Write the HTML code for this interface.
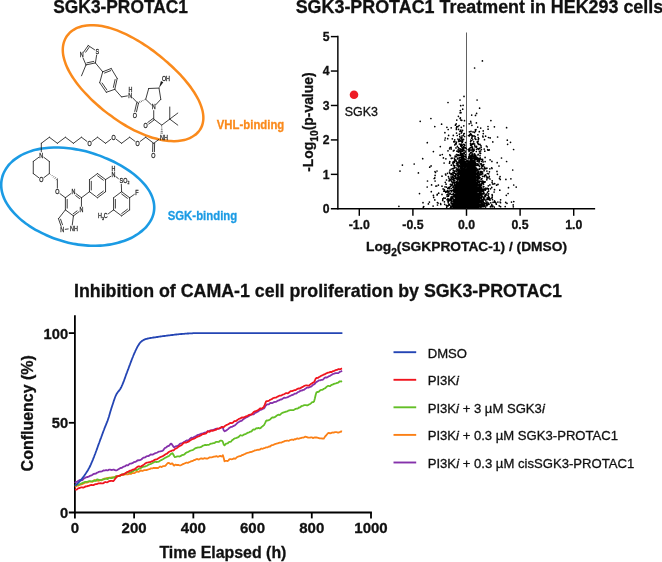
<!DOCTYPE html>
<html lang="en">
<head>
<meta charset="utf-8">
<title>SGK3-PROTAC1</title>
<style>
html,body{margin:0;padding:0;background:#fff;}
body{width:662px;height:562px;overflow:hidden;}
svg{display:block;font-family:"Liberation Sans", sans-serif;}
</style>
</head>
<body>
<svg width="662" height="562" viewBox="0 0 662 562">
<rect width="662" height="562" fill="#fff"/>
<text x="53.30" y="13.10" font-size="18.3" font-weight="bold" fill="#111" text-anchor="start" textLength="134.60" lengthAdjust="spacingAndGlyphs" stroke="#111" stroke-width="0.3">SGK3-PROTAC1</text>
<text x="295.70" y="13.30" font-size="18.3" font-weight="bold" fill="#111" text-anchor="start" textLength="367.50" lengthAdjust="spacingAndGlyphs" stroke="#111" stroke-width="0.3">SGK3-PROTAC1 Treatment in HEK293 cells</text>
<text x="74.00" y="297.20" font-size="18.5" font-weight="bold" fill="#111" text-anchor="start" textLength="488.00" lengthAdjust="spacingAndGlyphs" stroke="#111" stroke-width="0.3">Inhibition of CAMA-1 cell proliferation by SGK3-PROTAC1</text>
<path d="M198.35 131.88C197.80 132.52 197.20 133.13 196.56 133.71C195.92 134.28 195.25 134.83 194.54 135.34C193.82 135.85 193.08 136.33 192.29 136.78C191.51 137.23 190.69 137.64 189.84 138.02C188.99 138.41 188.10 138.76 187.18 139.07C186.26 139.39 185.30 139.67 184.31 139.92C183.32 140.17 182.30 140.38 181.25 140.55C180.19 140.73 179.10 140.87 177.98 140.97C176.86 141.07 175.71 141.13 174.52 141.16C173.34 141.18 172.12 141.16 170.87 141.10C169.63 141.04 168.35 140.94 167.04 140.79C165.73 140.65 164.40 140.46 163.04 140.23C161.68 139.99 160.29 139.72 158.88 139.40C157.47 139.08 156.04 138.71 154.59 138.30C153.14 137.89 151.67 137.44 150.18 136.94C148.70 136.45 147.20 135.91 145.69 135.33C144.18 134.75 142.66 134.13 141.14 133.47C139.61 132.81 138.08 132.11 136.55 131.37C135.02 130.64 133.48 129.87 131.95 129.06C130.42 128.26 128.89 127.42 127.37 126.55C125.84 125.69 124.32 124.79 122.82 123.86C121.31 122.94 119.81 121.99 118.32 121.01C116.83 120.03 115.36 119.03 113.90 118.01C112.43 116.98 110.99 115.94 109.55 114.87C108.12 113.81 106.71 112.72 105.31 111.62C103.91 110.52 102.53 109.40 101.18 108.26C99.82 107.13 98.48 105.97 97.16 104.81C95.84 103.64 94.55 102.46 93.28 101.27C92.01 100.07 90.76 98.87 89.55 97.65C88.33 96.44 87.13 95.21 85.97 93.97C84.81 92.73 83.68 91.49 82.59 90.24C81.49 88.98 80.43 87.72 79.40 86.46C78.38 85.20 77.38 83.93 76.44 82.66C75.49 81.39 74.58 80.12 73.72 78.86C72.86 77.59 72.04 76.32 71.27 75.06C70.51 73.81 69.78 72.55 69.11 71.31C68.44 70.07 67.82 68.83 67.25 67.61C66.69 66.39 66.17 65.18 65.71 63.99C65.25 62.80 64.85 61.62 64.50 60.47C64.15 59.32 63.85 58.18 63.61 57.07C63.37 55.96 63.18 54.87 63.04 53.81C62.91 52.74 62.83 51.70 62.80 50.69C62.77 49.68 62.79 48.70 62.87 47.74C62.94 46.78 63.06 45.85 63.23 44.95C63.39 44.05 63.61 43.18 63.87 42.33C64.13 41.49 64.43 40.67 64.78 39.89C65.12 39.10 65.51 38.34 65.94 37.61C66.36 36.88 66.83 36.18 67.34 35.51C67.84 34.84 68.39 34.19 68.97 33.58C69.55 32.96 70.17 32.38 70.83 31.82C71.48 31.27 72.18 30.74 72.91 30.25C73.64 29.75 74.41 29.29 75.22 28.86C76.03 28.43 76.87 28.03 77.75 27.67C78.63 27.31 79.56 26.98 80.51 26.69C81.47 26.41 82.47 26.15 83.51 25.94C84.54 25.73 85.62 25.56 86.73 25.43C87.85 25.30 89.00 25.22 90.18 25.18C91.37 25.14 92.60 25.14 93.86 25.20C95.11 25.25 96.41 25.35 97.73 25.50C99.06 25.65 100.42 25.85 101.80 26.09C103.18 26.34 104.60 26.64 106.03 26.98C107.47 27.33 108.93 27.72 110.41 28.16C111.88 28.60 113.38 29.09 114.89 29.63C116.39 30.16 117.92 30.74 119.45 31.36C120.97 31.98 122.51 32.65 124.05 33.35C125.59 34.05 127.13 34.79 128.67 35.57C130.21 36.35 131.75 37.16 133.28 38.00C134.81 38.84 136.33 39.72 137.85 40.62C139.36 41.52 140.87 42.45 142.36 43.40C143.85 44.35 145.33 45.33 146.80 46.33C148.26 47.32 149.72 48.34 151.15 49.37C152.59 50.41 154.01 51.46 155.41 52.53C156.82 53.60 158.21 54.68 159.58 55.78C160.95 56.87 162.30 57.99 163.64 59.11C164.98 60.23 166.30 61.37 167.60 62.52C168.90 63.67 170.18 64.84 171.44 66.01C172.70 67.18 173.94 68.37 175.16 69.57C176.38 70.76 177.58 71.97 178.75 73.19C179.92 74.41 181.07 75.64 182.19 76.87C183.31 78.11 184.40 79.36 185.46 80.61C186.51 81.86 187.54 83.12 188.53 84.38C189.51 85.65 190.47 86.92 191.38 88.18C192.29 89.45 193.16 90.72 193.98 91.99C194.80 93.25 195.58 94.52 196.30 95.78C197.03 97.03 197.70 98.29 198.33 99.53C198.95 100.76 199.51 102.00 200.02 103.21C200.53 104.42 200.99 105.62 201.38 106.80C201.78 107.98 202.11 109.14 202.39 110.27C202.67 111.41 202.88 112.52 203.04 113.61C203.20 114.69 203.30 115.76 203.34 116.78C203.38 117.81 203.36 118.82 203.29 119.78C203.21 120.75 203.08 121.69 202.90 122.60C202.72 123.50 202.48 124.38 202.19 125.22C201.91 126.06 201.57 126.86 201.19 127.64C200.81 128.41 200.38 129.15 199.90 129.86C199.43 130.57 198.91 131.24 198.35 131.88Z" fill="none" stroke="#fa8a1c" stroke-width="2.5"/>
<path d="M152.85 215.86C152.52 216.82 152.14 217.77 151.71 218.70C151.27 219.63 150.79 220.54 150.25 221.43C149.72 222.32 149.13 223.19 148.51 224.04C147.88 224.89 147.21 225.72 146.49 226.53C145.78 227.34 145.02 228.13 144.22 228.89C143.42 229.66 142.58 230.41 141.70 231.13C140.83 231.85 139.91 232.56 138.96 233.23C138.01 233.91 137.02 234.57 136.00 235.20C134.97 235.84 133.91 236.45 132.82 237.03C131.72 237.62 130.59 238.18 129.43 238.71C128.27 239.25 127.07 239.76 125.84 240.24C124.60 240.72 123.34 241.18 122.04 241.60C120.74 242.03 119.41 242.43 118.05 242.79C116.69 243.16 115.30 243.49 113.87 243.80C112.45 244.10 111.00 244.37 109.52 244.60C108.04 244.84 106.54 245.04 105.01 245.21C103.48 245.37 101.92 245.50 100.35 245.59C98.77 245.68 97.17 245.74 95.56 245.75C93.95 245.77 92.32 245.75 90.68 245.69C89.03 245.63 87.38 245.53 85.71 245.40C84.05 245.26 82.38 245.08 80.71 244.87C79.03 244.66 77.35 244.41 75.68 244.12C74.00 243.83 72.32 243.51 70.65 243.15C68.98 242.79 67.32 242.39 65.66 241.96C64.01 241.53 62.36 241.07 60.73 240.57C59.10 240.08 57.48 239.55 55.88 238.99C54.28 238.43 52.70 237.84 51.13 237.23C49.57 236.61 48.03 235.96 46.51 235.29C44.99 234.62 43.49 233.92 42.03 233.20C40.56 232.47 39.11 231.73 37.70 230.95C36.28 230.18 34.89 229.39 33.54 228.57C32.19 227.76 30.86 226.92 29.57 226.06C28.28 225.21 27.02 224.33 25.80 223.44C24.58 222.54 23.39 221.63 22.25 220.70C21.10 219.77 19.99 218.82 18.92 217.87C17.85 216.91 16.83 215.93 15.84 214.94C14.86 213.96 13.92 212.96 13.03 211.95C12.13 210.94 11.28 209.91 10.48 208.88C9.68 207.85 8.93 206.81 8.23 205.77C7.53 204.73 6.87 203.67 6.27 202.62C5.67 201.56 5.13 200.50 4.63 199.44C4.13 198.38 3.69 197.32 3.30 196.25C2.91 195.19 2.58 194.13 2.30 193.07C2.01 192.02 1.79 190.96 1.61 189.91C1.44 188.86 1.32 187.81 1.26 186.78C1.19 185.74 1.18 184.71 1.22 183.69C1.26 182.67 1.35 181.66 1.50 180.66C1.64 179.66 1.84 178.67 2.09 177.70C2.33 176.72 2.63 175.76 2.98 174.81C3.33 173.86 3.73 172.93 4.18 172.01C4.62 171.10 5.12 170.19 5.66 169.31C6.21 168.43 6.80 167.56 7.44 166.71C8.07 165.87 8.76 165.04 9.49 164.23C10.22 163.42 11.00 162.63 11.83 161.87C12.65 161.11 13.52 160.36 14.44 159.65C15.35 158.93 16.31 158.23 17.32 157.57C18.32 156.90 19.37 156.26 20.46 155.65C21.55 155.04 22.69 154.46 23.86 153.90C25.04 153.35 26.26 152.83 27.52 152.34C28.77 151.86 30.07 151.40 31.41 150.98C32.74 150.56 34.11 150.18 35.52 149.83C36.92 149.48 38.37 149.17 39.83 148.90C41.30 148.63 42.80 148.39 44.33 148.20C45.85 148.00 47.41 147.84 48.98 147.73C50.55 147.61 52.15 147.53 53.76 147.50C55.37 147.46 57.00 147.46 58.63 147.50C60.27 147.54 61.92 147.62 63.58 147.74C65.24 147.86 66.90 148.01 68.57 148.20C70.23 148.39 71.90 148.62 73.57 148.88C75.23 149.15 76.90 149.44 78.55 149.77C80.21 150.10 81.86 150.46 83.50 150.85C85.15 151.24 86.78 151.67 88.40 152.12C90.02 152.57 91.64 153.05 93.23 153.55C94.83 154.05 96.41 154.59 97.98 155.14C99.55 155.70 101.10 156.28 102.64 156.88C104.18 157.48 105.70 158.11 107.20 158.76C108.70 159.41 110.18 160.08 111.65 160.78C113.11 161.47 114.55 162.18 115.98 162.92C117.40 163.66 118.80 164.41 120.18 165.19C121.55 165.97 122.91 166.77 124.24 167.59C125.56 168.40 126.87 169.24 128.14 170.10C129.41 170.96 130.65 171.84 131.86 172.74C133.07 173.64 134.24 174.56 135.38 175.49C136.52 176.43 137.62 177.38 138.68 178.35C139.73 179.32 140.75 180.31 141.72 181.31C142.69 182.31 143.61 183.33 144.49 184.36C145.36 185.39 146.18 186.44 146.95 187.49C147.71 188.54 148.42 189.60 149.08 190.67C149.73 191.74 150.32 192.81 150.85 193.89C151.39 194.97 151.86 196.05 152.27 197.13C152.68 198.21 153.02 199.30 153.30 200.37C153.59 201.45 153.80 202.52 153.96 203.59C154.11 204.65 154.20 205.72 154.23 206.76C154.26 207.81 154.22 208.85 154.13 209.88C154.03 210.90 153.88 211.92 153.66 212.91C153.45 213.91 153.18 214.89 152.85 215.86Z" fill="none" stroke="#1b9be4" stroke-width="2.6"/>
<text x="216.80" y="129.40" font-size="13.5" font-weight="bold" fill="#fa8a1c" text-anchor="start" textLength="67.50" lengthAdjust="spacingAndGlyphs" stroke="#fa8a1c" stroke-width="0.3">VHL-binding</text>
<text x="167.70" y="220.10" font-size="13.5" font-weight="bold" fill="#1b9be4" text-anchor="start" textLength="69.50" lengthAdjust="spacingAndGlyphs" stroke="#1b9be4" stroke-width="0.3">SGK-binding</text>
<g stroke="#1c1c1c" stroke-width="0.85" stroke-linecap="round" fill="none"><line x1="43.84" y1="157.31" x2="49.33" y2="161.45"/><line x1="49.33" y1="161.45" x2="49.33" y2="173.55"/><line x1="49.33" y1="173.55" x2="43.84" y2="177.69"/><line x1="38.76" y1="177.69" x2="33.27" y2="173.55"/><line x1="33.27" y1="173.55" x2="33.27" y2="161.45"/><line x1="33.27" y1="161.45" x2="38.76" y2="157.31"/><line x1="41.30" y1="151.80" x2="41.30" y2="143.30"/><line x1="41.30" y1="143.30" x2="49.33" y2="137.25"/><line x1="49.33" y1="137.25" x2="57.36" y2="143.30"/><line x1="57.36" y1="143.30" x2="65.39" y2="137.25"/><line x1="65.39" y1="137.25" x2="73.42" y2="143.30"/><line x1="73.42" y1="143.30" x2="81.45" y2="137.25"/><line x1="81.45" y1="137.25" x2="86.94" y2="141.39"/><line x1="92.02" y1="141.39" x2="97.51" y2="137.25"/><line x1="97.51" y1="137.25" x2="105.54" y2="143.30"/><line x1="105.54" y1="143.30" x2="111.03" y2="139.16"/><line x1="116.11" y1="139.16" x2="121.60" y2="143.30"/><line x1="121.60" y1="143.30" x2="129.63" y2="137.25"/><line x1="129.63" y1="137.25" x2="135.12" y2="141.39"/><line x1="140.20" y1="141.39" x2="145.69" y2="137.25"/><line x1="145.69" y1="137.25" x2="153.72" y2="143.30"/><line x1="154.62" y1="143.32" x2="154.41" y2="151.72"/><line x1="152.82" y1="143.28" x2="152.61" y2="151.68"/><line x1="153.72" y1="143.30" x2="158.87" y2="139.42"/><line x1="161.35" y1="126.34" x2="162.15" y2="126.34" stroke-width="0.6" stroke-linecap="butt"/><line x1="161.14" y1="128.04" x2="162.36" y2="128.04" stroke-width="0.6" stroke-linecap="butt"/><line x1="160.93" y1="129.74" x2="162.57" y2="129.74" stroke-width="0.6" stroke-linecap="butt"/><line x1="160.72" y1="131.44" x2="162.78" y2="131.44" stroke-width="0.6" stroke-linecap="butt"/><line x1="160.51" y1="133.14" x2="162.99" y2="133.14" stroke-width="0.6" stroke-linecap="butt"/><line x1="161.75" y1="125.15" x2="153.72" y2="119.10"/><line x1="154.26" y1="119.82" x2="148.77" y2="123.95"/><line x1="153.18" y1="118.38" x2="147.69" y2="122.52"/><line x1="161.75" y1="125.15" x2="169.78" y2="119.10"/><line x1="169.78" y1="119.10" x2="169.78" y2="107.00"/><line x1="169.78" y1="119.10" x2="177.81" y2="113.05"/><line x1="169.78" y1="119.10" x2="177.81" y2="125.15"/><line x1="153.72" y1="119.10" x2="153.72" y2="110.60"/><line x1="151.38" y1="104.75" x2="145.70" y2="99.30"/><line x1="145.70" y1="99.30" x2="148.70" y2="88.50"/><line x1="148.70" y1="88.50" x2="159.00" y2="88.10"/><line x1="159.00" y1="88.10" x2="160.80" y2="99.30"/><line x1="160.80" y1="99.30" x2="155.94" y2="104.58"/><polygon points="159.00,88.10 163.30,82.21 160.96,81.07" fill="#1c1c1c" stroke="none"/><line x1="144.40" y1="99.46" x2="144.73" y2="100.18" stroke-width="0.6" stroke-linecap="butt"/><line x1="142.69" y1="100.01" x2="143.20" y2="101.11" stroke-width="0.6" stroke-linecap="butt"/><line x1="140.99" y1="100.55" x2="141.67" y2="102.04" stroke-width="0.6" stroke-linecap="butt"/><line x1="139.28" y1="101.10" x2="140.13" y2="102.97" stroke-width="0.6" stroke-linecap="butt"/><line x1="137.57" y1="101.65" x2="138.60" y2="103.90" stroke-width="0.6" stroke-linecap="butt"/><line x1="138.48" y1="103.20" x2="136.48" y2="111.83"/><line x1="136.72" y1="102.80" x2="134.73" y2="111.43"/><line x1="137.60" y1="103.00" x2="132.57" y2="97.76"/><line x1="127.33" y1="95.91" x2="121.50" y2="96.90"/><line x1="102.70" y1="71.80" x2="111.20" y2="68.50"/><line x1="104.54" y1="73.02" x2="110.66" y2="70.64"/><line x1="111.20" y1="68.50" x2="117.20" y2="78.40"/><line x1="117.20" y1="78.40" x2="114.80" y2="89.30"/><line x1="115.11" y1="79.54" x2="113.38" y2="87.39"/><line x1="114.80" y1="89.30" x2="106.30" y2="92.30"/><line x1="106.30" y1="92.30" x2="99.70" y2="82.70"/><line x1="106.86" y1="89.94" x2="102.11" y2="83.02"/><line x1="99.70" y1="82.70" x2="102.70" y2="71.80"/><line x1="121.50" y1="96.90" x2="114.80" y2="89.30"/><line x1="102.70" y1="71.80" x2="95.40" y2="62.90"/><line x1="95.40" y1="62.90" x2="86.00" y2="64.90"/><line x1="93.71" y1="61.42" x2="86.94" y2="62.86"/><line x1="86.00" y1="64.90" x2="83.06" y2="58.01"/><line x1="83.63" y1="52.04" x2="88.20" y2="45.50"/><line x1="85.74" y1="52.16" x2="89.04" y2="47.45"/><line x1="88.20" y1="45.50" x2="94.58" y2="49.75"/><line x1="96.64" y1="55.04" x2="95.40" y2="62.90"/><line x1="86.00" y1="64.90" x2="81.50" y2="75.80"/><line x1="50.22" y1="174.71" x2="50.69" y2="174.08" stroke-width="0.6" stroke-linecap="butt"/><line x1="51.69" y1="176.09" x2="52.43" y2="175.12" stroke-width="0.6" stroke-linecap="butt"/><line x1="53.17" y1="177.47" x2="54.16" y2="176.16" stroke-width="0.6" stroke-linecap="butt"/><line x1="54.65" y1="178.85" x2="55.89" y2="177.21" stroke-width="0.6" stroke-linecap="butt"/><line x1="56.13" y1="180.22" x2="57.62" y2="178.25" stroke-width="0.6" stroke-linecap="butt"/><line x1="57.36" y1="179.60" x2="57.36" y2="188.10"/><line x1="59.90" y1="193.61" x2="65.39" y2="197.75"/><line x1="65.39" y1="197.75" x2="70.88" y2="193.61"/><line x1="75.96" y1="193.61" x2="81.45" y2="197.75"/><line x1="75.65" y1="195.63" x2="79.60" y2="198.61"/><line x1="81.45" y1="197.75" x2="81.45" y2="206.25"/><line x1="78.91" y1="211.76" x2="73.42" y2="215.90"/><line x1="77.06" y1="210.91" x2="73.11" y2="213.88"/><line x1="73.42" y1="215.90" x2="65.39" y2="209.85"/><line x1="65.39" y1="209.85" x2="65.39" y2="197.75"/><line x1="67.19" y1="208.16" x2="67.19" y2="199.44"/><line x1="65.39" y1="209.85" x2="58.50" y2="218.70"/><line x1="58.50" y1="218.70" x2="61.15" y2="226.37"/><line x1="60.57" y1="219.19" x2="62.48" y2="224.71"/><line x1="65.28" y1="229.32" x2="68.23" y2="228.95"/><line x1="72.26" y1="224.93" x2="73.42" y2="215.90"/><line x1="89.48" y1="191.70" x2="89.48" y2="179.60"/><line x1="91.28" y1="190.01" x2="91.28" y2="181.29"/><line x1="89.48" y1="179.60" x2="97.51" y2="173.55"/><line x1="97.51" y1="173.55" x2="105.54" y2="179.60"/><line x1="97.55" y1="175.83" x2="103.33" y2="180.19"/><line x1="105.54" y1="179.60" x2="105.54" y2="191.70"/><line x1="105.54" y1="191.70" x2="97.51" y2="197.75"/><line x1="103.33" y1="191.11" x2="97.55" y2="195.47"/><line x1="97.51" y1="197.75" x2="89.48" y2="191.70"/><line x1="81.45" y1="197.75" x2="89.48" y2="191.70"/><line x1="105.54" y1="179.60" x2="110.71" y2="176.36"/><line x1="115.89" y1="176.66" x2="118.36" y2="178.59"/><line x1="121.60" y1="191.70" x2="129.63" y2="197.75"/><line x1="121.64" y1="193.98" x2="127.42" y2="198.34"/><line x1="129.63" y1="197.75" x2="129.63" y2="209.85"/><line x1="129.63" y1="209.85" x2="121.60" y2="215.90"/><line x1="127.42" y1="209.26" x2="121.64" y2="213.62"/><line x1="121.60" y1="215.90" x2="113.57" y2="209.85"/><line x1="113.57" y1="209.85" x2="113.57" y2="197.75"/><line x1="115.37" y1="208.16" x2="115.37" y2="199.44"/><line x1="113.57" y1="197.75" x2="121.60" y2="191.70"/><line x1="121.33" y1="184.40" x2="121.60" y2="191.70"/><line x1="129.63" y1="197.75" x2="134.32" y2="194.43"/><line x1="113.57" y1="209.85" x2="108.42" y2="213.73"/></g>
<g font-size="5.4" fill="#1c1c1c" font-weight="normal" stroke="#1c1c1c" stroke-width="0.22"><text transform="translate(41.30,157.80) scale(1,1.22)" text-anchor="middle">N</text><text transform="translate(41.30,182.00) scale(1,1.22)" text-anchor="middle">O</text><text transform="translate(89.48,145.70) scale(1,1.22)" text-anchor="middle">O</text><text transform="translate(113.57,139.65) scale(1,1.22)" text-anchor="middle">O</text><text transform="translate(137.66,145.70) scale(1,1.22)" text-anchor="middle">O</text><text transform="translate(153.42,157.70) scale(1,1.22)" text-anchor="middle">O</text><text transform="translate(160.05,139.65) scale(1,1.22)" text-anchor="start">NH</text><text transform="translate(145.69,127.55) scale(1,1.22)" text-anchor="middle">O</text><text transform="translate(153.72,109.40) scale(1,1.22)" text-anchor="middle">N</text><text transform="translate(161.90,80.80) scale(1,1.22)" text-anchor="start">OH</text><text transform="translate(134.80,117.50) scale(1,1.22)" text-anchor="middle">O</text><text transform="translate(130.30,97.80) scale(1,1.22)" text-anchor="middle">N</text><text transform="translate(130.50,91.70) scale(1,1.22)" text-anchor="middle">H</text><text transform="translate(81.70,57.20) scale(1,1.22)" text-anchor="middle">N</text><text transform="translate(97.20,53.90) scale(1,1.22)" text-anchor="middle">S</text><text transform="translate(57.36,194.10) scale(1,1.22)" text-anchor="middle">O</text><text transform="translate(73.42,194.10) scale(1,1.22)" text-anchor="middle">N</text><text transform="translate(81.45,212.25) scale(1,1.22)" text-anchor="middle">N</text><text transform="translate(62.30,232.10) scale(1,1.22)" text-anchor="middle">N</text><text transform="translate(70.10,230.90) scale(1,1.22)" text-anchor="start">NH</text><text transform="translate(113.37,177.10) scale(1,1.22)" text-anchor="middle">N</text><text transform="translate(113.37,170.60) scale(1,1.22)" text-anchor="middle">H</text><text transform="translate(119.60,183.20) scale(1,1.22)" text-anchor="start">SO<tspan font-size="3.5" dy="1">2</tspan></text><text transform="translate(136.90,195.00) scale(1,1.22)" text-anchor="middle">F</text><text transform="translate(107.74,218.30) scale(1,1.22)" text-anchor="end">H<tspan font-size="3.5" dy="1">3</tspan><tspan dy="-1">C</tspan></text></g>
<g stroke="#000" stroke-width="1.45" fill="none"><line x1="337.86" y1="35.85" x2="337.86" y2="209.55"/><line x1="330.86" y1="208.80" x2="595.14" y2="208.80"/><line x1="330.86" y1="174.36" x2="337.86" y2="174.36"/><line x1="330.86" y1="139.92" x2="337.86" y2="139.92"/><line x1="330.86" y1="105.48" x2="337.86" y2="105.48"/><line x1="330.86" y1="71.04" x2="337.86" y2="71.04"/><line x1="330.86" y1="36.60" x2="337.86" y2="36.60"/><line x1="359.30" y1="208.80" x2="359.30" y2="215.80"/><line x1="412.90" y1="208.80" x2="412.90" y2="215.80"/><line x1="466.50" y1="208.80" x2="466.50" y2="215.80"/><line x1="520.10" y1="208.80" x2="520.10" y2="215.80"/><line x1="573.70" y1="208.80" x2="573.70" y2="215.80"/></g>
<line x1="466.5" y1="32.5" x2="466.5" y2="208.8" stroke="#444" stroke-width="0.85"/>
<text x="329.56" y="213.10" font-size="12.2" font-weight="bold" fill="#111" text-anchor="end" stroke="#111" stroke-width="0.3">0</text>
<text x="329.56" y="178.66" font-size="12.2" font-weight="bold" fill="#111" text-anchor="end" stroke="#111" stroke-width="0.3">1</text>
<text x="329.56" y="144.22" font-size="12.2" font-weight="bold" fill="#111" text-anchor="end" stroke="#111" stroke-width="0.3">2</text>
<text x="329.56" y="109.78" font-size="12.2" font-weight="bold" fill="#111" text-anchor="end" stroke="#111" stroke-width="0.3">3</text>
<text x="329.56" y="75.34" font-size="12.2" font-weight="bold" fill="#111" text-anchor="end" stroke="#111" stroke-width="0.3">4</text>
<text x="329.56" y="40.90" font-size="12.2" font-weight="bold" fill="#111" text-anchor="end" stroke="#111" stroke-width="0.3">5</text>
<text x="359.30" y="228.60" font-size="12.3" font-weight="bold" fill="#111" text-anchor="middle" stroke="#111" stroke-width="0.3">-1.0</text>
<text x="412.90" y="228.60" font-size="12.3" font-weight="bold" fill="#111" text-anchor="middle" stroke="#111" stroke-width="0.3">-0.5</text>
<text x="466.50" y="228.60" font-size="12.3" font-weight="bold" fill="#111" text-anchor="middle" stroke="#111" stroke-width="0.3">0.0</text>
<text x="520.10" y="228.60" font-size="12.3" font-weight="bold" fill="#111" text-anchor="middle" stroke="#111" stroke-width="0.3">0.5</text>
<text x="573.70" y="228.60" font-size="12.3" font-weight="bold" fill="#111" text-anchor="middle" stroke="#111" stroke-width="0.3">1.0</text>
<text transform="translate(313.2,171.8) rotate(-90)" font-size="15" font-weight="bold" fill="#111" stroke="#111" stroke-width="0.3" textLength="99.4" lengthAdjust="spacingAndGlyphs">-Log<tspan font-size="11" dy="4.8">10</tspan><tspan dy="-4.8">(p-value)</tspan></text>
<text x="366" y="251.3" font-size="13.6" font-weight="bold" fill="#111" stroke="#111" stroke-width="0.3" textLength="201" lengthAdjust="spacingAndGlyphs">Log<tspan font-size="10" dy="4.5">2</tspan><tspan dy="-4.5">(SGKPROTAC-1) / (DMSO)</tspan></text>
<circle cx="354" cy="94.8" r="4.3" fill="#ee1c25"/>
<text x="344.80" y="116.30" font-size="12.5" font-weight="normal" fill="#111" text-anchor="start" textLength="33.20" lengthAdjust="spacingAndGlyphs" stroke="#111" stroke-width="0.3">SGK3</text>
<path d="M480.6 172.6h0M467.5 195.8h0M466.4 198.9h0M466.8 175.0h0M470.2 206.3h0M462.4 162.4h0M472.0 172.8h0M468.6 206.7h0M462.2 199.5h0M474.5 190.6h0M454.7 196.2h0M468.9 200.6h0M463.9 185.6h0M464.8 173.8h0M440.6 203.5h0M468.8 200.8h0M485.4 196.2h0M468.0 204.1h0M468.9 197.4h0M458.6 207.3h0M473.7 180.5h0M471.9 197.5h0M466.2 195.2h0M477.7 189.9h0M468.3 198.6h0M464.0 182.9h0M468.7 203.8h0M466.6 205.2h0M475.1 172.6h0M465.4 194.6h0M469.7 185.7h0M465.8 165.2h0M468.3 205.7h0M464.5 193.2h0M464.1 175.0h0M457.9 200.9h0M466.4 180.3h0M469.5 205.8h0M471.9 181.6h0M468.2 149.5h0M476.4 180.2h0M463.5 189.5h0M464.5 194.7h0M462.4 205.9h0M461.4 201.5h0M464.5 189.2h0M445.3 138.0h0M464.1 176.3h0M469.1 207.5h0M468.4 194.3h0M460.9 201.3h0M476.2 158.0h0M471.5 150.0h0M464.0 204.7h0M461.5 198.5h0M469.5 187.6h0M467.7 188.0h0M462.3 166.4h0M463.3 177.7h0M468.8 204.6h0M473.6 194.6h0M462.6 172.4h0M464.8 202.4h0M468.0 179.8h0M463.6 160.2h0M455.5 198.8h0M467.9 205.7h0M486.4 146.0h0M471.1 203.9h0M474.4 179.3h0M475.4 139.1h0M461.2 186.7h0M462.2 202.2h0M464.3 195.5h0M448.6 204.9h0M469.9 181.6h0M462.5 187.9h0M467.8 184.5h0M467.5 207.2h0M468.7 206.6h0M470.6 189.2h0M462.9 193.4h0M460.1 187.9h0M458.5 202.6h0M463.7 161.6h0M460.9 192.1h0M465.4 183.6h0M468.9 204.7h0M470.4 202.5h0M459.4 197.3h0M462.5 200.6h0M466.0 201.3h0M467.0 203.4h0M464.6 206.3h0M471.2 175.2h0M461.2 199.6h0M469.5 174.5h0M477.4 193.7h0M457.2 203.5h0M469.3 205.7h0M467.3 202.9h0M461.9 150.6h0M466.1 190.2h0M470.4 176.7h0M470.7 207.6h0M463.6 174.6h0M466.3 183.6h0M475.1 190.0h0M466.8 205.2h0M468.8 199.9h0M470.6 176.3h0M465.3 195.7h0M461.0 164.2h0M455.7 199.2h0M469.8 182.7h0M458.3 152.1h0M460.1 170.8h0M460.8 197.6h0M472.7 199.9h0M474.5 188.4h0M467.0 200.1h0M471.8 189.8h0M474.1 172.9h0M460.8 187.9h0M473.6 191.8h0M468.0 206.0h0M466.9 170.8h0M466.8 165.8h0M462.0 197.8h0M474.9 207.0h0M472.0 205.9h0M465.3 201.5h0M462.1 203.9h0M475.6 201.1h0M467.9 174.5h0M471.2 194.5h0M468.9 156.3h0M469.8 203.8h0M471.7 202.0h0M473.0 203.9h0M467.8 202.9h0M452.3 185.1h0M462.8 203.6h0M471.1 183.9h0M470.8 173.8h0M476.3 191.6h0M471.6 195.7h0M461.6 186.2h0M469.7 199.1h0M465.7 199.0h0M470.4 183.3h0M463.4 199.5h0M467.5 190.0h0M466.4 202.3h0M462.3 186.5h0M462.3 203.8h0M470.7 192.6h0M459.6 197.5h0M459.5 200.9h0M462.3 196.4h0M463.5 184.5h0M466.9 207.2h0M468.1 188.4h0M472.2 197.4h0M466.0 175.8h0M468.7 203.8h0M473.1 203.4h0M468.4 199.9h0M468.0 205.8h0M467.9 202.8h0M470.9 187.0h0M460.3 200.1h0M464.1 189.2h0M468.9 202.7h0M462.1 191.3h0M470.5 175.6h0M465.6 205.4h0M462.1 201.3h0M463.7 202.6h0M453.1 197.7h0M463.9 203.4h0M459.9 193.9h0M461.6 197.9h0M460.6 160.3h0M466.5 197.6h0M465.0 204.1h0M467.9 201.7h0M462.0 203.9h0M465.6 195.6h0M465.3 205.4h0M469.9 169.7h0M465.2 205.3h0M468.5 190.7h0M463.7 166.7h0M469.6 199.4h0M473.4 194.2h0M470.8 193.1h0M467.0 204.9h0M466.7 173.8h0M469.1 199.4h0M457.2 192.6h0M463.4 196.7h0M463.2 195.8h0M464.9 173.3h0M463.5 196.2h0M473.0 205.1h0M478.6 177.5h0M453.3 161.7h0M468.5 194.4h0M466.5 207.2h0M460.3 154.4h0M468.7 207.4h0M465.6 197.0h0M462.2 171.5h0M463.8 192.7h0M492.2 180.8h0M460.8 201.9h0M466.7 197.1h0M462.9 186.4h0M463.1 184.3h0M465.2 205.2h0M470.7 203.1h0M474.8 193.5h0M465.1 192.2h0M465.7 202.4h0M465.9 207.1h0M469.2 176.3h0M470.1 190.3h0M466.2 196.0h0M457.3 162.6h0M475.2 157.7h0M469.3 181.7h0M465.9 191.4h0M467.6 202.4h0M468.0 199.2h0M457.0 154.7h0M479.0 194.1h0M465.2 205.3h0M470.8 206.1h0M468.8 190.4h0M454.1 205.6h0M467.5 206.3h0M475.1 192.3h0M470.4 202.6h0M468.9 190.4h0M464.6 175.7h0M469.3 198.2h0M474.1 165.9h0M478.7 200.6h0M460.3 204.0h0M468.5 206.1h0M465.9 193.9h0M473.7 171.1h0M461.9 205.9h0M462.1 205.2h0M465.9 207.0h0M479.9 198.7h0M485.8 200.9h0M469.2 190.8h0M478.2 178.7h0M459.7 186.6h0M463.4 202.0h0M461.2 188.4h0M467.2 201.3h0M464.1 195.9h0M461.4 193.9h0M472.0 207.0h0M466.6 177.0h0M478.5 195.3h0M472.9 176.3h0M464.1 206.5h0M468.8 195.4h0M463.3 188.8h0M455.4 177.2h0M478.0 198.7h0M468.8 191.9h0M466.0 172.4h0M484.2 149.1h0M465.9 191.6h0M467.3 198.4h0M477.4 196.4h0M466.1 205.8h0M469.0 206.0h0M468.1 206.5h0M462.6 203.8h0M473.5 195.0h0M468.0 196.6h0M468.1 191.9h0M476.1 192.0h0M461.0 153.4h0M460.5 203.8h0M462.9 183.7h0M464.0 147.4h0M470.7 194.6h0M469.6 201.9h0M466.6 193.4h0M466.8 190.4h0M475.6 200.5h0M452.2 176.7h0M460.6 131.2h0M474.3 198.7h0M462.9 196.8h0M464.3 205.1h0M466.7 192.6h0M472.6 203.5h0M461.0 146.2h0M461.7 198.8h0M475.2 182.3h0M463.6 161.6h0M460.8 172.5h0M475.9 190.9h0M461.8 189.1h0M463.2 197.8h0M470.0 205.6h0M461.9 190.4h0M510.9 178.8h0M473.2 198.3h0M465.3 191.3h0M471.1 188.0h0M469.7 191.4h0M471.5 156.8h0M455.5 197.5h0M473.5 199.6h0M456.6 202.7h0M458.9 206.9h0M465.4 189.9h0M474.9 200.4h0M464.9 193.7h0M466.2 181.4h0M457.3 205.6h0M456.6 202.6h0M470.1 206.6h0M462.9 204.2h0M462.6 206.1h0M474.7 172.6h0M467.4 180.0h0M470.2 192.5h0M468.4 201.2h0M471.8 193.5h0M472.8 196.2h0M461.9 202.9h0M466.1 201.0h0M462.6 156.1h0M467.5 183.9h0M464.1 202.1h0M467.8 201.1h0M467.2 192.2h0M463.9 186.8h0M480.3 204.4h0M474.4 185.6h0M477.6 148.5h0M481.4 183.8h0M477.2 141.9h0M468.8 204.0h0M489.4 171.8h0M466.7 207.2h0M465.1 181.2h0M467.4 187.4h0M453.0 198.5h0M466.2 187.5h0M476.0 191.1h0M458.7 169.0h0M453.8 191.5h0M474.3 182.1h0M466.6 206.0h0M472.2 185.9h0M465.2 185.3h0M466.7 201.0h0M468.9 205.5h0M458.8 186.8h0M457.6 190.9h0M464.5 201.9h0M466.8 203.6h0M469.0 199.3h0M465.6 178.3h0M470.7 178.4h0M463.3 202.9h0M472.6 201.7h0M470.9 205.7h0M468.3 203.4h0M463.2 192.9h0M477.2 173.2h0M473.1 205.6h0M468.7 201.4h0M465.0 198.2h0M468.8 201.1h0M478.2 191.3h0M453.4 189.4h0M460.0 198.2h0M467.5 195.2h0M473.0 201.7h0M466.4 206.5h0M467.4 204.8h0M463.5 191.4h0M461.3 190.8h0M469.5 206.3h0M473.4 191.7h0M467.2 203.8h0M463.4 167.1h0M458.1 194.0h0M473.6 196.3h0M460.8 204.0h0M465.0 205.4h0M468.8 175.6h0M470.5 199.4h0M466.2 199.7h0M435.1 175.4h0M462.4 204.5h0M463.0 197.5h0M466.4 206.9h0M463.0 178.9h0M469.5 196.6h0M457.6 188.4h0M466.0 200.1h0M469.7 199.1h0M470.9 196.2h0M459.1 188.4h0M468.4 195.9h0M466.4 190.8h0M466.5 205.6h0M463.4 194.4h0M460.7 194.9h0M467.2 184.5h0M478.0 184.2h0M453.9 206.8h0M460.3 187.8h0M469.0 205.2h0M470.8 198.7h0M460.8 207.3h0M467.5 176.8h0M460.0 206.6h0M472.6 203.2h0M465.8 198.0h0M470.8 201.7h0M466.6 202.1h0M460.9 193.9h0M475.0 199.8h0M468.8 182.4h0M461.9 142.0h0M458.9 200.9h0M479.4 194.9h0M462.8 205.9h0M466.6 184.9h0M470.9 204.2h0M471.5 207.4h0M464.5 205.8h0M467.2 207.0h0M482.6 176.3h0M468.1 176.9h0M456.5 182.4h0M467.6 190.2h0M461.2 170.8h0M469.4 175.3h0M459.6 139.5h0M466.0 206.4h0M466.3 190.2h0M466.5 199.6h0M456.8 194.2h0M461.3 202.5h0M469.0 203.9h0M479.1 191.2h0M466.2 196.9h0M476.0 167.9h0M470.3 186.2h0M473.1 182.0h0M449.5 187.6h0M447.8 188.4h0M465.7 198.2h0M462.5 188.8h0M463.8 188.5h0M465.4 204.4h0M474.6 132.4h0M445.9 158.8h0M460.2 205.1h0M467.9 199.8h0M461.7 202.2h0M465.7 206.9h0M460.7 181.6h0M460.5 206.2h0M466.1 183.4h0M463.8 196.4h0M467.8 201.1h0M473.5 203.7h0M462.9 183.8h0M468.3 195.0h0M463.2 186.4h0M470.9 207.3h0M468.6 205.9h0M465.7 198.4h0M469.4 203.5h0M455.6 205.8h0M466.1 188.8h0M467.0 207.3h0M450.4 193.9h0M484.5 176.2h0M463.1 196.8h0M465.0 198.7h0M470.2 201.3h0M470.4 200.8h0M473.7 200.0h0M465.0 206.2h0M460.7 200.8h0M461.3 207.2h0M465.9 196.2h0M477.5 204.0h0M461.7 174.1h0M473.9 205.7h0M458.0 193.5h0M466.8 205.4h0M479.4 188.2h0M465.1 199.6h0M458.5 204.8h0M479.5 201.8h0M462.9 199.4h0M474.3 207.1h0M474.7 166.2h0M485.8 168.7h0M469.3 197.5h0M480.7 206.8h0M465.6 201.2h0M472.6 187.6h0M465.4 169.6h0M469.5 193.9h0M471.0 195.1h0M463.1 194.7h0M461.6 199.4h0M470.4 185.5h0M471.3 205.4h0M467.5 186.4h0M471.2 169.5h0M461.2 189.6h0M460.2 206.5h0M460.3 176.3h0M461.9 185.8h0M461.1 206.3h0M466.2 189.6h0M466.6 204.7h0M458.5 154.9h0M470.6 205.6h0M463.1 183.1h0M458.2 178.4h0M469.4 202.5h0M464.2 207.4h0M468.7 206.9h0M473.6 202.7h0M461.7 206.1h0M467.6 207.4h0M475.9 197.5h0M481.2 174.6h0M466.2 204.8h0M469.4 191.8h0M473.7 187.8h0M470.4 195.8h0M463.1 150.4h0M431.6 184.9h0M471.4 198.8h0M464.2 202.7h0M468.2 206.9h0M473.3 204.2h0M468.3 206.6h0M463.6 199.9h0M467.5 202.3h0M472.4 198.5h0M462.3 164.8h0M482.6 160.2h0M470.5 202.9h0M471.0 180.4h0M461.1 203.6h0M463.1 194.5h0M476.4 122.9h0M467.3 197.8h0M465.9 193.7h0M467.6 163.2h0M470.1 184.7h0M473.1 187.4h0M466.8 189.5h0M471.9 201.7h0M462.0 177.1h0M475.0 193.7h0M468.8 199.1h0M467.2 206.7h0M463.4 170.7h0M465.6 164.4h0M473.3 179.4h0M459.9 181.8h0M476.9 176.6h0M475.4 181.0h0M458.3 182.0h0M460.5 195.1h0M462.6 200.2h0M467.2 190.4h0M479.1 177.2h0M471.2 167.4h0M476.7 184.8h0M465.2 177.5h0M461.3 195.1h0M465.0 205.2h0M458.7 201.9h0M467.1 180.4h0M464.2 161.7h0M466.2 193.4h0M468.4 190.3h0M463.4 201.1h0M472.6 165.3h0M457.7 184.3h0M470.5 201.2h0M459.2 198.0h0M467.8 196.3h0M468.6 205.8h0M472.2 170.5h0M462.1 179.8h0M465.7 197.9h0M464.1 197.9h0M471.6 207.3h0M465.5 207.2h0M466.6 198.5h0M465.8 202.9h0M461.3 201.5h0M472.6 173.2h0M466.6 199.0h0M464.9 187.4h0M476.7 190.1h0M464.7 176.0h0M460.8 204.9h0M464.0 201.9h0M471.8 202.7h0M468.8 186.4h0M465.5 192.7h0M462.5 178.0h0M467.6 199.0h0M467.3 204.6h0M467.9 203.3h0M466.1 206.4h0M462.7 184.7h0M475.2 201.6h0M465.6 172.4h0M467.2 197.0h0M453.3 170.0h0M467.5 197.1h0M466.8 197.2h0M464.3 189.6h0M472.9 189.7h0M466.4 201.8h0M476.1 195.1h0M470.1 192.3h0M470.3 170.4h0M464.7 186.0h0M472.6 204.8h0M494.3 207.1h0M473.7 190.8h0M474.0 205.2h0M461.9 205.3h0M460.7 181.6h0M469.0 185.5h0M470.4 201.4h0M465.2 187.4h0M468.4 206.8h0M464.2 190.4h0M466.5 202.2h0M468.2 201.7h0M467.0 181.3h0M479.1 205.1h0M473.8 188.6h0M465.2 170.0h0M456.2 156.6h0M478.3 194.1h0M454.2 199.8h0M463.8 185.4h0M467.8 204.7h0M438.4 185.1h0M466.5 204.8h0M513.6 149.5h0M471.7 184.8h0M465.5 176.3h0M468.7 193.9h0M468.9 189.7h0M480.6 191.8h0M463.1 204.9h0M463.7 198.3h0M467.5 199.0h0M468.9 191.5h0M458.0 204.0h0M457.5 195.8h0M458.4 202.6h0M455.2 206.1h0M451.5 199.2h0M469.5 193.4h0M457.6 184.9h0M452.4 206.0h0M464.5 203.0h0M455.8 203.8h0M474.9 181.9h0M466.7 193.5h0M459.7 205.5h0M468.6 183.7h0M464.0 204.1h0M474.9 197.1h0M465.5 181.7h0M470.8 190.9h0M474.8 163.7h0M462.1 200.8h0M466.3 202.2h0M464.0 147.2h0M464.5 187.2h0M467.4 203.1h0M472.8 180.2h0M467.0 197.0h0M468.0 203.9h0M464.9 198.0h0M468.1 171.8h0M468.7 206.0h0M467.7 202.6h0M469.4 197.9h0M471.2 188.8h0M473.0 198.4h0M468.3 191.6h0M461.3 171.3h0M462.2 171.7h0M467.3 177.4h0M494.7 183.7h0M465.4 199.9h0M460.2 198.3h0M465.7 198.6h0M459.0 204.3h0M464.9 167.5h0M463.7 191.5h0M472.3 192.8h0M472.1 164.3h0M467.9 161.3h0M483.2 169.0h0M468.6 191.5h0M468.9 203.0h0M436.7 186.0h0M463.0 202.5h0M464.6 182.8h0M464.5 186.3h0M460.8 194.8h0M463.3 163.4h0M459.1 193.9h0M469.6 198.4h0M462.4 204.3h0M462.3 158.5h0M468.4 203.8h0M474.9 198.0h0M475.9 198.3h0M455.9 156.9h0M468.5 205.4h0M467.9 185.7h0M472.8 197.3h0M460.2 197.0h0M468.4 206.0h0M460.0 198.9h0M450.4 207.5h0M473.6 182.7h0M473.4 200.6h0M468.2 198.2h0M462.8 196.2h0M475.6 199.7h0M470.3 197.4h0M465.9 189.0h0M465.8 200.0h0M462.2 165.2h0M470.6 195.1h0M471.8 194.1h0M463.2 181.2h0M466.5 198.0h0M462.9 200.8h0M467.2 172.1h0M459.9 186.9h0M479.6 160.2h0M463.4 198.8h0M482.0 164.9h0M466.3 182.5h0M464.3 193.9h0M462.9 194.1h0M478.5 149.4h0M462.9 206.7h0M467.6 182.5h0M461.5 199.2h0M463.9 182.0h0M458.5 198.8h0M470.0 189.8h0M469.4 188.1h0M466.8 194.9h0M488.8 198.5h0M478.6 198.8h0M462.3 201.2h0M473.0 185.2h0M465.1 184.2h0M467.4 188.5h0M470.3 199.1h0M464.2 192.6h0M459.1 187.7h0M465.4 168.1h0M464.8 198.8h0M467.8 170.0h0M453.2 196.3h0M473.5 201.2h0M483.3 199.5h0M464.1 176.3h0M461.6 190.0h0M461.0 206.6h0M461.0 166.7h0M472.1 201.0h0M472.5 193.5h0M471.4 199.3h0M464.6 191.7h0M463.5 172.0h0M458.1 197.8h0M464.5 120.7h0M468.0 205.1h0M464.8 203.8h0M463.1 190.8h0M474.4 197.0h0M482.2 196.7h0M465.7 207.2h0M477.1 186.9h0M467.5 192.3h0M461.0 203.5h0M464.5 202.2h0M476.0 192.9h0M479.3 131.7h0M460.6 200.2h0M466.7 192.3h0M465.6 171.0h0M471.2 199.7h0M477.7 193.8h0M469.7 187.4h0M456.6 185.2h0M469.6 196.5h0M475.1 183.8h0M463.0 191.7h0M462.4 206.6h0M437.1 195.0h0M474.3 184.2h0M466.0 196.5h0M474.9 206.1h0M472.9 205.2h0M463.0 201.0h0M463.0 205.8h0M459.7 202.8h0M463.1 201.0h0M472.8 193.1h0M457.6 175.2h0M466.9 202.3h0M473.0 199.8h0M469.0 207.0h0M465.0 188.2h0M470.0 205.4h0M472.1 181.7h0M475.8 206.7h0M463.3 207.5h0M473.3 188.4h0M475.8 207.6h0M466.5 207.1h0M474.9 200.8h0M467.4 173.4h0M475.9 183.9h0M476.1 206.6h0M472.7 203.9h0M469.8 193.1h0M466.5 202.9h0M461.8 205.8h0M446.5 187.1h0M471.9 205.3h0M477.0 185.2h0M469.5 188.6h0M461.0 154.6h0M472.0 176.4h0M475.7 197.4h0M474.6 144.0h0M462.0 197.3h0M459.6 177.4h0M465.7 202.7h0M470.2 180.7h0M458.5 185.2h0M470.4 198.4h0M464.8 204.0h0M473.0 202.8h0M466.5 202.5h0M471.4 201.1h0M463.3 197.2h0M461.6 189.3h0M475.7 178.3h0M462.1 205.1h0M455.6 192.4h0M465.7 200.3h0M467.5 161.8h0M464.9 190.2h0M461.2 168.4h0M463.7 189.9h0M468.7 202.3h0M471.2 189.3h0M468.0 201.1h0M467.9 171.9h0M470.4 191.3h0M462.4 192.4h0M467.7 196.1h0M473.5 182.4h0M464.5 201.5h0M476.7 205.5h0M467.8 204.1h0M479.4 148.3h0M462.5 195.4h0M458.2 189.4h0M491.8 198.1h0M464.3 165.2h0M464.0 202.2h0M466.8 192.7h0M454.7 206.6h0M470.8 140.1h0M480.3 192.7h0M463.1 195.3h0M458.4 204.4h0M464.2 178.6h0M475.6 187.5h0M466.7 202.4h0M467.4 192.8h0M470.8 184.8h0M461.8 206.4h0M473.7 204.7h0M459.3 190.0h0M464.2 197.4h0M465.1 206.3h0M464.9 181.5h0M457.8 206.0h0M465.3 205.5h0M470.0 202.2h0M461.7 201.2h0M473.6 201.1h0M465.9 197.2h0M467.1 198.4h0M449.4 179.9h0M470.2 197.8h0M468.1 200.8h0M472.2 195.3h0M463.2 201.0h0M467.1 194.3h0M477.2 203.9h0M466.1 202.0h0M465.0 166.4h0M438.1 203.1h0M480.8 186.2h0M478.7 164.8h0M456.4 171.6h0M477.1 188.4h0M479.6 196.6h0M475.7 188.7h0M467.0 180.4h0M469.1 203.1h0M451.5 190.8h0M465.7 205.3h0M463.5 183.6h0M456.3 201.3h0M474.1 190.1h0M465.9 204.8h0M469.8 200.2h0M462.5 201.0h0M458.7 167.1h0M467.1 202.7h0M464.1 189.9h0M469.7 202.5h0M466.7 204.7h0M474.4 171.8h0M459.8 136.4h0M474.8 202.9h0M468.6 207.1h0M471.3 205.8h0M461.2 193.4h0M470.0 204.5h0M474.2 159.2h0M464.4 198.4h0M467.3 196.7h0M454.6 204.3h0M470.3 182.8h0M471.6 194.5h0M470.6 207.4h0M466.5 187.2h0M487.5 192.2h0M468.7 199.1h0M460.3 207.5h0M467.5 178.6h0M466.5 201.3h0M470.2 192.6h0M470.2 192.0h0M470.4 184.4h0M472.8 194.6h0M460.6 198.2h0M474.6 191.6h0M475.1 196.0h0M473.7 199.9h0M475.5 204.9h0M477.9 197.7h0M466.0 191.2h0M466.9 206.9h0M474.1 177.6h0M474.6 154.9h0M465.2 206.0h0M465.2 185.0h0M465.8 175.4h0M473.5 191.3h0M466.3 189.3h0M463.4 189.9h0M468.0 204.9h0M462.0 186.5h0M463.4 173.2h0M470.4 181.4h0M472.6 206.7h0M461.4 193.2h0M467.7 190.2h0M472.7 203.3h0M455.5 206.5h0M459.7 196.1h0M470.3 204.1h0M454.8 184.9h0M469.8 189.7h0M471.6 198.2h0M465.7 183.0h0M461.6 185.6h0M471.5 179.1h0M473.6 184.8h0M462.5 204.6h0M468.5 203.7h0M472.6 170.6h0M469.7 189.6h0M464.6 202.1h0M464.6 205.0h0M453.0 197.7h0M467.3 202.2h0M458.2 183.1h0M471.0 203.4h0M471.0 204.2h0M466.6 192.3h0M468.1 183.0h0M481.4 149.5h0M465.1 199.7h0M483.6 199.8h0M463.1 196.5h0M463.0 206.5h0M472.5 147.2h0M469.0 173.8h0M457.4 159.0h0M468.4 193.5h0M475.2 191.3h0M468.3 205.2h0M456.5 161.4h0M475.1 180.2h0M470.8 206.5h0M462.7 140.0h0M469.4 184.6h0M460.6 191.7h0M469.7 186.3h0M453.2 199.0h0M462.7 199.3h0M464.5 199.1h0M457.7 200.3h0M477.2 199.3h0M488.2 150.2h0M468.5 200.4h0M471.2 198.4h0M463.3 181.6h0M464.7 192.8h0M476.1 183.1h0M469.6 205.2h0M468.1 185.8h0M465.9 176.7h0M468.0 203.7h0M464.1 202.9h0M462.3 204.9h0M460.4 201.0h0M469.3 192.7h0M472.9 194.9h0M465.4 197.6h0M471.0 198.8h0M467.2 206.6h0M460.2 185.0h0M474.7 203.1h0M465.1 179.3h0M466.9 206.6h0M463.5 184.0h0M455.6 196.2h0M464.1 206.1h0M463.5 200.4h0M467.8 195.4h0M469.7 201.6h0M472.8 207.2h0M470.2 206.6h0M434.2 178.5h0M461.1 174.1h0M466.4 186.4h0M473.8 174.7h0M464.5 203.0h0M467.5 204.5h0M464.2 174.2h0M465.3 188.4h0M469.8 201.2h0M466.7 203.1h0M485.3 194.4h0M463.9 200.0h0M469.3 206.1h0M467.9 205.4h0M472.0 171.1h0M466.0 201.8h0M469.7 203.3h0M468.6 205.9h0M466.7 192.7h0M471.5 175.9h0M462.4 194.9h0M482.2 190.7h0M460.6 191.7h0M468.2 203.9h0M473.8 200.3h0M466.3 201.0h0M469.5 200.3h0M465.2 174.3h0M476.1 159.2h0M471.1 191.8h0M462.1 204.8h0M454.2 200.2h0M467.1 203.6h0M462.4 199.5h0M467.7 203.5h0M471.4 207.5h0M461.2 201.8h0M467.7 205.1h0M465.6 207.1h0M468.7 202.5h0M460.2 204.1h0M460.1 206.2h0M463.3 183.1h0M491.7 187.4h0M469.5 173.5h0M470.9 199.8h0M470.3 147.6h0M466.1 203.8h0M461.4 187.0h0M471.1 202.6h0M448.0 206.0h0M460.1 201.3h0M467.6 193.0h0M470.8 199.6h0M466.8 204.9h0M463.4 201.8h0M458.3 184.1h0M471.6 205.4h0M461.8 199.5h0M475.0 160.6h0M456.4 197.4h0M463.4 198.6h0M468.9 186.7h0M468.5 205.5h0M463.3 183.2h0M462.6 174.5h0M467.0 187.6h0M467.0 189.1h0M464.2 205.5h0M466.3 200.4h0M472.2 171.7h0M464.9 191.7h0M473.7 168.8h0M468.9 201.7h0M468.9 204.9h0M429.7 167.2h0M463.8 195.8h0M462.0 183.6h0M462.8 186.2h0M474.4 202.6h0M470.5 207.2h0M471.4 185.8h0M464.1 197.2h0M455.0 187.6h0M454.7 160.2h0M469.2 199.0h0M463.6 175.8h0M459.9 201.2h0M463.0 202.6h0M474.5 174.4h0M466.1 198.8h0M465.1 180.9h0M481.8 203.0h0M467.5 186.3h0M463.5 201.3h0M469.1 200.2h0M461.0 198.2h0M456.6 181.6h0M462.9 204.5h0M480.0 189.9h0M470.6 203.2h0M459.1 194.9h0M470.4 193.9h0M460.5 201.8h0M467.3 189.2h0M469.3 203.0h0M459.5 193.8h0M468.9 202.5h0M454.2 201.5h0M478.8 206.6h0M475.8 192.3h0M470.3 189.7h0M458.4 207.5h0M465.0 196.3h0M464.2 192.7h0M466.4 201.5h0M468.8 184.0h0M465.7 206.9h0M470.4 202.8h0M490.0 200.2h0M483.3 186.6h0M473.8 204.0h0M463.8 206.2h0M471.3 203.6h0M454.8 206.0h0M477.4 202.5h0M476.7 205.2h0M473.4 194.9h0M461.5 164.6h0M464.7 197.2h0M464.4 183.4h0M474.0 149.2h0M466.8 206.5h0M466.0 204.5h0M464.0 199.8h0M463.1 202.7h0M470.0 200.8h0M462.1 194.5h0M463.9 171.6h0M471.3 186.4h0M469.8 196.0h0M467.4 198.4h0M471.8 187.2h0M452.9 172.4h0M469.8 189.3h0M468.7 178.9h0M473.0 206.4h0M466.4 181.9h0M456.9 191.7h0M469.4 197.2h0M460.5 184.1h0M464.4 195.6h0M463.0 197.5h0M472.8 156.2h0M469.7 206.7h0M462.7 197.0h0M467.9 174.8h0M465.7 207.3h0M461.8 177.2h0M474.0 202.2h0M467.0 195.2h0M474.4 184.5h0M469.1 191.1h0M465.3 195.1h0M465.0 190.7h0M461.9 183.8h0M463.6 192.6h0M461.4 193.4h0M467.4 201.2h0M469.7 179.9h0M472.8 154.9h0M463.7 204.5h0M468.9 162.1h0M469.5 199.8h0M478.4 197.4h0M472.7 207.2h0M457.0 179.3h0M464.3 205.6h0M463.2 172.9h0M472.3 177.5h0M464.5 200.4h0M473.7 176.9h0M462.9 198.5h0M467.4 200.9h0M474.6 172.2h0M467.7 203.6h0M479.4 192.9h0M467.1 207.0h0M471.0 131.4h0M471.0 164.2h0M473.7 199.5h0M463.7 184.4h0M461.1 192.1h0M468.0 206.0h0M465.6 189.4h0M467.9 174.4h0M467.2 197.6h0M463.7 203.2h0M467.7 202.9h0M470.8 194.8h0M468.8 183.2h0M458.2 172.6h0M469.4 182.0h0M453.4 180.2h0M468.8 205.9h0M462.7 192.3h0M463.9 171.0h0M479.6 199.9h0M469.0 194.3h0M481.2 147.3h0M470.1 207.3h0M466.1 206.7h0M478.6 184.8h0M466.0 204.5h0M465.9 194.2h0M471.1 200.9h0M465.0 200.3h0M468.2 202.3h0M474.2 193.6h0M464.0 174.9h0M473.9 203.9h0M471.4 193.6h0M468.5 193.7h0M471.0 202.9h0M465.9 201.2h0M459.3 207.4h0M468.5 191.5h0M471.8 199.9h0M477.1 165.3h0M468.3 170.4h0M467.4 184.3h0M472.0 185.9h0M466.4 193.8h0M464.7 182.5h0M473.9 206.5h0M469.6 193.1h0M471.2 191.2h0M470.8 205.8h0M470.3 203.7h0M466.3 203.1h0M458.7 206.1h0M464.5 202.4h0M470.0 187.4h0M470.8 206.9h0M461.5 146.1h0M469.2 205.7h0M462.6 192.8h0M468.7 189.1h0M475.7 194.9h0M469.4 192.0h0M478.0 205.0h0M476.2 203.9h0M468.9 202.6h0M466.7 182.7h0M465.5 193.6h0M460.2 163.4h0M463.3 202.5h0M464.3 153.6h0M465.6 191.8h0M485.7 175.4h0M467.5 204.9h0M466.0 206.2h0M476.8 186.5h0M466.4 205.3h0M466.1 178.2h0M468.0 201.8h0M470.0 184.0h0M458.4 193.8h0M456.3 199.2h0M475.7 189.8h0M461.5 180.0h0M460.5 198.5h0M466.3 203.7h0M464.8 207.5h0M465.7 188.3h0M465.8 184.5h0M466.9 163.8h0M467.4 180.6h0M459.2 183.9h0M497.9 202.1h0M484.1 170.7h0M454.3 200.2h0M468.9 186.8h0M459.2 182.5h0M466.4 195.2h0M473.8 193.5h0M473.1 193.9h0M466.9 171.1h0M488.0 197.9h0M469.6 205.8h0M451.2 127.8h0M466.6 164.7h0M475.8 198.5h0M469.1 188.1h0M474.7 184.1h0M468.1 207.4h0M470.7 187.5h0M484.8 206.2h0M467.3 199.4h0M472.2 185.0h0M475.9 163.6h0M476.5 197.0h0M474.0 206.0h0M475.6 157.4h0M440.3 146.6h0M465.0 147.4h0M466.2 185.5h0M473.1 177.0h0M462.3 207.1h0M467.9 203.3h0M423.8 206.5h0M468.1 198.3h0M473.8 204.2h0M463.1 201.7h0M466.4 186.6h0M463.9 200.3h0M470.3 186.4h0M454.5 194.5h0M468.9 204.3h0M468.0 181.8h0M434.8 177.9h0M470.8 204.9h0M472.2 194.5h0M468.7 177.8h0M471.0 188.1h0M465.7 185.9h0M464.0 205.7h0M474.4 194.8h0M466.9 206.2h0M466.1 194.7h0M456.6 206.5h0M433.1 206.1h0M462.9 197.9h0M475.7 203.5h0M464.7 186.3h0M478.0 170.8h0M469.9 199.0h0M457.7 158.2h0M466.2 194.6h0M466.0 199.4h0M468.3 203.1h0M469.5 205.7h0M469.5 180.5h0M479.4 205.1h0M468.4 195.7h0M472.8 199.5h0M477.9 194.4h0M459.7 204.8h0M469.0 187.1h0M459.1 125.5h0M469.1 204.4h0M468.4 200.6h0M468.2 201.9h0M470.5 172.0h0M465.4 180.7h0M466.1 199.6h0M473.3 202.6h0M472.6 200.5h0M474.5 198.8h0M469.0 200.4h0M473.3 175.0h0M462.3 194.0h0M470.0 188.7h0M477.7 202.4h0M463.3 196.4h0M467.6 202.0h0M458.9 201.4h0M447.2 205.9h0M460.0 205.0h0M472.1 157.1h0M475.1 200.7h0M470.5 190.8h0M462.8 168.5h0M469.5 195.0h0M460.1 204.7h0M464.0 203.7h0M473.9 169.3h0M468.9 180.4h0M463.2 201.4h0M468.9 207.0h0M481.4 163.9h0M466.5 166.3h0M476.2 201.4h0M466.4 199.3h0M467.6 204.0h0M465.3 180.0h0M471.4 195.6h0M470.8 203.8h0M462.3 191.2h0M455.2 192.0h0M476.5 149.3h0M473.6 203.7h0M466.9 193.9h0M460.7 191.0h0M466.9 200.4h0M467.9 204.9h0M465.2 205.2h0M472.9 189.3h0M466.1 199.1h0M464.5 191.4h0M465.2 204.6h0M461.1 203.7h0M474.3 200.6h0M470.8 204.3h0M476.7 196.1h0M466.3 198.0h0M470.1 176.6h0M468.6 201.7h0M471.1 186.4h0M471.6 197.8h0M466.1 191.9h0M469.7 199.3h0M462.8 199.7h0M472.8 197.8h0M465.5 184.1h0M455.4 200.4h0M467.4 200.5h0M470.1 198.6h0M477.4 191.0h0M465.9 175.5h0M465.2 197.6h0M462.1 157.2h0M470.1 206.1h0M474.5 189.8h0M465.1 186.1h0M469.3 194.0h0M472.6 169.0h0M464.6 205.5h0M469.4 207.2h0M484.2 204.3h0M468.7 198.1h0M466.7 206.6h0M463.7 188.7h0M468.7 194.5h0M466.2 177.5h0M471.7 193.0h0M469.7 206.3h0M466.2 200.6h0M473.2 197.3h0M462.5 197.0h0M463.0 199.9h0M465.6 199.2h0M468.6 194.1h0M463.2 196.1h0M476.3 168.6h0M468.1 193.7h0M470.8 200.9h0M461.9 182.0h0M465.4 185.7h0M469.4 203.9h0M471.0 173.6h0M486.8 179.8h0M467.6 204.2h0M465.7 171.6h0M453.3 187.1h0M468.7 206.0h0M466.7 192.5h0M466.3 204.2h0M469.9 203.0h0M469.3 181.8h0M469.1 206.0h0M468.7 188.2h0M461.4 192.1h0M466.8 206.5h0M471.6 169.9h0M467.0 207.1h0M473.3 200.2h0M467.5 199.7h0M464.2 204.3h0M463.0 191.7h0M471.1 163.0h0M476.2 173.1h0M473.1 164.0h0M470.9 192.6h0M461.1 204.2h0M461.9 159.3h0M473.7 192.2h0M475.9 192.0h0M465.5 191.9h0M470.6 196.7h0M460.7 196.9h0M462.0 180.5h0M467.7 203.7h0M470.6 196.4h0M472.5 189.8h0M459.6 207.0h0M473.3 201.7h0M471.7 176.7h0M467.3 207.1h0M475.2 198.3h0M469.3 189.2h0M470.8 183.1h0M449.8 161.7h0M474.7 183.5h0M460.1 186.4h0M461.5 189.4h0M464.2 207.4h0M469.5 198.7h0M468.4 179.5h0M467.5 190.7h0M467.6 193.3h0M478.0 165.2h0M477.6 194.7h0M473.4 196.1h0M465.5 206.0h0M467.0 193.3h0M470.2 201.2h0M464.2 201.0h0M465.5 177.9h0M467.4 197.9h0M483.5 193.9h0M471.9 176.6h0M459.4 144.0h0M460.7 207.5h0M473.6 166.6h0M461.6 205.5h0M459.3 190.5h0M460.2 164.9h0M467.5 207.0h0M468.8 200.5h0M461.7 192.2h0M465.6 204.6h0M474.2 201.7h0M470.4 192.6h0M464.3 201.9h0M469.7 202.4h0M467.7 177.6h0M479.4 201.9h0M466.7 206.1h0M469.1 201.2h0M472.7 203.8h0M467.7 207.4h0M467.1 203.7h0M465.5 194.7h0M469.3 197.8h0M460.2 203.1h0M463.4 199.8h0M469.1 162.5h0M474.7 159.7h0M476.2 185.4h0M496.3 204.2h0M471.8 181.9h0M464.3 188.1h0M460.8 204.3h0M473.3 172.7h0M456.2 185.9h0M475.6 184.4h0M457.6 155.6h0M470.6 202.5h0M470.5 188.2h0M471.6 192.3h0M471.0 188.9h0M467.2 204.7h0M458.8 173.4h0M457.2 186.2h0M460.8 202.0h0M468.6 189.6h0M469.6 196.0h0M461.0 188.7h0M476.1 197.7h0M469.2 188.0h0M466.1 194.2h0M485.6 136.2h0M469.3 196.0h0M467.8 204.2h0M464.9 207.6h0M468.7 203.9h0M474.4 196.6h0M462.6 200.1h0M465.0 200.8h0M469.6 202.2h0M470.1 207.5h0M472.2 189.4h0M464.3 193.8h0M469.2 203.3h0M467.0 181.5h0M454.5 167.6h0M474.4 205.8h0M483.1 137.0h0M466.8 205.7h0M468.4 206.1h0M463.0 176.9h0M469.8 202.8h0M467.1 186.4h0M470.7 185.3h0M459.0 207.3h0M462.6 205.6h0M465.1 203.0h0M470.7 193.4h0M464.0 207.4h0M469.1 198.0h0M464.6 207.3h0M451.2 202.0h0M475.8 155.4h0M465.9 203.8h0M465.4 204.6h0M461.3 205.4h0M463.7 199.5h0M461.2 151.7h0M463.0 205.2h0M464.6 192.9h0M465.8 179.9h0M473.9 180.9h0M464.7 180.3h0M467.2 204.1h0M468.3 206.1h0M511.5 202.1h0M456.9 182.6h0M472.5 196.3h0M465.8 178.1h0M459.7 205.8h0M473.3 175.9h0M465.5 194.6h0M473.4 199.1h0M459.4 194.1h0M463.1 181.5h0M469.1 186.5h0M470.3 206.4h0M447.7 138.7h0M477.0 206.0h0M478.4 205.5h0M466.5 201.2h0M469.9 194.8h0M455.5 206.8h0M471.6 192.5h0M466.8 193.4h0M469.8 196.7h0M465.6 197.4h0M471.2 205.6h0M463.7 161.7h0M467.3 204.9h0M457.3 196.5h0M469.6 202.3h0M459.8 192.6h0M463.9 186.9h0M470.7 189.0h0M463.9 185.6h0M459.5 194.1h0M470.5 198.8h0M473.7 204.4h0M488.8 177.8h0M464.8 194.0h0M465.6 196.8h0M468.9 204.2h0M471.4 201.8h0M467.9 199.5h0M466.4 200.9h0M470.8 193.9h0M469.7 203.9h0M473.0 204.6h0M466.1 197.9h0M474.2 171.0h0M471.7 193.1h0M473.0 184.9h0M464.4 179.4h0M464.4 186.9h0M460.3 204.2h0M468.4 189.6h0M461.3 193.2h0M472.0 191.2h0M469.2 178.8h0M459.7 198.1h0M461.1 192.7h0M473.1 206.5h0M456.1 199.4h0M461.7 207.2h0M464.2 205.0h0M470.8 195.5h0M488.5 137.5h0M470.8 181.2h0M462.9 171.4h0M474.3 202.4h0M461.1 173.8h0M464.9 200.1h0M465.8 188.3h0M456.2 195.1h0M467.7 202.8h0M467.5 187.0h0M463.4 177.6h0M469.1 186.4h0M468.9 206.6h0M465.9 197.5h0M473.7 186.3h0M465.2 174.8h0M458.7 161.8h0M455.7 188.9h0M470.0 199.3h0M465.4 194.2h0M463.7 204.1h0M471.4 207.5h0M462.5 198.0h0M464.5 189.5h0M462.1 203.7h0M460.0 166.3h0M462.9 202.9h0M466.3 205.5h0M466.6 203.3h0M463.9 198.3h0M461.5 203.8h0M462.6 192.5h0M470.6 204.7h0M459.2 177.0h0M460.0 196.7h0M469.2 197.7h0M468.3 203.5h0M464.0 192.5h0M467.7 184.5h0M460.5 201.8h0M468.0 170.6h0M466.5 190.5h0M463.3 194.7h0M460.9 203.5h0M468.1 193.0h0M470.0 197.8h0M466.6 201.0h0M475.7 200.9h0M458.9 207.0h0M466.3 194.5h0M464.9 198.1h0M470.4 179.4h0M460.1 183.9h0M471.2 181.1h0M463.9 196.4h0M468.6 180.1h0M465.0 198.0h0M465.2 204.3h0M472.5 162.9h0M460.2 183.5h0M467.0 195.7h0M440.1 155.2h0M467.3 174.5h0M463.3 198.2h0M468.1 192.0h0M467.1 205.9h0M471.8 198.0h0M468.9 202.9h0M470.3 189.5h0M472.0 191.0h0M464.8 204.9h0M471.9 199.3h0M477.6 206.1h0M483.6 184.1h0M461.5 170.7h0M469.5 201.0h0M465.2 172.2h0M465.0 163.7h0M464.1 191.6h0M475.9 201.2h0M464.7 190.2h0M466.7 202.8h0M461.1 194.2h0M442.0 186.2h0M469.8 196.9h0M479.7 199.0h0M465.3 175.2h0M460.7 198.6h0M462.2 177.2h0M474.1 207.0h0M464.3 196.8h0M474.8 180.6h0M461.7 153.8h0M473.0 181.4h0M458.5 188.1h0M465.0 198.1h0M451.2 200.6h0M471.2 201.8h0M470.8 193.6h0M469.1 199.7h0M466.5 197.5h0M465.3 186.9h0M462.3 181.7h0M466.0 191.9h0M465.5 201.3h0M471.4 173.4h0M459.9 199.9h0M454.8 141.5h0M470.4 178.7h0M467.6 200.8h0M472.8 204.0h0M476.9 203.1h0M473.8 201.1h0M454.6 184.2h0M470.6 207.4h0M470.4 198.9h0M474.9 206.0h0M469.0 206.5h0M467.1 183.2h0M461.7 207.1h0M469.9 164.8h0M474.0 199.9h0M465.9 184.4h0M462.9 167.3h0M469.5 198.0h0M464.0 181.2h0M474.2 203.5h0M467.5 194.4h0M472.6 185.3h0M473.0 131.9h0M468.1 201.3h0M471.3 199.9h0M463.7 203.9h0M469.9 191.2h0M465.3 206.1h0M470.5 143.7h0M473.7 206.2h0M464.4 203.0h0M468.8 168.7h0M468.5 207.4h0M474.2 166.5h0M465.2 202.7h0M472.1 183.6h0M473.5 201.3h0M464.3 204.6h0M464.5 171.2h0M469.8 188.4h0M472.1 205.7h0M466.1 195.0h0M469.5 175.6h0M431.1 165.9h0M460.9 171.9h0M461.7 169.3h0M484.3 190.0h0M478.0 203.3h0M460.3 194.1h0M467.1 168.1h0M469.7 189.8h0M485.4 195.2h0M466.3 193.9h0M467.4 200.0h0M460.1 201.0h0M466.5 202.6h0M457.2 197.0h0M462.6 147.8h0M466.3 203.1h0M454.9 203.4h0M462.9 202.2h0M467.1 193.5h0M469.4 205.6h0M469.0 167.7h0M470.3 202.5h0M461.3 198.8h0M472.9 201.5h0M467.9 207.0h0M465.3 147.9h0M463.3 178.1h0M464.2 196.3h0M469.0 198.1h0M473.5 178.2h0M464.3 186.3h0M473.0 206.1h0M462.6 188.2h0M467.5 193.8h0M469.7 170.2h0M472.6 198.0h0M467.9 201.5h0M465.5 202.5h0M468.1 182.7h0M460.2 190.6h0M468.4 200.4h0M463.9 207.1h0M451.2 203.1h0M464.4 181.7h0M468.6 188.6h0M464.3 196.8h0M466.4 185.4h0M454.7 203.6h0M460.3 184.4h0M465.2 172.0h0M470.4 199.0h0M463.7 202.9h0M466.5 180.6h0M463.0 188.9h0M475.1 184.6h0M463.7 147.1h0M465.7 201.1h0M476.5 156.8h0M471.3 199.2h0M465.8 199.6h0M469.6 196.8h0M473.2 151.5h0M456.9 196.3h0M462.2 195.5h0M464.6 136.5h0M462.6 130.3h0M461.6 203.2h0M465.3 188.4h0M466.9 201.9h0M470.4 180.0h0M475.6 185.0h0M465.2 205.8h0M446.5 180.0h0M467.2 192.3h0M461.0 195.7h0M460.4 201.8h0M462.7 188.2h0M462.4 200.2h0M467.4 182.0h0M471.0 201.1h0M492.8 141.9h0M467.2 179.0h0M478.9 159.9h0M480.1 168.7h0M474.4 202.7h0M462.5 194.5h0M468.2 203.4h0M457.0 207.2h0M471.2 178.9h0M461.5 203.1h0M468.6 207.1h0M469.7 187.6h0M471.7 163.9h0M473.4 194.4h0M463.3 197.2h0M458.5 201.2h0M466.4 198.0h0M471.4 187.2h0M463.9 176.6h0M470.3 189.2h0M470.1 194.7h0M472.7 178.9h0M452.7 187.0h0M468.1 205.5h0M470.9 192.9h0M464.6 172.2h0M476.8 200.7h0M472.2 189.9h0M466.7 196.3h0M473.3 191.7h0M467.1 170.7h0M468.9 202.4h0M464.7 198.0h0M466.7 207.4h0M458.4 116.3h0M461.5 198.2h0M466.9 193.0h0M459.6 193.4h0M462.0 202.1h0M475.7 183.4h0M476.1 192.0h0M469.1 173.2h0M470.5 197.9h0M464.5 193.5h0M474.6 153.8h0M457.6 182.6h0M460.2 191.8h0M461.4 196.8h0M481.7 167.1h0M467.2 199.4h0M468.2 204.2h0M466.7 188.8h0M469.4 161.4h0M445.8 174.9h0M470.1 203.0h0M457.6 196.8h0M451.5 173.6h0M468.8 177.2h0M460.9 204.5h0M479.9 201.0h0M481.2 201.4h0M470.8 174.1h0M464.3 207.4h0M472.5 184.2h0M475.2 189.9h0M471.8 182.8h0M470.9 206.6h0M472.2 199.8h0M477.1 197.5h0M467.6 192.6h0M460.1 201.9h0M465.1 194.7h0M461.5 194.4h0M453.6 175.5h0M469.8 204.3h0M470.7 161.3h0M466.7 205.9h0M471.8 206.1h0M463.0 196.6h0M470.7 176.7h0M459.9 181.6h0M472.9 174.0h0M457.8 201.5h0M471.7 190.3h0M470.7 207.3h0M480.0 189.3h0M469.3 188.7h0M472.6 200.9h0M461.9 205.4h0M458.9 196.7h0M464.8 171.8h0M465.4 177.5h0M464.4 201.9h0M467.2 203.0h0M469.2 207.4h0M451.0 198.1h0M471.9 203.4h0M482.5 200.9h0M471.1 197.4h0M459.1 204.0h0M467.4 180.5h0M470.7 175.6h0M448.7 187.6h0M465.7 191.3h0M462.3 206.7h0M474.7 204.3h0M460.6 202.6h0M469.4 205.6h0M464.6 191.3h0M469.6 207.3h0M466.6 205.9h0M464.8 178.8h0M472.3 191.0h0M460.6 187.5h0M465.5 179.6h0M468.0 206.5h0M464.8 191.6h0M459.8 205.2h0M456.1 198.8h0M477.6 159.6h0M468.8 193.3h0M470.1 203.4h0M467.3 188.1h0M483.8 186.7h0M461.0 167.2h0M472.0 194.9h0M474.4 206.6h0M472.8 139.8h0M464.9 205.6h0M470.1 198.9h0M467.8 185.9h0M469.2 205.8h0M484.3 206.3h0M464.0 207.1h0M466.4 194.5h0M460.9 192.6h0M468.8 200.6h0M479.5 205.6h0M473.1 189.7h0M461.8 188.8h0M469.4 192.3h0M473.7 141.8h0M464.0 204.6h0M471.9 194.3h0M468.8 194.6h0M469.6 199.8h0M455.8 204.0h0M472.1 201.6h0M479.8 188.9h0M463.2 186.8h0M465.8 188.9h0M460.8 196.8h0M464.7 204.0h0M455.4 125.2h0M467.4 199.0h0M465.0 204.7h0M471.0 197.8h0M488.7 191.1h0M466.0 194.9h0M463.2 196.3h0M468.0 199.6h0M471.0 203.6h0M473.5 197.5h0M460.8 185.7h0M463.2 206.1h0M466.5 191.9h0M469.7 203.3h0M455.3 186.9h0M464.0 197.4h0M470.1 179.3h0M463.1 185.5h0M449.3 188.7h0M471.8 174.5h0M471.0 202.9h0M472.3 194.0h0M469.1 189.6h0M458.5 198.5h0M461.8 182.5h0M469.1 193.5h0M460.6 197.9h0M470.8 199.3h0M477.0 192.9h0M469.1 202.5h0M465.1 205.2h0M464.9 207.0h0M459.1 197.7h0M470.3 207.0h0M465.4 206.5h0M468.5 200.4h0M475.7 173.4h0M463.5 200.0h0M465.6 196.8h0M473.8 201.6h0M457.9 185.3h0M468.1 207.5h0M466.0 189.5h0M462.8 207.6h0M463.5 185.7h0M470.1 195.0h0M462.0 201.1h0M468.8 184.6h0M464.8 192.3h0M474.0 200.6h0M472.3 202.8h0M460.2 206.1h0M466.7 197.5h0M479.6 207.0h0M465.4 186.0h0M468.1 199.1h0M465.5 202.9h0M477.8 165.2h0M471.6 203.5h0M469.1 204.2h0M473.0 197.8h0M461.5 206.2h0M455.8 201.5h0M467.2 190.5h0M464.1 203.9h0M467.8 196.4h0M467.6 201.1h0M473.4 207.4h0M476.2 201.4h0M458.8 203.3h0M465.9 204.1h0M470.1 180.2h0M479.7 151.7h0M456.5 163.6h0M451.7 194.5h0M471.7 207.0h0M463.1 193.8h0M463.8 206.2h0M468.1 186.7h0M453.1 174.3h0M471.5 192.3h0M461.5 204.7h0M473.2 207.0h0M460.8 197.0h0M469.1 191.1h0M459.8 203.5h0M470.5 193.0h0M460.7 187.2h0M490.8 202.8h0M477.1 165.2h0M465.7 203.3h0M470.6 206.8h0M463.8 168.8h0M466.4 203.4h0M455.6 143.6h0M461.0 172.1h0M475.2 186.7h0M459.7 207.6h0M459.3 194.2h0M457.7 193.7h0M464.4 178.1h0M467.2 207.2h0M468.8 183.0h0M465.7 205.8h0M476.4 197.2h0M463.1 201.8h0M464.5 202.5h0M468.3 200.9h0M467.4 204.0h0M466.8 205.4h0M463.9 174.3h0M470.5 166.4h0M469.9 194.1h0M466.5 169.6h0M455.9 198.6h0M505.2 206.6h0M465.2 196.3h0M465.8 177.2h0M461.8 171.0h0M462.9 196.8h0M470.2 202.5h0M465.0 203.9h0M468.5 202.8h0M466.7 194.5h0M461.3 205.3h0M460.2 197.1h0M465.9 201.1h0M463.1 105.3h0M468.2 165.9h0M467.3 181.2h0M469.6 187.1h0M468.7 198.1h0M470.2 163.8h0M470.6 201.8h0M474.9 191.7h0M483.6 181.6h0M463.4 206.8h0M466.6 200.5h0M455.5 189.0h0M465.0 171.9h0M459.8 195.4h0M470.6 203.2h0M448.4 196.2h0M465.9 187.6h0M465.0 170.4h0M461.9 182.1h0M466.6 203.6h0M469.9 176.3h0M476.7 207.3h0M463.9 202.2h0M457.0 192.1h0M466.8 179.2h0M461.3 194.6h0M492.1 206.8h0M463.5 171.3h0M465.6 183.5h0M480.7 163.8h0M461.4 202.1h0M471.6 206.7h0M463.9 197.6h0M468.5 186.9h0M468.7 207.0h0M467.0 198.5h0M472.1 206.9h0M462.3 190.8h0M459.5 174.7h0M464.8 162.2h0M461.7 185.1h0M461.9 193.3h0M462.9 203.0h0M479.0 194.7h0M481.5 185.2h0M460.0 205.8h0M469.2 198.2h0M468.8 199.0h0M470.1 204.2h0M464.3 200.8h0M465.9 183.4h0M466.1 206.8h0M473.7 176.5h0M465.4 176.4h0M464.0 200.2h0M471.5 198.4h0M470.0 182.5h0M513.8 201.6h0M470.8 168.2h0M464.4 194.9h0M500.6 206.7h0M469.0 205.7h0M463.8 199.0h0M475.0 203.6h0M466.9 200.6h0M463.6 182.8h0M468.3 205.0h0M470.7 199.2h0M466.7 198.8h0M468.4 206.8h0M471.6 197.7h0M469.8 188.5h0M460.7 192.9h0M466.4 197.6h0M468.2 205.3h0M461.8 204.7h0M483.7 191.9h0M469.1 195.4h0M483.9 200.0h0M451.9 203.9h0M472.6 180.0h0M464.9 199.9h0M470.8 174.1h0M458.6 204.6h0M470.9 202.2h0M463.9 206.4h0M458.2 186.1h0M487.3 177.4h0M464.7 198.0h0M480.2 159.0h0M469.5 204.2h0M473.5 180.5h0M467.6 173.2h0M473.5 175.0h0M465.3 201.6h0M475.5 156.3h0M460.6 192.9h0M462.0 178.5h0M464.7 203.4h0M462.2 157.9h0M464.2 179.8h0M466.6 203.2h0M461.5 196.3h0M470.6 170.7h0M468.8 207.4h0M470.8 190.7h0M471.6 192.8h0M468.8 202.5h0M472.9 195.5h0M453.3 204.4h0M459.8 197.0h0M477.7 183.7h0M466.7 197.0h0M464.7 204.6h0M469.9 185.9h0M467.1 199.9h0M475.0 198.3h0M465.6 201.3h0M462.5 190.2h0M465.5 182.3h0M472.5 200.6h0M477.8 204.8h0M476.2 194.8h0M482.4 173.7h0M465.7 203.9h0M454.9 196.7h0M473.0 201.1h0M474.8 168.6h0M479.0 203.5h0M468.4 190.8h0M475.6 205.6h0M471.3 183.8h0M490.9 120.6h0M471.9 188.1h0M463.2 202.1h0M472.3 202.0h0M471.9 204.8h0M451.2 181.0h0M465.0 198.7h0M479.0 162.9h0M471.4 182.1h0M461.2 155.0h0M447.1 199.7h0M467.9 205.7h0M469.4 198.9h0M473.0 199.0h0M481.8 205.9h0M461.9 188.7h0M466.0 197.6h0M465.4 204.0h0M473.1 179.7h0M462.2 201.6h0M475.3 163.9h0M463.2 190.6h0M465.3 178.8h0M469.7 193.3h0M477.4 180.5h0M471.1 193.8h0M457.1 191.6h0M464.5 202.3h0M471.6 134.9h0M468.1 199.9h0M442.3 154.5h0M466.2 195.3h0M461.4 141.1h0M467.5 206.0h0M468.1 195.4h0M467.1 195.0h0M464.9 162.5h0M469.5 203.5h0M478.6 185.0h0M470.0 194.7h0M467.3 202.0h0M465.8 203.6h0M469.4 191.4h0M464.7 207.4h0M462.0 184.3h0M470.1 153.6h0M467.3 199.4h0M465.0 205.3h0M465.0 166.1h0M463.0 201.0h0M467.9 198.1h0M467.9 184.6h0M462.4 185.0h0M471.1 203.1h0M453.8 141.7h0M465.0 183.3h0M468.5 190.3h0M471.7 203.2h0M457.8 187.9h0M443.4 157.9h0M467.2 202.5h0M462.2 201.2h0M454.1 172.5h0M462.2 202.2h0M465.8 199.5h0M465.3 190.5h0M465.1 198.3h0M458.2 195.9h0M461.5 203.7h0M465.2 206.8h0M478.2 189.3h0M465.9 166.6h0M466.9 190.4h0M470.8 198.9h0M466.1 184.4h0M464.7 175.8h0M466.2 181.2h0M466.0 204.8h0M461.6 201.9h0M470.7 172.2h0M465.8 187.0h0M468.2 185.3h0M458.1 170.3h0M469.9 204.6h0M462.8 186.4h0M461.0 197.9h0M475.1 191.2h0M462.9 162.3h0M469.0 151.1h0M467.2 201.4h0M470.6 199.7h0M469.7 195.5h0M470.8 178.1h0M463.5 189.2h0M469.5 196.0h0M472.2 181.5h0M465.3 198.2h0M475.2 204.6h0M463.1 178.1h0M463.5 206.4h0M467.2 196.0h0M469.2 207.2h0M464.8 207.0h0M464.4 201.1h0M467.2 183.5h0M470.9 199.5h0M462.1 205.6h0M474.4 194.3h0M463.7 200.3h0M467.9 200.7h0M453.4 179.1h0M472.1 193.0h0M472.3 186.6h0M471.9 195.2h0M468.8 203.0h0M474.3 174.7h0M469.2 197.5h0M465.7 195.9h0M483.1 191.3h0M465.9 204.7h0M456.0 189.7h0M465.3 203.8h0M454.4 162.4h0M469.5 193.6h0M473.6 169.8h0M457.6 204.8h0M460.4 200.6h0M482.7 181.2h0M464.7 190.8h0M464.1 172.4h0M471.2 205.5h0M468.9 205.7h0M464.2 205.7h0M466.1 199.0h0M467.9 184.9h0M463.1 194.2h0M465.2 200.6h0M469.8 193.0h0M465.5 159.0h0M468.4 196.6h0M468.3 166.1h0M463.2 182.9h0M468.9 204.2h0M461.8 199.3h0M470.1 203.7h0M465.3 201.0h0M463.3 200.5h0M465.3 183.8h0M460.6 201.7h0M470.3 189.2h0M468.8 176.0h0M464.5 201.4h0M474.3 186.2h0M468.9 150.2h0M474.5 203.3h0M459.2 206.5h0M472.2 201.8h0M463.0 206.8h0M465.1 203.4h0M466.9 206.4h0M463.2 200.8h0M470.7 203.5h0M471.3 203.7h0M465.9 171.0h0M465.2 188.2h0M448.6 199.4h0M465.3 188.2h0M467.8 205.3h0M480.2 157.9h0M471.6 172.5h0M464.9 188.6h0M470.0 189.3h0M460.2 204.5h0M469.3 136.0h0M466.4 204.4h0M467.0 207.1h0M465.3 156.4h0M460.5 206.8h0M464.7 200.5h0M467.7 173.1h0M465.0 204.4h0M461.7 191.3h0M467.4 183.2h0M472.8 191.3h0M468.8 174.8h0M454.2 191.1h0M470.9 198.0h0M473.8 194.5h0M470.4 196.5h0M470.6 205.7h0M475.0 204.9h0M470.8 170.4h0M467.5 202.3h0M470.3 203.7h0M465.9 206.0h0M479.3 191.7h0M465.3 206.2h0M480.2 197.6h0M462.3 194.7h0M472.1 196.1h0M465.5 192.5h0M471.9 201.3h0M477.7 196.8h0M464.6 205.4h0M464.4 194.7h0M469.7 157.3h0M471.7 176.0h0M456.9 192.5h0M467.1 194.8h0M468.2 204.1h0M464.1 198.6h0M452.4 177.3h0M475.8 187.2h0M472.6 197.0h0M466.6 203.7h0M466.4 201.7h0M465.7 200.0h0M461.1 184.3h0M460.8 198.0h0M466.8 183.6h0M477.6 161.1h0M469.7 202.9h0M463.0 200.3h0M476.0 207.4h0M465.6 202.6h0M476.1 184.1h0M463.8 146.7h0M463.8 193.2h0M474.1 189.2h0M461.8 196.3h0M467.1 190.9h0M470.0 155.8h0M471.5 161.9h0M485.4 190.1h0M466.3 198.6h0M475.2 177.9h0M473.2 178.3h0M461.8 182.7h0M466.8 202.5h0M476.9 203.0h0M467.3 195.3h0M469.7 158.0h0M472.8 206.6h0M463.7 205.2h0M462.4 187.2h0M494.4 126.8h0M477.0 195.5h0M472.3 177.2h0M477.7 191.1h0M470.9 192.0h0M473.2 187.7h0M459.7 206.1h0M468.3 191.5h0M459.3 170.3h0M460.6 198.2h0M486.4 205.6h0M460.1 182.6h0M472.0 196.0h0M476.6 191.0h0M464.2 200.9h0M469.5 187.8h0M473.6 184.3h0M463.7 206.9h0M470.2 204.3h0M467.0 201.6h0M466.0 200.4h0M467.7 206.4h0M474.8 158.8h0M470.1 193.6h0M479.2 199.5h0M469.0 172.7h0M471.7 207.5h0M471.2 201.2h0M462.6 202.9h0M465.6 207.0h0M465.5 198.3h0M468.1 206.0h0M482.3 190.8h0M467.9 206.2h0M470.3 196.0h0M472.4 203.3h0M460.8 185.4h0M469.4 195.0h0M464.0 197.6h0M469.0 196.3h0M465.3 206.2h0M458.8 194.2h0M464.9 205.3h0M470.0 181.0h0M459.0 177.9h0M451.3 178.6h0M469.2 198.5h0M468.9 168.6h0M462.4 200.9h0M470.5 205.3h0M474.3 206.2h0M474.6 158.3h0M466.6 183.7h0M476.7 193.6h0M448.6 135.4h0M468.1 200.9h0M471.7 194.2h0M471.4 193.1h0M475.0 175.9h0M464.1 162.0h0M474.0 205.5h0M465.8 198.8h0M468.4 189.5h0M454.9 205.4h0M467.9 171.0h0M467.9 191.9h0M466.1 163.0h0M464.2 203.7h0M474.6 205.5h0M473.3 186.2h0M469.8 204.2h0M459.7 206.8h0M453.4 182.6h0M470.5 207.0h0M465.7 189.0h0M460.0 201.7h0M468.2 197.0h0M456.1 189.7h0M484.1 198.9h0M469.1 195.8h0M473.9 195.8h0M469.6 199.8h0M466.6 203.0h0M478.3 205.4h0M458.7 203.8h0M462.4 205.3h0M465.7 190.9h0M463.5 169.3h0M464.8 200.3h0M461.0 206.8h0M464.9 195.2h0M471.0 184.4h0M479.8 148.4h0M472.4 204.7h0M465.4 204.5h0M477.9 173.3h0M465.1 203.2h0M457.5 166.0h0M470.3 201.4h0M466.1 196.9h0M467.6 200.0h0M467.4 173.7h0M461.9 203.6h0M470.2 203.5h0M491.8 204.7h0M469.3 192.1h0M464.9 184.6h0M455.0 197.4h0M465.2 201.5h0M465.2 202.9h0M466.6 193.9h0M465.8 199.1h0M465.2 200.2h0M466.8 198.6h0M462.5 201.9h0M453.2 187.6h0M464.3 182.9h0M458.2 186.4h0M473.4 203.6h0M471.4 207.1h0M469.3 188.1h0M463.8 200.4h0M465.5 198.3h0M468.9 205.4h0M473.2 136.0h0M473.0 199.5h0M463.8 205.2h0M469.4 207.0h0M476.4 192.7h0M472.2 195.1h0M470.8 204.6h0M466.6 206.4h0M464.7 183.0h0M468.1 205.6h0M460.0 171.4h0M462.0 157.0h0M473.0 149.3h0M458.0 163.5h0M467.7 167.7h0M472.1 182.9h0M463.1 186.4h0M466.2 207.1h0M461.7 203.8h0M476.6 168.9h0M466.7 179.5h0M470.3 201.4h0M461.1 198.9h0M467.2 193.8h0M462.7 193.0h0M464.9 202.6h0M462.6 195.5h0M457.8 202.0h0M469.6 168.4h0M466.4 178.9h0M467.5 198.7h0M467.8 198.4h0M468.6 205.2h0M460.9 205.6h0M469.8 204.0h0M460.5 188.8h0M472.2 205.5h0M463.0 206.4h0M478.8 144.3h0M461.0 112.7h0M462.9 178.1h0M499.8 190.2h0M463.4 201.7h0M470.7 194.2h0M461.3 200.5h0M469.6 204.1h0M461.4 178.0h0M458.5 187.6h0M485.6 207.1h0M461.7 197.1h0M468.1 195.5h0M472.6 197.4h0M467.8 197.3h0M467.8 202.1h0M464.4 199.6h0M500.6 199.8h0M460.0 198.3h0M463.2 183.2h0M496.1 203.0h0M472.3 180.0h0M452.5 184.5h0M466.9 189.2h0M465.2 196.6h0M468.3 204.2h0M467.4 190.0h0M470.1 199.0h0M467.5 193.4h0M468.1 193.8h0M471.7 207.0h0M469.0 200.2h0M452.3 138.8h0M463.6 205.1h0M465.2 195.8h0M473.2 207.0h0M462.7 172.1h0M466.9 206.9h0M456.9 200.4h0M464.0 199.5h0M468.4 195.7h0M477.2 207.0h0M475.8 204.6h0M464.2 196.6h0M476.5 190.9h0M466.4 191.5h0M477.1 195.0h0M463.6 178.3h0M474.4 182.8h0M469.8 200.6h0M466.6 203.2h0M471.2 205.9h0M461.2 176.2h0M471.6 187.6h0M459.4 178.8h0M465.3 199.6h0M473.9 187.2h0M466.8 188.2h0M462.9 161.6h0M462.6 203.2h0M467.9 206.4h0M455.4 173.6h0M460.1 195.4h0M470.5 203.5h0M466.2 205.2h0M469.4 189.8h0M471.9 203.1h0M466.1 201.7h0M462.7 191.8h0M471.8 207.3h0M473.9 201.9h0M469.9 198.0h0M471.6 198.6h0M473.7 164.5h0M470.9 206.9h0M470.4 207.4h0M475.3 176.8h0M465.5 203.1h0M457.2 198.3h0M470.3 191.7h0M475.5 198.6h0M472.7 171.6h0M467.6 189.7h0M462.4 188.9h0M470.2 201.1h0M460.9 196.7h0M474.8 145.6h0M462.5 186.4h0M471.3 191.3h0M471.5 190.3h0M469.0 203.5h0M476.9 204.4h0M452.6 206.8h0M471.7 206.6h0M469.2 195.4h0M465.9 197.7h0M468.4 199.0h0M465.8 196.0h0M462.1 170.0h0M463.8 203.7h0M474.8 202.8h0M508.5 187.7h0M466.2 180.0h0M468.8 198.0h0M461.2 204.8h0M474.8 158.2h0M459.7 200.3h0M467.3 182.2h0M475.1 184.4h0M465.1 193.6h0M471.4 176.7h0M461.6 202.6h0M472.2 167.7h0M467.5 195.6h0M471.4 200.7h0M470.1 204.4h0M468.7 197.5h0M466.8 172.8h0M472.5 204.0h0M472.8 206.5h0M456.0 147.9h0M470.4 206.1h0M455.1 199.5h0M470.0 198.8h0M466.6 191.5h0M463.5 176.6h0M469.3 198.9h0M457.3 205.5h0M467.5 197.6h0M462.2 199.9h0M468.2 206.2h0M482.8 136.0h0M466.7 190.6h0M468.6 172.4h0M469.5 187.7h0M480.0 205.9h0M465.8 178.4h0M470.1 190.1h0M474.8 204.3h0M465.4 202.7h0M465.9 206.1h0M463.2 172.0h0M468.4 162.7h0M472.9 181.9h0M476.3 195.6h0M453.9 201.0h0M463.7 171.1h0M462.1 199.7h0M467.1 181.9h0M470.6 207.0h0M463.7 197.6h0M468.3 174.0h0M467.4 204.5h0M464.4 195.6h0M467.5 203.1h0M469.7 197.2h0M469.4 205.5h0M467.3 186.0h0M468.9 207.1h0M457.9 139.1h0M455.7 191.0h0M470.4 176.1h0M467.4 207.4h0M471.3 140.5h0M470.5 186.4h0M464.0 191.5h0M470.6 163.5h0M456.9 206.1h0M463.1 203.2h0M466.0 197.0h0M469.8 192.2h0M459.6 179.7h0M471.5 176.9h0M454.6 192.2h0M465.3 199.3h0M466.5 204.9h0M481.5 183.5h0M463.5 205.1h0M471.4 200.6h0M479.0 176.3h0M460.5 144.4h0M466.7 207.0h0M467.7 183.7h0M469.6 200.5h0M455.7 185.6h0M451.0 206.6h0M472.4 200.6h0M459.5 205.6h0M468.4 200.3h0M468.3 202.3h0M466.1 194.4h0M462.8 193.0h0M465.8 203.4h0M466.9 178.6h0M464.0 161.2h0M466.5 206.0h0M473.8 191.3h0M466.4 197.7h0M472.5 191.8h0M469.6 202.6h0M472.4 203.3h0M474.3 178.7h0M473.4 203.2h0M471.2 188.0h0M465.6 198.0h0M467.3 195.2h0M475.1 204.8h0M465.3 192.7h0M482.3 204.3h0M465.1 206.6h0M468.5 198.2h0M476.5 204.1h0M469.8 205.6h0M465.8 182.4h0M459.5 194.0h0M470.0 205.8h0M467.5 202.9h0M480.1 204.8h0M455.7 199.0h0M467.3 191.1h0M469.2 203.5h0M475.8 189.5h0M458.9 198.4h0M471.7 181.0h0M470.2 192.0h0M464.7 193.9h0M469.2 170.5h0M457.0 168.6h0M457.5 205.5h0M472.1 207.4h0M460.9 176.5h0M470.4 190.5h0M465.6 200.9h0M470.1 174.4h0M473.5 205.9h0M460.5 186.0h0M472.9 206.8h0M482.2 196.5h0M463.3 198.5h0M461.9 197.1h0M471.9 196.0h0M468.8 185.2h0M466.5 199.6h0M479.1 193.6h0M469.5 204.8h0M471.8 186.5h0M467.6 179.5h0M466.4 205.0h0M469.5 197.0h0M464.1 182.5h0M473.6 203.3h0M469.5 186.3h0M465.7 202.0h0M464.4 200.4h0M453.7 186.6h0M470.5 200.0h0M465.6 195.4h0M467.9 207.2h0M472.7 184.7h0M469.2 191.3h0M462.0 205.4h0M462.4 201.3h0M467.3 177.4h0M461.2 200.0h0M510.5 142.3h0M464.7 202.7h0M463.6 199.0h0M466.3 200.6h0M468.9 197.9h0M470.5 189.9h0M457.1 200.4h0M470.3 194.4h0M474.3 202.7h0M468.5 185.0h0M469.9 175.9h0M457.1 196.2h0M472.0 199.5h0M471.3 181.8h0M466.1 206.7h0M468.7 190.7h0M477.9 134.8h0M471.7 202.1h0M465.7 170.3h0M464.2 186.4h0M472.9 194.7h0M458.9 183.3h0M473.4 188.7h0M464.7 173.0h0M457.1 190.0h0M466.0 203.7h0M466.9 187.7h0M471.4 198.4h0M473.5 181.0h0M461.3 172.1h0M460.5 188.1h0M469.8 149.5h0M464.1 194.9h0M464.9 201.6h0M466.1 192.9h0M466.2 182.2h0M487.6 188.4h0M464.7 204.2h0M468.7 183.3h0M472.8 188.8h0M466.1 201.2h0M467.8 183.9h0M470.1 206.4h0M462.0 177.7h0M462.4 193.1h0M460.7 197.1h0M443.8 198.0h0M471.5 188.4h0M465.1 203.4h0M468.5 204.7h0M471.2 195.4h0M470.6 204.2h0M428.4 203.9h0M468.5 178.2h0M468.7 174.1h0M476.2 173.1h0M471.8 165.8h0M454.0 203.3h0M464.4 191.2h0M452.6 174.3h0M471.0 197.4h0M474.3 186.9h0M463.7 155.7h0M469.3 192.6h0M462.7 204.3h0M459.7 201.6h0M474.3 207.4h0M465.8 194.9h0M474.9 207.0h0M483.0 191.2h0M464.3 195.4h0M468.6 202.6h0M464.2 194.3h0M471.2 177.1h0M468.2 201.8h0M467.1 206.1h0M468.5 190.0h0M468.0 192.6h0M475.4 187.6h0M462.7 201.2h0M461.0 195.5h0M482.4 182.5h0M458.6 205.8h0M469.1 204.5h0M469.0 205.1h0M474.5 167.4h0M461.9 138.0h0M462.4 200.2h0M466.1 198.4h0M473.1 177.6h0M468.8 193.3h0M464.9 167.7h0M461.6 192.5h0M468.1 196.6h0M468.9 205.7h0M469.0 190.9h0M474.9 176.2h0M455.4 206.7h0M469.8 199.9h0M475.4 173.4h0M472.3 159.6h0M464.1 191.1h0M472.2 183.4h0M450.7 190.5h0M474.7 185.4h0M492.9 206.0h0M465.1 204.0h0M465.7 200.8h0M473.5 166.5h0M462.7 203.6h0M470.4 191.9h0M460.3 205.2h0M474.2 156.9h0M455.6 174.8h0M466.4 172.8h0M467.5 204.1h0M470.3 206.8h0M470.3 202.6h0M469.6 187.5h0M461.8 157.1h0M469.9 207.0h0M460.4 177.5h0M470.6 204.0h0M461.8 194.8h0M465.9 189.1h0M474.6 192.4h0M475.3 163.9h0M466.3 171.0h0M461.3 205.2h0M466.7 194.1h0M468.8 200.8h0M476.5 188.8h0M466.7 195.2h0M455.7 203.7h0M465.0 200.1h0M461.8 191.9h0M442.0 194.4h0M480.9 207.4h0M472.8 192.1h0M481.8 172.8h0M462.9 169.1h0M468.8 157.6h0M469.3 203.0h0M467.7 194.3h0M465.2 197.4h0M468.6 187.2h0M468.1 191.7h0M469.6 194.1h0M461.5 204.4h0M470.5 166.8h0M478.9 178.3h0M465.4 177.4h0M468.0 194.6h0M486.4 195.0h0M477.1 201.0h0M460.0 207.4h0M471.1 206.1h0M475.2 183.3h0M469.5 192.3h0M469.8 196.8h0M467.0 203.6h0M468.4 196.2h0M464.0 176.3h0M473.4 156.5h0M481.1 189.2h0M473.9 199.1h0M479.4 178.4h0M466.2 194.2h0M463.6 191.3h0M466.7 206.9h0M468.7 201.5h0M468.0 207.2h0M471.1 196.4h0M463.0 195.5h0M469.5 207.2h0M461.4 192.3h0M466.3 197.5h0M471.8 144.0h0M471.5 177.3h0M466.3 186.3h0M468.4 183.6h0M471.5 193.3h0M468.6 205.6h0M463.2 181.0h0M480.0 155.7h0M457.5 197.8h0M465.1 190.3h0M475.4 155.3h0M473.2 202.9h0M459.0 206.5h0M470.5 202.6h0M455.3 203.8h0M486.3 202.9h0M465.4 207.2h0M462.7 174.0h0M462.3 205.4h0M469.5 201.6h0M462.7 206.7h0M472.3 204.8h0M470.0 197.5h0M450.5 200.5h0M482.9 183.7h0M465.0 188.9h0M463.3 175.2h0M463.4 192.1h0M475.5 204.3h0M478.3 189.3h0M466.2 205.5h0M466.7 179.8h0M464.9 200.2h0M473.4 182.8h0M469.1 199.9h0M463.5 203.5h0M471.4 205.4h0M470.2 203.0h0M470.3 174.3h0M468.8 201.2h0M469.9 186.7h0M462.9 196.0h0M463.3 174.2h0M463.2 193.7h0M468.3 200.5h0M476.3 170.6h0M461.9 198.6h0M478.5 205.5h0M467.8 196.7h0M458.2 188.5h0M475.1 180.7h0M463.6 194.5h0M469.0 191.7h0M462.2 201.4h0M465.8 202.5h0M466.9 201.5h0M466.8 202.9h0M469.5 203.6h0M462.6 202.1h0M473.5 184.0h0M461.8 198.2h0M469.8 191.6h0M472.4 163.9h0M473.2 199.7h0M471.9 174.3h0M470.4 201.2h0M464.8 197.0h0M463.6 162.6h0M465.4 192.9h0M461.6 197.3h0M473.9 183.9h0M462.7 206.4h0M469.8 206.7h0M451.3 169.0h0M455.9 201.9h0M464.6 193.1h0M468.0 204.5h0M470.2 206.5h0M468.0 195.8h0M461.5 199.8h0M466.8 190.5h0M469.9 200.7h0M466.0 207.4h0M469.4 188.8h0M465.0 147.6h0M461.0 207.1h0M466.8 201.2h0M460.6 198.3h0M471.1 192.1h0M475.5 206.4h0M459.1 171.5h0M456.7 183.2h0M457.9 204.4h0M471.0 123.0h0M462.4 184.8h0M471.8 177.3h0M475.6 192.8h0M472.8 202.4h0M467.7 206.8h0M454.3 183.6h0M470.7 133.7h0M458.8 202.5h0M464.0 206.0h0M468.5 135.5h0M465.9 199.3h0M463.5 198.7h0M467.9 197.6h0M463.9 199.6h0M467.8 185.8h0M468.4 205.7h0M474.4 181.9h0M466.1 206.6h0M461.6 206.8h0M477.9 204.5h0M466.2 191.4h0M462.4 206.7h0M468.8 181.4h0M467.1 195.5h0M467.7 195.9h0M462.3 174.1h0M464.0 207.4h0M458.2 178.4h0M469.2 195.1h0M462.1 165.8h0M463.2 186.0h0M464.4 204.4h0M468.8 201.0h0M463.9 190.4h0M469.1 200.2h0M466.6 177.4h0M464.4 200.5h0M462.2 205.6h0M463.9 187.1h0M470.4 184.4h0M482.9 166.2h0M467.6 206.1h0M465.4 201.2h0M485.0 199.3h0M475.5 199.2h0M464.2 200.8h0M464.0 186.2h0M466.7 180.3h0M461.2 163.9h0M460.5 175.8h0M477.5 180.0h0M465.7 203.7h0M476.0 188.3h0M446.1 191.4h0M467.2 202.5h0M474.4 207.1h0M479.1 169.0h0M472.2 198.5h0M472.5 192.7h0M466.2 178.5h0M475.0 189.2h0M466.0 203.4h0M471.2 185.2h0M463.3 197.7h0M460.0 194.2h0M466.7 205.0h0M468.0 205.1h0M465.8 204.5h0M465.8 193.4h0M450.0 193.2h0M471.5 200.9h0M474.0 207.4h0M465.8 195.7h0M427.2 187.0h0M462.9 194.9h0M475.9 198.1h0M466.6 199.7h0M458.8 206.5h0M467.3 198.3h0M463.9 204.3h0M467.5 194.8h0M466.4 194.1h0M465.2 205.9h0M470.3 186.2h0M465.4 187.2h0M461.8 197.3h0M464.8 170.2h0M474.3 176.9h0M465.9 196.3h0M464.4 200.0h0M456.2 207.3h0M463.0 170.4h0M463.8 153.7h0M469.0 201.2h0M462.1 205.7h0M469.0 166.9h0M472.1 186.9h0M463.1 201.1h0M465.4 200.0h0M473.7 205.2h0M468.3 200.6h0M463.9 206.7h0M464.2 186.7h0M476.6 202.6h0M465.2 198.6h0M448.5 191.7h0M465.3 202.0h0M463.3 204.7h0M462.2 198.3h0M468.4 201.9h0M479.4 192.5h0M480.1 205.0h0M482.5 191.3h0M468.9 199.6h0M465.0 198.8h0M462.3 196.2h0M462.6 206.1h0M471.3 201.6h0M462.4 198.6h0M473.0 201.8h0M468.6 201.7h0M472.6 188.7h0M466.5 188.0h0M469.2 199.2h0M478.9 174.0h0M487.2 204.0h0M470.3 203.1h0M472.4 200.0h0M468.6 188.8h0M462.5 207.2h0M470.7 202.5h0M471.5 205.1h0M460.2 202.0h0M471.6 197.7h0M435.9 186.1h0M467.9 178.4h0M464.5 204.1h0M468.6 199.5h0M462.0 183.0h0M479.1 180.9h0M463.6 195.3h0M472.5 199.9h0M473.3 203.0h0M465.3 195.1h0M466.1 184.0h0M471.0 201.0h0M465.6 172.8h0M465.9 177.6h0M461.4 190.7h0M464.3 197.8h0M444.9 140.0h0M469.4 173.5h0M469.0 201.7h0M459.3 192.4h0M464.8 193.9h0M465.5 194.8h0M468.3 177.9h0M465.4 207.0h0M461.1 206.2h0M469.3 199.8h0M469.9 166.9h0M466.2 201.2h0M464.4 204.0h0M466.4 189.0h0M468.7 175.3h0M465.1 202.2h0M463.4 199.9h0M459.6 191.7h0M469.2 186.8h0M471.1 206.3h0M499.0 166.0h0M467.6 187.6h0M467.8 195.1h0M467.3 198.6h0M463.8 184.4h0M456.3 198.7h0M470.1 170.3h0M466.7 196.8h0M472.7 191.5h0M476.4 201.8h0M459.5 180.1h0M470.0 175.5h0M469.8 207.0h0M480.7 193.2h0M463.4 158.9h0M463.9 193.0h0M464.5 185.4h0M465.8 204.2h0M472.3 205.4h0M460.9 203.0h0M456.1 200.9h0M476.3 198.0h0M459.8 200.3h0M471.3 191.4h0M469.3 186.0h0M465.3 197.9h0M467.1 183.4h0M471.7 207.4h0M465.5 198.8h0M467.7 202.7h0M465.5 169.8h0M457.7 151.2h0M470.7 177.6h0M473.1 178.8h0M465.3 197.4h0M467.9 200.4h0M469.0 205.7h0M462.8 167.5h0M467.5 195.7h0M463.3 200.5h0M465.6 192.7h0M469.8 162.8h0M455.1 167.7h0M446.9 127.3h0M454.8 188.2h0M458.1 176.4h0M483.1 206.7h0M455.0 199.7h0M466.9 168.0h0M471.0 200.7h0M469.0 195.9h0M473.2 204.4h0M466.9 179.1h0M465.7 189.5h0M467.1 195.4h0M470.2 196.2h0M463.9 174.5h0M471.4 204.4h0M475.5 176.1h0M468.4 194.5h0M462.8 198.0h0M471.4 193.5h0M476.4 189.2h0M500.1 202.1h0M465.3 196.6h0M463.6 201.1h0M467.3 203.0h0M466.3 206.3h0M469.9 195.5h0M474.3 192.7h0M476.1 206.2h0M475.6 207.0h0M472.5 205.3h0M463.1 180.5h0M463.8 206.0h0M469.0 200.2h0M469.8 196.5h0M468.3 173.0h0M469.8 176.6h0M466.1 205.1h0M462.2 186.4h0M470.0 194.9h0M467.0 193.1h0M458.4 191.3h0M466.1 193.0h0M466.8 185.9h0M469.8 205.8h0M465.6 196.3h0M464.3 186.7h0M464.9 181.2h0M470.6 203.8h0M470.0 203.6h0M478.5 204.2h0M460.4 198.8h0M470.7 188.7h0M468.1 181.1h0M475.4 190.8h0M459.0 166.5h0M474.1 185.6h0M463.5 189.6h0M475.8 170.8h0M478.5 175.5h0M469.8 171.4h0M462.4 191.5h0M471.3 206.3h0M463.9 206.9h0M467.5 168.9h0M467.2 198.8h0M465.8 200.7h0M476.6 199.6h0M471.5 196.2h0M457.9 185.8h0M473.5 194.5h0M472.5 200.4h0M469.1 203.3h0M467.2 165.7h0M470.8 207.6h0M463.8 178.1h0M466.2 206.1h0M467.6 207.2h0M467.2 193.0h0M479.0 204.6h0M469.3 197.8h0M467.7 185.4h0M464.1 201.2h0M463.8 190.1h0M467.6 175.6h0M471.0 203.2h0M468.5 179.3h0M462.0 206.4h0M467.8 180.0h0M466.6 188.3h0M468.2 203.8h0M462.3 204.5h0M461.0 192.0h0M471.2 199.2h0M475.0 206.6h0M465.8 186.5h0M472.5 185.2h0M462.9 169.1h0M471.3 201.2h0M469.3 201.3h0M468.2 171.8h0M463.3 202.0h0M465.3 186.4h0M464.5 196.2h0M466.6 197.8h0M472.0 198.4h0M481.2 197.5h0M464.0 191.9h0M471.7 201.5h0M454.1 181.0h0M472.8 205.2h0M469.8 191.5h0M463.1 203.2h0M462.7 199.1h0M449.6 194.0h0M470.5 194.9h0M470.8 196.6h0M462.6 192.7h0M470.9 197.8h0M454.3 195.0h0M470.1 204.7h0M467.7 184.7h0M462.3 202.8h0M468.4 192.5h0M465.0 204.9h0M459.1 204.4h0M471.0 163.5h0M463.7 206.3h0M455.0 204.1h0M468.1 200.4h0M471.0 179.5h0M460.2 204.5h0M467.8 198.6h0M482.6 182.7h0M470.4 200.0h0M466.6 171.4h0M463.8 201.5h0M500.3 179.5h0M468.4 187.4h0M467.2 190.8h0M466.8 199.1h0M464.6 200.4h0M458.4 192.6h0M468.6 185.9h0M473.6 167.5h0M471.1 190.0h0M468.0 203.4h0M468.9 206.4h0M470.3 206.2h0M464.1 165.4h0M435.5 172.5h0M466.0 190.6h0M464.9 197.7h0M463.5 156.6h0M467.4 166.5h0M464.7 204.3h0M466.0 207.5h0M465.8 193.5h0M462.6 203.6h0M469.6 201.6h0M469.6 203.1h0M472.2 192.8h0M468.4 206.3h0M475.1 171.9h0M465.1 185.0h0M470.1 199.9h0M473.2 183.9h0M474.4 204.6h0M464.8 204.2h0M467.7 203.6h0M469.3 205.4h0M469.5 199.9h0M469.9 178.6h0M466.6 188.6h0M461.5 191.8h0M469.6 199.9h0M468.5 201.4h0M470.4 201.9h0M459.0 184.6h0M474.4 206.2h0M451.0 197.2h0M462.4 180.8h0M464.4 206.5h0M466.3 200.8h0M472.6 201.1h0M463.6 199.1h0M460.2 197.5h0M481.2 202.0h0M463.4 200.7h0M462.5 181.4h0M454.9 194.9h0M472.1 202.1h0M465.1 205.8h0M459.0 182.5h0M456.2 198.1h0M463.6 177.9h0M469.5 191.1h0M474.9 138.1h0M461.0 189.9h0M465.3 205.2h0M464.1 187.2h0M464.8 175.4h0M472.4 169.1h0M474.7 197.5h0M466.8 192.1h0M468.1 199.6h0M460.4 192.1h0M460.2 196.7h0M465.5 192.2h0M464.9 186.4h0M458.6 129.4h0M461.8 186.1h0M464.6 202.5h0M471.4 189.5h0M473.1 203.2h0M471.0 201.6h0M465.6 204.3h0M469.2 183.5h0M472.1 191.1h0M467.3 184.9h0M468.8 193.4h0M466.3 206.2h0M463.5 201.4h0M462.2 169.1h0M466.4 207.5h0M469.7 201.0h0M467.1 204.1h0M462.4 204.6h0M463.7 206.2h0M467.4 203.3h0M466.9 185.3h0M464.6 202.6h0M468.3 200.7h0M466.8 192.7h0M468.8 205.2h0M461.9 131.9h0M469.0 195.9h0M465.6 205.5h0M466.2 196.8h0M444.6 191.2h0M466.3 169.7h0M471.2 179.3h0M451.2 184.9h0M461.3 207.5h0M461.7 197.4h0M463.6 187.5h0M467.9 205.6h0M468.4 199.2h0M466.0 186.8h0M449.8 200.4h0M471.5 145.1h0M447.1 196.5h0M470.9 196.7h0M483.1 161.9h0M469.7 200.5h0M472.9 143.5h0M473.5 179.6h0M461.2 202.5h0M462.7 192.0h0M458.7 202.0h0M464.6 197.1h0M464.9 194.5h0M464.0 198.7h0M462.7 109.2h0M470.6 206.5h0M465.1 201.3h0M477.9 178.7h0M476.1 201.4h0M467.7 206.3h0M462.7 204.6h0M463.6 200.0h0M471.4 196.6h0M464.1 199.5h0M471.0 178.6h0M466.4 193.8h0M462.3 205.3h0M463.3 190.3h0M480.6 185.1h0M456.9 196.5h0M465.8 204.1h0M468.0 205.5h0M472.9 207.6h0M467.4 207.0h0M461.3 169.6h0M467.3 194.2h0M466.8 197.5h0M470.3 201.0h0M472.9 190.4h0M463.0 190.9h0M468.0 199.1h0M473.7 190.6h0M462.1 187.9h0M463.6 178.9h0M460.3 200.6h0M477.0 187.6h0M469.4 180.6h0M469.7 206.0h0M471.4 191.3h0M472.4 186.3h0M467.7 166.6h0M461.1 196.4h0M465.1 189.3h0M465.6 198.5h0M466.9 187.7h0M463.5 194.7h0M463.1 172.6h0M455.7 160.2h0M464.9 206.4h0M462.7 202.3h0M467.8 192.8h0M460.5 180.1h0M466.0 200.6h0M468.9 199.0h0M468.7 199.5h0M473.0 207.2h0M463.3 189.8h0M463.8 206.3h0M469.3 193.3h0M468.6 207.2h0M458.5 207.1h0M462.5 192.6h0M474.5 195.7h0M460.8 205.7h0M458.2 205.7h0M460.7 167.5h0M467.7 195.9h0M470.6 168.0h0M464.6 204.8h0M459.8 185.3h0M458.8 188.7h0M466.7 188.2h0M475.6 202.0h0M469.8 188.4h0M468.1 193.6h0M462.0 205.3h0M471.2 193.6h0M470.8 206.1h0M462.8 206.1h0M457.5 194.1h0M469.0 182.7h0M455.9 206.5h0M469.0 197.6h0M466.4 190.0h0M463.3 159.4h0M471.3 194.5h0M460.2 150.2h0M465.5 199.6h0M465.6 191.7h0M463.2 186.6h0M473.7 181.8h0M456.2 202.9h0M462.5 205.8h0M461.7 196.8h0M469.1 164.1h0M461.5 207.3h0M467.9 187.8h0M463.1 196.9h0M464.6 205.9h0M465.6 200.1h0M467.7 189.7h0M466.0 201.6h0M467.0 203.4h0M469.1 200.1h0M460.9 191.4h0M465.0 202.8h0M463.0 190.8h0M469.4 190.3h0M472.3 186.0h0M471.2 207.1h0M497.0 171.4h0M485.1 157.4h0M462.9 186.6h0M464.9 171.9h0M461.7 190.5h0M461.1 206.5h0M462.3 206.7h0M465.4 182.4h0M467.2 186.8h0M461.8 192.1h0M465.5 206.7h0M480.3 185.0h0M460.7 203.0h0M467.5 200.0h0M455.9 205.4h0M462.7 185.7h0M470.2 206.3h0M471.7 207.5h0M465.5 191.8h0M475.1 206.5h0M460.2 202.3h0M469.7 182.2h0M457.4 193.7h0M466.8 184.0h0M468.7 205.9h0M466.0 182.5h0M470.4 205.4h0M462.9 185.7h0M469.7 205.6h0M468.4 203.6h0M467.7 202.3h0M452.0 185.2h0M471.6 201.9h0M465.0 199.6h0M479.5 189.6h0M464.0 207.4h0M466.2 206.8h0M467.9 200.3h0M468.7 205.9h0M464.8 188.9h0M459.4 177.4h0M469.0 188.9h0M465.0 198.0h0M478.6 205.8h0M471.6 204.6h0M456.7 183.3h0M471.0 204.2h0M472.7 205.5h0M476.1 198.4h0M463.6 195.6h0M459.6 194.7h0M475.8 179.9h0M472.3 184.5h0M465.3 196.0h0M462.9 196.2h0M467.4 196.8h0M462.4 193.9h0M473.0 204.8h0M464.7 177.1h0M454.9 178.2h0M468.5 206.4h0M464.5 198.5h0M469.8 199.4h0M467.8 194.8h0M464.9 193.1h0M470.1 189.7h0M465.2 196.9h0M462.3 204.4h0M469.4 154.4h0M472.4 206.6h0M452.3 179.3h0M481.3 195.4h0M463.4 204.4h0M474.0 173.2h0M466.4 200.3h0M461.6 199.1h0M469.7 197.5h0M462.9 204.4h0M467.6 172.8h0M467.0 181.8h0M468.3 206.0h0M470.6 206.7h0M470.5 172.0h0M463.1 200.8h0M467.2 168.0h0M459.5 206.4h0M470.4 206.6h0M467.2 201.3h0M474.7 195.1h0M469.2 200.3h0M469.0 197.7h0M464.5 204.3h0M463.0 204.5h0M464.4 205.0h0M471.1 204.6h0M469.5 181.9h0M474.2 180.6h0M468.5 201.4h0M473.3 197.4h0M467.6 207.1h0M480.5 192.1h0M463.8 205.2h0M473.7 193.9h0M460.3 173.3h0M466.4 188.5h0M461.8 206.9h0M457.7 203.2h0M467.7 204.6h0M478.9 184.7h0M465.6 203.8h0M469.4 181.7h0M456.2 199.6h0M466.4 200.5h0M465.5 194.2h0M466.7 206.9h0M471.3 190.6h0M465.6 185.4h0M465.2 180.5h0M461.6 202.6h0M466.3 204.1h0M486.2 204.3h0M472.0 199.5h0M458.2 192.6h0M461.3 177.1h0M464.9 186.1h0M465.2 201.4h0M492.6 184.0h0M473.9 197.8h0M466.1 206.9h0M469.3 183.0h0M475.6 186.2h0M470.0 184.4h0M461.0 161.3h0M489.2 197.9h0M472.2 197.5h0M471.6 198.9h0M467.4 207.0h0M474.8 198.2h0M463.0 199.2h0M473.0 205.6h0M468.0 205.3h0M465.7 196.6h0M456.9 199.1h0M470.6 190.5h0M468.8 195.7h0M464.5 195.2h0M477.5 196.8h0M463.7 183.0h0M469.8 198.9h0M468.9 186.1h0M455.1 187.7h0M469.5 187.4h0M464.9 203.5h0M455.9 207.5h0M468.7 176.9h0M461.4 199.4h0M462.0 182.7h0M468.3 201.1h0M464.1 205.0h0M468.9 193.4h0M465.9 194.7h0M467.3 207.3h0M467.2 198.6h0M471.2 190.5h0M477.9 182.5h0M449.8 204.8h0M470.4 201.5h0M466.2 187.7h0M466.7 196.0h0M460.6 173.8h0M472.5 203.3h0M473.9 205.8h0M469.7 202.2h0M472.6 201.8h0M466.2 172.8h0M467.3 206.0h0M460.6 198.8h0M470.7 205.7h0M465.5 202.6h0M470.8 205.6h0M467.8 204.0h0M464.1 202.3h0M476.7 198.9h0M460.1 185.8h0M463.4 184.0h0M464.2 206.1h0M466.7 203.7h0M473.2 184.1h0M460.6 169.1h0M467.3 205.4h0M459.4 134.2h0M468.6 199.6h0M468.2 201.7h0M469.7 193.0h0M470.7 206.1h0M471.8 200.2h0M469.3 207.5h0M468.2 201.3h0M468.8 197.6h0M474.4 164.6h0M460.8 205.4h0M469.5 171.1h0M480.0 185.6h0M463.2 200.2h0M454.8 201.1h0M468.7 206.3h0M475.5 206.7h0M461.3 206.2h0M469.9 203.6h0M470.4 191.2h0M463.5 202.1h0M463.8 175.9h0M458.0 188.4h0M464.1 207.5h0M470.8 200.0h0M466.6 206.3h0M472.2 177.0h0M468.0 198.9h0M474.3 178.7h0M465.2 201.7h0M469.8 206.3h0M471.7 193.5h0M478.7 138.7h0M488.4 188.8h0M473.0 194.3h0M461.2 203.8h0M465.3 207.3h0M466.5 185.8h0M477.4 175.2h0M473.9 187.5h0M464.3 184.5h0M462.8 180.8h0M491.4 205.5h0M464.2 186.3h0M452.5 176.2h0M464.9 175.4h0M487.1 202.1h0M438.7 193.2h0M463.8 191.5h0M469.9 201.6h0M463.9 199.8h0M475.3 194.4h0M462.9 199.4h0M471.8 187.5h0M463.8 193.3h0M464.4 200.9h0M462.3 142.4h0M473.1 192.3h0M467.7 191.2h0M460.9 188.3h0M474.4 195.8h0M457.6 201.3h0M467.6 202.4h0M451.3 203.2h0M480.0 199.5h0M475.2 136.6h0M461.1 183.7h0M464.5 200.7h0M486.9 171.1h0M475.6 198.3h0M472.1 136.4h0M469.1 204.6h0M463.7 177.1h0M467.9 193.4h0M474.1 171.6h0M466.7 194.8h0M459.1 196.5h0M452.4 205.1h0M460.7 180.8h0M470.7 205.5h0M465.5 183.1h0M467.1 191.7h0M476.8 206.9h0M462.7 196.3h0M463.6 184.3h0M469.1 194.1h0M469.2 204.3h0M462.5 205.2h0M462.7 170.4h0M469.8 196.3h0M471.0 190.9h0M466.6 193.6h0M471.0 186.8h0M462.0 202.4h0M461.9 137.4h0M472.8 194.1h0M475.9 189.4h0M466.0 192.8h0M464.6 193.3h0M473.1 207.2h0M466.5 201.2h0M465.2 191.3h0M470.5 189.1h0M464.9 193.5h0M460.7 206.4h0M464.6 198.8h0M462.0 206.8h0M466.3 180.6h0M465.8 196.5h0M469.0 202.0h0M467.0 204.3h0M468.1 169.0h0M466.8 192.2h0M465.7 205.3h0M466.5 199.3h0M467.2 174.3h0M465.2 192.8h0M484.6 195.8h0M466.1 192.8h0M477.3 194.9h0M471.8 207.0h0M463.5 196.4h0M466.2 196.7h0M463.0 163.8h0M464.9 194.4h0M474.3 199.7h0M456.6 181.6h0M471.2 198.1h0M473.3 167.5h0M466.8 185.5h0M465.7 196.5h0M470.0 187.5h0M488.7 193.8h0M464.2 201.8h0M449.0 178.2h0M450.0 200.4h0M470.6 206.9h0M466.1 204.3h0M465.2 190.9h0M457.3 200.0h0M465.9 170.4h0M467.9 202.0h0M460.6 202.7h0M471.2 181.9h0M473.5 191.1h0M464.8 199.0h0M453.1 200.5h0M477.7 199.5h0M468.5 202.7h0M468.7 204.8h0M469.0 194.7h0M461.9 136.1h0M459.0 203.9h0M463.6 169.9h0M471.8 196.8h0M468.8 201.8h0M466.3 203.9h0M451.8 196.8h0M468.8 199.8h0M462.5 207.0h0M463.8 203.1h0M472.1 186.2h0M469.8 206.4h0M463.5 201.0h0M449.3 187.2h0M466.7 185.7h0M464.1 193.7h0M469.1 196.1h0M467.7 204.7h0M472.6 194.2h0M464.8 201.8h0M462.0 189.0h0M471.6 194.7h0M455.3 188.4h0M457.0 191.6h0M468.2 201.5h0M471.1 182.7h0M466.0 195.4h0M462.9 202.5h0M456.4 129.4h0M445.7 192.3h0M467.6 203.2h0M458.8 200.4h0M453.2 204.1h0M464.5 184.4h0M461.2 199.3h0M468.0 187.5h0M457.0 165.4h0M473.9 203.5h0M462.3 187.0h0M463.5 202.3h0M466.9 203.2h0M460.9 203.9h0M466.2 186.5h0M464.5 203.8h0M462.9 183.6h0M468.2 200.6h0M458.0 126.6h0M477.6 203.5h0M462.2 160.5h0M468.7 202.0h0M466.5 199.8h0M472.2 160.4h0M470.3 198.4h0M461.8 201.7h0M468.9 204.0h0M465.7 207.3h0M471.0 183.3h0M464.2 193.0h0M476.6 190.5h0M470.2 200.6h0M461.7 179.3h0M463.9 197.7h0M470.4 183.2h0M469.1 180.8h0M465.6 202.8h0M473.0 197.4h0M469.3 203.3h0M469.1 200.6h0M466.4 204.8h0M460.6 195.0h0M461.2 133.1h0M456.6 207.6h0M465.8 182.5h0M467.1 204.3h0M457.5 180.1h0M467.5 196.1h0M466.1 186.4h0M442.7 200.4h0M458.1 164.4h0M461.7 162.8h0M481.5 194.4h0M474.5 204.8h0M461.8 194.6h0M470.9 171.2h0M473.9 207.5h0M473.0 187.6h0M461.0 197.9h0M471.3 185.2h0M470.2 201.5h0M465.1 192.8h0M475.6 203.7h0M466.1 165.1h0M466.7 204.3h0M463.5 205.9h0M446.1 184.2h0M467.0 183.1h0M466.1 205.5h0M460.8 192.6h0M468.1 191.9h0M458.9 198.4h0M472.0 197.4h0M472.8 204.1h0M471.0 200.8h0M470.2 201.7h0M466.5 193.2h0M481.5 196.2h0M468.3 204.9h0M455.9 205.2h0M463.2 199.2h0M471.2 198.6h0M470.3 187.2h0M467.2 195.1h0M473.8 179.8h0M471.4 195.3h0M454.8 159.6h0M464.9 184.5h0M464.4 186.2h0M460.9 194.9h0M460.1 201.1h0M470.8 168.0h0M466.8 200.0h0M468.5 203.3h0M463.4 177.0h0M469.9 173.9h0M452.8 168.6h0M465.5 199.8h0M446.9 191.8h0M466.2 190.3h0M466.0 157.2h0M467.0 203.6h0M469.6 179.6h0M468.1 204.0h0M465.6 189.1h0M460.0 206.4h0M462.2 175.4h0M484.8 151.2h0M458.6 204.6h0M473.0 203.7h0M466.9 195.7h0M458.8 172.3h0M467.1 186.7h0M468.6 193.8h0M474.6 207.0h0M474.4 181.3h0M463.2 200.5h0M459.5 201.7h0M469.9 205.2h0M470.1 200.9h0M474.0 190.9h0M461.0 193.7h0M476.1 194.9h0M467.7 198.6h0M459.0 196.8h0M471.6 168.8h0M474.7 203.2h0M459.1 190.4h0M490.0 199.6h0M473.3 187.7h0M475.8 193.9h0M470.8 207.5h0M475.0 200.0h0M462.3 179.2h0M513.3 206.8h0M467.7 204.2h0M468.1 204.5h0M455.6 204.6h0M473.1 189.4h0M470.8 196.0h0M464.2 206.2h0M464.2 194.8h0M461.0 206.5h0M464.4 204.1h0M448.7 195.4h0M465.5 196.7h0M465.4 196.4h0M470.9 185.2h0M472.2 189.7h0M466.1 193.1h0M461.3 196.9h0M473.7 205.3h0M479.9 195.2h0M466.8 197.7h0M469.1 201.7h0M459.8 203.8h0M472.1 207.1h0M471.1 202.4h0M447.9 198.9h0M466.2 201.9h0M461.5 171.8h0M466.2 202.4h0M468.7 181.7h0M470.8 205.4h0M467.3 205.3h0M467.3 199.7h0M468.1 206.5h0M461.1 156.9h0M464.2 163.6h0M464.7 195.6h0M470.2 180.0h0M460.8 206.9h0M464.6 192.8h0M473.1 204.6h0M467.0 186.2h0M458.8 199.8h0M461.4 162.0h0M461.8 199.4h0M465.1 201.7h0M468.6 199.4h0M464.8 195.1h0M461.9 202.4h0M466.5 182.2h0M472.3 200.9h0M462.8 186.3h0M474.0 161.0h0M472.9 190.9h0M463.1 202.8h0M471.1 176.9h0M465.5 203.3h0M462.7 190.1h0M465.4 195.5h0M464.6 162.1h0M458.1 177.1h0M469.8 200.7h0M467.5 206.1h0M464.0 185.1h0M467.1 201.2h0M469.6 205.4h0M467.0 204.8h0M465.3 206.8h0M475.2 169.7h0M460.5 200.7h0M471.6 186.6h0M462.6 153.8h0M469.4 195.8h0M464.9 206.9h0M464.0 189.5h0M468.9 184.7h0M469.4 207.4h0M472.5 200.8h0M467.9 176.0h0M458.6 141.5h0M483.4 165.0h0M471.8 205.5h0M477.4 201.6h0M464.8 178.5h0M465.2 193.3h0M461.4 194.0h0M469.0 205.1h0M461.2 207.1h0M488.0 126.5h0M471.7 199.3h0M467.0 192.6h0M463.7 199.9h0M456.6 196.3h0M457.8 178.9h0M465.0 186.3h0M470.5 197.1h0M461.7 175.5h0M467.8 206.4h0M469.8 184.2h0M470.9 204.7h0M462.8 179.8h0M465.1 195.8h0M463.0 204.2h0M465.0 200.6h0M468.0 173.5h0M464.6 184.5h0M466.8 191.2h0M466.8 196.0h0M469.7 207.0h0M471.8 189.7h0M472.0 190.2h0M474.1 197.0h0M464.5 182.4h0M474.5 204.4h0M471.6 202.7h0M467.8 206.1h0M472.8 188.8h0M468.5 203.0h0M457.2 202.2h0M457.8 203.3h0M467.9 200.7h0M468.0 197.3h0M470.8 186.1h0M465.4 193.0h0M465.0 170.8h0M434.8 199.9h0M470.8 196.3h0M477.6 161.3h0M471.5 170.1h0M451.2 188.6h0M461.0 179.8h0M461.7 179.9h0M466.5 203.2h0M457.4 188.6h0M477.0 160.9h0M473.4 206.2h0M466.4 206.8h0M465.2 204.4h0M460.2 194.1h0M470.6 207.0h0M467.9 206.0h0M468.1 200.2h0M470.6 201.4h0M459.5 202.0h0M458.0 197.3h0M484.0 205.4h0M465.0 205.1h0M469.6 202.7h0M461.6 201.7h0M471.9 194.6h0M482.4 189.1h0M468.5 207.0h0M461.6 198.3h0M464.6 206.5h0M459.2 182.0h0M465.7 176.9h0M470.5 202.4h0M472.0 200.7h0M465.0 192.6h0M467.7 196.4h0M466.7 206.3h0M461.7 201.0h0M463.4 197.4h0M468.3 185.9h0M475.9 177.3h0M466.6 191.1h0M467.2 187.3h0M462.3 201.7h0M469.2 207.5h0M437.5 205.0h0M468.3 186.0h0M469.1 187.1h0M466.3 198.8h0M464.4 204.8h0M460.5 187.3h0M473.1 185.9h0M470.5 195.0h0M467.8 203.2h0M470.8 194.2h0M464.3 133.6h0M466.8 201.2h0M464.3 205.6h0M464.2 201.3h0M471.9 185.4h0M464.1 196.6h0M465.0 195.7h0M479.0 186.2h0M463.1 192.2h0M479.1 195.9h0M466.3 207.3h0M464.2 201.9h0M467.5 196.7h0M463.3 203.2h0M483.7 197.9h0M462.7 200.9h0M470.8 172.6h0M469.6 207.2h0M466.0 196.3h0M473.3 198.1h0M470.7 201.1h0M470.0 199.8h0M455.4 203.5h0M472.0 181.0h0M471.4 160.2h0M467.8 192.9h0M462.5 203.4h0M464.6 202.8h0M447.3 191.5h0M471.2 202.6h0M460.5 203.3h0M471.8 203.7h0M468.1 206.9h0M479.3 194.4h0M458.6 202.2h0M461.5 206.1h0M466.3 186.5h0M451.1 207.3h0M461.8 189.1h0M470.9 200.6h0M488.7 173.8h0M461.6 179.3h0M471.3 166.8h0M464.4 199.9h0M470.0 195.2h0M465.1 202.6h0M466.7 185.4h0M465.6 179.6h0M466.6 207.0h0M469.9 180.4h0M469.7 198.5h0M465.2 194.5h0M465.1 205.9h0M464.9 199.7h0M463.3 195.2h0M472.7 184.2h0M471.2 204.6h0M478.1 187.8h0M458.5 204.0h0M464.7 201.5h0M466.2 197.5h0M467.9 207.5h0M477.0 200.1h0M466.1 198.8h0M459.0 201.7h0M473.0 177.1h0M471.7 193.6h0M465.5 173.6h0M454.1 150.3h0M465.5 198.1h0M460.9 188.5h0M465.9 177.7h0M466.5 192.0h0M468.5 206.7h0M478.2 158.5h0M462.8 170.2h0M466.6 205.4h0M469.1 181.6h0M472.3 200.7h0M463.3 166.1h0M476.3 151.5h0M474.5 199.4h0M466.2 202.5h0M474.6 180.3h0M463.1 194.5h0M469.6 176.3h0M461.2 204.4h0M467.5 173.4h0M468.9 197.8h0M475.2 206.6h0M460.3 181.1h0M481.0 202.2h0M462.5 195.6h0M460.8 205.0h0M470.1 205.1h0M466.6 195.8h0M474.9 194.7h0M463.7 203.1h0M468.9 201.8h0M460.4 188.7h0M462.3 206.6h0M457.7 195.9h0M460.5 183.7h0M466.1 191.8h0M476.6 192.0h0M463.0 195.8h0M470.9 189.5h0M465.7 194.3h0M476.3 207.1h0M463.0 207.5h0M498.0 184.4h0M468.3 187.6h0M456.9 191.0h0M462.1 182.6h0M471.3 181.9h0M469.6 195.3h0M461.9 192.7h0M453.2 164.0h0M464.1 196.5h0M457.8 194.9h0M467.0 206.8h0M513.2 204.9h0M468.8 200.0h0M463.7 196.6h0M469.3 170.4h0M464.9 200.1h0M464.1 206.4h0M468.4 207.0h0M450.8 206.3h0M461.8 202.4h0M479.9 189.4h0M458.2 178.5h0M467.7 182.0h0M469.8 191.7h0M463.0 170.9h0M464.4 187.4h0M481.2 207.1h0M467.1 202.6h0M462.3 201.6h0M461.6 176.1h0M472.9 196.0h0M492.3 195.5h0M466.6 206.3h0M475.5 200.8h0M466.4 187.2h0M465.6 184.6h0M458.1 169.5h0M470.5 195.7h0M465.2 199.7h0M466.2 191.9h0M469.9 206.5h0M472.0 202.7h0M460.3 197.4h0M468.6 191.8h0M469.7 200.4h0M469.2 201.3h0M459.2 202.4h0M478.9 187.8h0M461.2 192.1h0M471.4 182.9h0M474.8 173.8h0M465.5 187.6h0M470.4 184.6h0M464.2 186.1h0M470.3 195.1h0M470.3 191.3h0M466.5 202.3h0M467.7 184.5h0M462.6 201.9h0M465.3 205.6h0M456.7 195.8h0M468.9 203.9h0M456.8 184.7h0M458.4 165.9h0M464.8 195.6h0M473.4 191.1h0M466.2 195.2h0M468.6 182.6h0M469.8 150.3h0M461.5 202.9h0M467.5 206.5h0M473.8 179.4h0M469.9 202.4h0M461.2 189.8h0M458.9 202.5h0M469.3 198.9h0M484.0 202.8h0M457.9 207.4h0M467.5 186.0h0M481.8 205.4h0M468.9 180.6h0M470.2 203.7h0M458.3 176.1h0M462.6 180.2h0M458.5 193.2h0M471.6 180.8h0M472.5 203.9h0M479.4 151.6h0M461.3 189.5h0M472.9 198.1h0M467.4 203.8h0M469.2 207.2h0M461.9 197.0h0M472.6 179.5h0M469.6 182.5h0M473.7 199.2h0M470.2 174.9h0M471.2 204.8h0M465.8 204.7h0M473.6 202.1h0M474.7 207.1h0M470.7 194.0h0M456.8 206.9h0M459.2 180.1h0M450.4 184.4h0M484.9 196.8h0M465.8 205.6h0M480.7 128.1h0M469.3 205.0h0M467.6 190.8h0M465.8 205.1h0M469.3 205.0h0M473.7 205.6h0M468.9 197.8h0M435.0 171.5h0M466.6 187.2h0M470.8 189.9h0M476.0 200.3h0M460.9 189.2h0M472.6 195.5h0M477.9 190.2h0M469.7 199.5h0M463.9 175.6h0M466.9 191.5h0M465.2 205.4h0M468.0 186.2h0M464.9 195.3h0M507.0 203.3h0M463.0 201.4h0M460.2 194.6h0M468.0 205.2h0M461.8 206.2h0M454.2 203.6h0M467.3 203.0h0M462.8 205.5h0M469.4 205.3h0M465.8 194.9h0M472.0 191.6h0M465.7 194.2h0M468.1 173.3h0M470.8 179.5h0M471.5 201.2h0M465.2 202.4h0M469.0 201.3h0M465.3 198.3h0M477.6 175.8h0M464.8 191.0h0M459.4 206.7h0M478.5 206.8h0M445.0 186.8h0M481.1 190.9h0M463.9 178.8h0M464.8 190.1h0M475.2 193.9h0M461.5 186.0h0M469.7 205.9h0M477.3 163.9h0M459.9 193.5h0M458.2 162.3h0M466.2 190.1h0M467.8 203.0h0M465.0 168.5h0M463.0 198.3h0M467.7 198.1h0M469.1 198.0h0M469.3 195.9h0M470.9 199.4h0M470.4 184.9h0M463.7 184.9h0M478.1 203.3h0M464.5 177.8h0M463.1 204.3h0M473.6 205.8h0M467.7 198.0h0M462.7 185.9h0M467.4 193.5h0M454.5 196.2h0M463.8 201.4h0M467.9 206.5h0M470.5 193.1h0M475.5 180.6h0M466.4 187.6h0M466.8 206.7h0M482.2 181.2h0M458.7 184.1h0M459.9 148.9h0M465.8 199.2h0M457.5 194.8h0M469.0 204.3h0M469.1 200.0h0M459.6 200.3h0M473.5 201.1h0M467.0 194.3h0M467.2 186.9h0M484.5 139.7h0M464.0 191.8h0M456.5 133.1h0M480.7 181.3h0M459.3 191.0h0M468.2 196.5h0M466.2 191.1h0M462.9 181.4h0M463.4 202.8h0M464.5 188.0h0M474.0 189.9h0M461.8 182.0h0M465.5 202.8h0M481.8 194.2h0M469.7 197.5h0M467.7 205.3h0M462.3 205.5h0M471.6 198.3h0M471.2 206.7h0M476.7 197.2h0M465.9 205.4h0M464.2 194.7h0M463.1 185.0h0M466.1 195.7h0M461.4 176.5h0M471.4 191.1h0M477.3 182.5h0M465.9 194.1h0M460.4 167.0h0M468.7 193.4h0M465.1 198.0h0M466.2 207.4h0M467.3 207.5h0M471.9 200.5h0M469.6 194.2h0M457.6 202.7h0M463.7 206.2h0M475.4 201.3h0M457.9 179.4h0M462.6 199.1h0M459.6 195.7h0M463.6 206.1h0M467.6 200.7h0M477.8 207.1h0M460.2 155.2h0M480.6 201.5h0M469.0 181.6h0M472.7 194.6h0M464.6 204.7h0M460.8 207.5h0M468.5 181.9h0M465.8 205.0h0M466.1 173.0h0M465.7 187.4h0M468.9 181.6h0M423.3 207.2h0M465.3 169.4h0M470.6 203.8h0M465.8 196.6h0M465.2 202.0h0M470.1 165.9h0M465.9 194.4h0M466.1 197.5h0M469.3 186.6h0M470.7 200.3h0M474.3 165.2h0M464.4 164.6h0M455.3 200.3h0M472.1 184.9h0M464.1 205.0h0M461.7 197.9h0M463.3 205.4h0M462.4 204.8h0M463.2 201.7h0M462.5 207.3h0M468.0 183.7h0M471.1 197.8h0M469.8 172.7h0M463.6 201.8h0M463.6 204.2h0M461.8 205.7h0M466.7 196.8h0M462.2 206.3h0M470.5 191.2h0M464.4 189.9h0M465.5 202.3h0M464.2 206.2h0M483.8 164.6h0M469.1 196.1h0M478.4 193.9h0M461.3 149.5h0M470.1 170.0h0M459.0 204.2h0M467.6 206.7h0M471.3 198.0h0M461.0 183.3h0M462.8 207.3h0M464.7 192.9h0M463.3 173.2h0M474.0 203.5h0M466.8 201.5h0M457.0 201.3h0M469.3 191.3h0M469.6 186.0h0M472.3 182.4h0M469.8 199.0h0M463.7 187.8h0M468.5 202.1h0M469.4 206.1h0M469.4 204.7h0M464.0 150.1h0M470.5 200.2h0M465.9 186.9h0M464.1 187.0h0M463.2 197.6h0M461.7 154.1h0M457.9 182.5h0M466.1 206.4h0M458.3 147.6h0M464.9 189.4h0M468.3 195.4h0M475.7 169.8h0M466.6 186.6h0M461.3 199.6h0M462.9 188.7h0M463.6 197.7h0M472.8 206.6h0M461.0 167.7h0M467.9 200.8h0M472.3 144.5h0M473.5 191.5h0M472.6 202.0h0M470.5 206.8h0M464.3 194.5h0M470.3 199.7h0M467.2 195.4h0M469.1 171.2h0M463.0 166.6h0M474.2 197.6h0M463.0 205.3h0M467.9 184.4h0M462.9 202.6h0M463.2 199.7h0M470.8 189.0h0M450.8 200.4h0M467.7 184.3h0M460.2 191.2h0M457.5 200.0h0M466.2 206.3h0M467.4 196.8h0M466.6 205.7h0M466.8 207.5h0M464.4 177.1h0M470.7 191.0h0M469.0 207.4h0M469.1 207.3h0M466.8 207.6h0M458.8 202.8h0M466.9 191.5h0M473.1 200.9h0M470.6 141.6h0M470.6 189.8h0M472.3 150.9h0M471.9 193.1h0M465.8 201.1h0M470.4 205.7h0M468.1 166.4h0M460.5 183.0h0M470.1 191.5h0M471.6 170.3h0M461.3 202.7h0M464.8 201.0h0M467.8 198.6h0M458.3 193.2h0M467.2 198.8h0M459.6 190.9h0M468.0 200.7h0M466.5 205.7h0M465.2 203.2h0M462.8 190.5h0M468.7 205.5h0M461.5 187.8h0M466.8 201.0h0M437.4 202.5h0M464.4 192.5h0M473.3 205.0h0M466.3 207.1h0M480.1 171.5h0M478.0 154.9h0M468.2 186.7h0M464.2 207.4h0M462.6 185.2h0M469.5 176.0h0M456.2 198.5h0M462.4 206.8h0M462.2 205.3h0M469.1 205.3h0M471.7 180.0h0M496.6 185.2h0M459.4 166.2h0M481.9 201.5h0M453.2 190.0h0M466.6 200.6h0M460.0 202.5h0M467.7 172.6h0M466.7 207.4h0M465.5 185.2h0M464.5 195.4h0M465.9 204.2h0M469.8 199.8h0M463.7 164.7h0M467.1 206.3h0M469.4 202.4h0M463.0 202.8h0M466.2 196.2h0M462.3 176.8h0M477.5 200.4h0M473.4 187.7h0M467.2 204.5h0M462.8 188.6h0M461.0 200.8h0M472.2 197.1h0M465.3 175.7h0M457.3 201.1h0M464.6 207.1h0M478.4 198.5h0M468.0 200.2h0M468.4 204.6h0M471.7 188.1h0M463.6 204.4h0M465.5 202.5h0M466.0 179.4h0M466.9 202.6h0M470.7 193.9h0M463.7 180.5h0M459.9 183.5h0M472.5 188.9h0M462.0 202.4h0M477.5 175.6h0M461.6 200.1h0M474.0 204.1h0M468.2 196.4h0M465.1 206.0h0M471.4 202.0h0M467.9 196.3h0M468.5 207.0h0M467.1 197.4h0M470.4 175.1h0M468.9 181.3h0M482.4 204.3h0M470.3 204.9h0M468.8 191.7h0M465.1 190.2h0M463.0 180.7h0M461.3 204.8h0M467.2 207.4h0M460.8 206.5h0M468.5 193.7h0M462.6 205.7h0M474.4 180.4h0M459.5 162.5h0M462.8 197.7h0M462.3 189.4h0M467.4 195.1h0M466.8 177.8h0M462.1 195.4h0M466.9 196.0h0M463.4 201.9h0M470.3 202.4h0M463.3 191.3h0M465.4 194.0h0M470.2 186.0h0M461.9 175.9h0M462.0 192.0h0M464.8 198.4h0M462.4 207.6h0M465.7 202.5h0M468.2 204.0h0M470.2 204.3h0M466.6 206.4h0M470.4 206.1h0M463.0 178.1h0M471.1 188.1h0M458.5 185.1h0M467.1 203.9h0M462.6 195.3h0M468.8 206.6h0M465.9 198.1h0M487.2 146.8h0M460.3 183.4h0M463.7 192.1h0M466.2 173.3h0M463.4 197.8h0M474.4 155.5h0M459.8 183.5h0M469.4 131.8h0M454.2 171.4h0M464.5 201.7h0M465.5 195.9h0M465.4 206.9h0M457.5 173.1h0M466.0 179.3h0M490.1 159.8h0M473.6 180.1h0M469.5 186.8h0M471.0 193.2h0M468.8 183.9h0M462.2 177.4h0M443.7 191.1h0M464.5 204.3h0M459.5 198.0h0M460.3 196.1h0M462.9 194.6h0M467.1 197.6h0M463.1 207.5h0M475.0 191.2h0M465.3 198.0h0M466.2 180.9h0M459.8 191.7h0M461.1 167.4h0M470.8 205.1h0M458.5 201.0h0M468.6 203.1h0M470.6 203.0h0M464.7 173.3h0M466.7 199.9h0M464.9 174.9h0M465.8 199.4h0M474.0 173.3h0M464.5 176.1h0M482.6 172.0h0M475.7 197.0h0M464.1 190.4h0M464.7 193.0h0M466.5 207.4h0M471.6 203.4h0M462.7 198.5h0M454.1 202.3h0M483.2 130.9h0M471.7 190.6h0M468.3 186.3h0M467.4 200.5h0M463.9 172.8h0M466.3 206.6h0M466.8 188.4h0M465.3 205.3h0M465.2 204.8h0M464.3 194.6h0M460.7 105.7h0M465.4 171.3h0M459.5 191.4h0M469.8 202.4h0M474.2 195.0h0M466.8 206.5h0M475.0 205.9h0M466.9 188.5h0M467.3 207.4h0M463.1 196.7h0M468.0 163.2h0M456.9 151.2h0M468.3 190.6h0M464.1 192.6h0M474.7 178.4h0M465.5 205.8h0M460.1 187.6h0M468.5 203.2h0M481.6 181.6h0M470.7 193.4h0M470.2 191.2h0M472.7 203.1h0M473.4 190.4h0M460.4 182.0h0M465.8 204.6h0M462.3 200.3h0M465.6 177.4h0M466.1 183.1h0M472.8 168.1h0M468.5 204.5h0M466.1 192.8h0M472.2 204.4h0M467.0 198.4h0M484.0 203.7h0M465.1 202.8h0M452.9 194.6h0M463.4 184.4h0M465.7 191.6h0M471.2 196.8h0M468.6 207.5h0M462.9 186.3h0M465.8 202.4h0M462.7 184.4h0M465.3 199.8h0M472.8 202.4h0M467.7 202.2h0M468.2 205.2h0M465.1 205.9h0M459.5 205.3h0M477.4 191.2h0M463.2 174.9h0M464.0 189.3h0M461.1 205.4h0M469.5 200.9h0M475.6 196.0h0M474.6 162.7h0M466.9 197.6h0M465.6 205.3h0M466.0 199.2h0M483.6 190.2h0M461.8 120.3h0M463.6 181.0h0M479.2 199.3h0M466.0 186.6h0M467.9 197.0h0M460.2 152.8h0M459.3 197.1h0M460.7 194.4h0M464.7 204.2h0M467.5 203.5h0M471.5 170.7h0M461.2 199.6h0M462.7 205.0h0M461.9 196.2h0M464.9 202.8h0M465.9 171.9h0M468.4 182.9h0M472.3 203.1h0M466.0 186.4h0M462.5 204.7h0M481.5 161.5h0M465.0 195.2h0M465.0 193.5h0M469.5 204.0h0M467.6 200.8h0M470.4 202.5h0M460.4 199.1h0M466.3 176.1h0M464.9 202.9h0M495.3 202.0h0M467.8 202.3h0M460.9 194.4h0M460.5 193.0h0M479.8 175.0h0M477.7 204.1h0M467.0 193.4h0M470.7 206.8h0M469.8 185.4h0M464.6 195.2h0M475.3 189.8h0M466.4 199.1h0M454.4 207.0h0M459.1 182.0h0M462.4 191.3h0M465.6 186.8h0M467.6 167.4h0M465.2 151.0h0M473.7 207.5h0M464.6 188.7h0M475.9 201.7h0M471.8 203.4h0M459.8 200.0h0M460.3 185.0h0M494.5 200.8h0M477.0 206.2h0M465.1 194.3h0M466.4 205.6h0M457.5 205.1h0M466.8 203.2h0M468.8 201.4h0M471.4 206.9h0M480.2 195.8h0M465.4 206.2h0M468.0 166.2h0M463.2 201.7h0M462.9 171.3h0M475.4 190.7h0M465.2 198.5h0M464.2 201.3h0M475.1 201.1h0M459.3 178.3h0M464.6 174.4h0M488.0 199.4h0M462.6 178.3h0M455.8 206.1h0M463.9 201.0h0M466.0 187.2h0M475.5 199.7h0M444.1 163.0h0M472.9 199.0h0M475.4 175.8h0M462.5 199.8h0M461.9 185.8h0M465.5 197.5h0M475.9 201.6h0M467.8 181.8h0M470.7 159.1h0M468.3 174.3h0M468.5 204.6h0M466.8 206.8h0M466.2 198.2h0M461.6 165.4h0M469.1 198.8h0M478.0 189.1h0M463.7 177.7h0M466.0 202.6h0M467.0 205.1h0M460.2 196.9h0M464.1 198.1h0M460.4 206.7h0M463.9 205.0h0M469.0 206.3h0M459.2 204.8h0M465.7 197.4h0M457.9 205.6h0M464.8 195.7h0M467.0 190.5h0M459.6 195.7h0M472.9 154.0h0M464.2 147.8h0M461.6 196.4h0M466.9 198.6h0M460.4 162.1h0M451.0 203.0h0M471.3 175.3h0M466.8 181.2h0M463.1 194.9h0M466.0 203.2h0M461.7 195.4h0M474.2 205.8h0M475.1 202.9h0M464.3 197.8h0M474.4 205.2h0M466.5 189.5h0M478.0 198.3h0M471.6 200.1h0M470.8 166.8h0M463.6 184.8h0M468.3 207.3h0M465.5 187.4h0M466.4 206.0h0M464.0 156.7h0M466.9 184.0h0M461.3 182.7h0M464.3 202.1h0M460.4 182.8h0M467.9 198.5h0M462.6 167.6h0M459.7 198.1h0M480.6 195.6h0M453.6 194.8h0M472.2 203.6h0M474.4 189.8h0M467.3 201.9h0M467.6 203.9h0M462.7 183.5h0M466.0 186.9h0M460.1 199.2h0M482.0 178.6h0M467.2 199.1h0M471.0 201.6h0M465.7 169.5h0M463.1 198.0h0M466.0 194.9h0M465.6 196.1h0M470.1 206.5h0M462.7 154.1h0M459.0 178.8h0M472.6 165.0h0M467.2 199.4h0M465.3 205.1h0M468.3 197.0h0M449.6 148.8h0M478.6 195.9h0M467.9 170.0h0M461.8 165.9h0M459.2 187.3h0M472.3 204.9h0M465.7 201.4h0M461.4 207.3h0M463.4 195.2h0M468.5 178.9h0M462.6 190.3h0M475.8 165.5h0M457.1 192.0h0M472.3 199.0h0M454.7 200.4h0M465.5 207.1h0M470.1 191.0h0M462.4 166.1h0M468.7 205.1h0M465.7 177.9h0M481.7 188.4h0M472.4 174.5h0M463.6 201.8h0M469.7 205.5h0M465.5 181.1h0M487.5 198.3h0M507.6 144.3h0M457.9 201.2h0M476.5 174.7h0M470.6 187.8h0M467.6 197.5h0M464.5 194.4h0M488.6 203.2h0M458.2 149.6h0M472.2 181.0h0M472.7 180.1h0M466.5 191.4h0M473.9 204.8h0M469.6 207.0h0M466.4 207.0h0M461.2 178.9h0M461.3 180.6h0M474.3 186.3h0M473.0 198.6h0M469.9 204.5h0M471.1 196.1h0M471.7 201.1h0M462.7 199.4h0M461.2 191.0h0M474.2 197.0h0M471.2 183.3h0M459.3 187.1h0M466.4 198.5h0M471.3 190.7h0M488.3 189.3h0M475.6 174.5h0M465.1 205.4h0M470.4 196.4h0M466.6 205.1h0M472.3 198.7h0M474.1 163.2h0M469.7 177.9h0M463.7 190.6h0M469.4 177.5h0M454.3 189.7h0M464.8 206.1h0M490.2 137.9h0M462.7 201.8h0M461.1 202.3h0M477.3 184.4h0M469.8 163.4h0M466.6 189.1h0M472.6 201.4h0M464.0 185.7h0M462.3 196.0h0M466.7 193.5h0M461.7 205.7h0M465.2 199.3h0M475.0 189.5h0M461.6 191.7h0M469.9 172.2h0M466.6 203.7h0M481.1 179.3h0M461.4 170.5h0M469.7 188.5h0M454.1 200.6h0M468.1 196.7h0M462.5 198.4h0M467.3 202.5h0M460.1 202.3h0M451.0 180.6h0M472.5 190.8h0M467.7 181.1h0M463.4 206.8h0M469.4 201.1h0M469.5 187.4h0M471.3 204.3h0M465.4 198.9h0M461.3 181.6h0M466.1 184.5h0M475.0 206.1h0M466.9 200.0h0M472.2 179.2h0M464.0 204.8h0M470.6 191.5h0M469.4 207.5h0M475.8 197.5h0M444.9 132.7h0M461.2 192.1h0M469.4 200.8h0M465.7 193.4h0M471.5 200.5h0M460.9 167.2h0M470.3 199.9h0M466.3 181.9h0M467.2 204.2h0M466.2 203.6h0M480.2 172.6h0M462.4 159.1h0M468.5 200.7h0M466.2 201.5h0M466.1 205.6h0M444.4 189.7h0M460.7 145.8h0M468.9 202.8h0M470.0 198.8h0M451.0 206.8h0M470.3 187.3h0M468.2 158.5h0M474.2 205.5h0M465.0 189.9h0M468.7 163.3h0M461.8 147.1h0M467.9 200.0h0M467.3 190.2h0M470.7 202.5h0M468.9 199.1h0M475.1 182.6h0M471.5 199.1h0M463.2 191.8h0M465.5 200.8h0M463.6 183.7h0M466.2 187.2h0M459.5 177.3h0M462.0 173.3h0M460.0 192.1h0M468.4 199.3h0M459.2 198.5h0M469.0 179.3h0M462.3 191.5h0M466.7 193.5h0M471.6 181.6h0M462.5 199.5h0M473.5 189.2h0M467.3 168.1h0M465.7 201.1h0M475.1 177.7h0M470.3 189.8h0M467.5 203.2h0M465.1 172.5h0M464.9 197.4h0M469.0 198.6h0M467.7 185.3h0M464.4 170.5h0M469.8 192.2h0M468.1 182.7h0M470.4 191.3h0M466.4 174.1h0M494.1 192.0h0M473.0 206.2h0M477.7 127.1h0M468.5 198.1h0M467.2 192.7h0M469.3 204.7h0M460.6 203.1h0M469.2 194.1h0M461.2 184.4h0M468.5 206.6h0M479.7 204.2h0M472.5 205.5h0M453.5 165.7h0M431.3 191.7h0M465.7 194.6h0M467.7 186.8h0M464.0 182.0h0M467.8 188.5h0M467.8 177.5h0M463.2 206.8h0M475.1 205.8h0M466.0 199.5h0M467.0 198.1h0M463.4 207.4h0M473.7 195.7h0M466.9 203.0h0M466.0 193.0h0M462.9 179.4h0M465.6 165.5h0M465.3 204.7h0M461.1 202.3h0M463.8 189.9h0M473.7 203.8h0M472.3 189.8h0M466.8 203.4h0M460.6 199.1h0M466.2 202.0h0M471.0 198.8h0M466.3 206.9h0M464.4 183.3h0M469.3 205.3h0M472.4 199.6h0M463.8 201.4h0M453.3 207.3h0M463.7 149.9h0M460.2 185.2h0M429.4 202.1h0M465.9 203.6h0M465.7 183.9h0M464.3 194.8h0M466.8 205.0h0M469.8 207.1h0M464.1 207.1h0M467.0 180.9h0M464.8 191.1h0M471.5 193.2h0M472.1 195.3h0M478.3 205.0h0M466.9 195.2h0M464.6 186.7h0M467.6 199.8h0M476.4 203.5h0M466.2 199.1h0M468.9 206.3h0M481.0 207.3h0M464.0 202.6h0M461.9 205.6h0M464.6 166.0h0M472.4 198.3h0M456.2 143.9h0M466.9 185.3h0M482.7 200.1h0M466.8 201.2h0M467.3 204.4h0M466.8 204.6h0M459.0 185.4h0M473.3 193.7h0M473.0 203.2h0M471.0 180.9h0M471.6 205.4h0M466.7 191.0h0M462.0 186.0h0M465.4 204.7h0M463.0 207.3h0M473.0 193.1h0M469.4 183.0h0M466.0 188.4h0M466.1 204.6h0M457.8 179.6h0M462.9 203.1h0M466.0 187.6h0M462.8 183.9h0M464.3 205.7h0M465.9 181.8h0M483.9 206.6h0M467.0 193.7h0M473.6 207.5h0M466.0 202.3h0M468.7 204.5h0M477.5 197.2h0M469.0 207.1h0M468.2 201.9h0M469.7 193.5h0M469.1 158.7h0M478.0 179.3h0M473.4 205.1h0M466.0 206.6h0M463.9 192.4h0M462.1 193.9h0M474.4 176.5h0M487.7 149.7h0M469.4 205.1h0M469.3 204.4h0M464.1 205.5h0M464.3 186.9h0M466.2 205.6h0M466.4 207.2h0M465.9 203.7h0M466.0 189.5h0M478.3 190.9h0M463.3 195.8h0M466.5 206.1h0M472.3 195.8h0M471.9 193.1h0M472.4 160.0h0M467.8 188.4h0M463.5 181.1h0M459.3 194.8h0M474.4 194.9h0M465.5 179.7h0M468.8 165.7h0M458.7 199.8h0M469.7 183.4h0M468.0 200.6h0M462.9 198.0h0M466.6 205.2h0M478.0 184.8h0M479.0 207.1h0M463.6 204.7h0M465.0 195.6h0M458.3 189.6h0M467.3 180.9h0M465.0 198.0h0M461.3 178.8h0M475.3 189.9h0M473.7 160.6h0M463.0 200.7h0M450.2 198.9h0M466.5 201.0h0M472.9 204.7h0M465.1 197.4h0M479.9 190.7h0M465.4 184.1h0M475.2 196.5h0M464.9 193.5h0M465.8 193.6h0M467.6 185.1h0M471.1 179.9h0M471.2 203.7h0M467.1 207.2h0M472.9 200.7h0M466.6 199.0h0M466.1 177.5h0M463.2 193.8h0M472.7 206.6h0M466.6 206.9h0M469.2 163.2h0M465.2 204.7h0M467.8 181.5h0M472.4 206.6h0M483.5 182.2h0M471.0 203.2h0M465.7 206.9h0M472.3 155.4h0M464.6 196.9h0M467.0 193.3h0M464.3 206.6h0M465.5 186.6h0M462.7 141.2h0M464.3 205.2h0M470.7 198.9h0M473.8 196.3h0M465.2 199.7h0M464.8 205.9h0M462.9 184.8h0M474.9 184.0h0M464.5 207.4h0M471.2 196.4h0M465.0 202.9h0M470.7 197.8h0M475.0 155.3h0M465.7 190.8h0M468.0 198.7h0M470.0 205.1h0M463.8 200.5h0M460.5 199.9h0M465.7 202.6h0M466.7 192.8h0M466.6 204.0h0M464.0 202.1h0M469.0 167.5h0M465.4 202.1h0M470.8 205.7h0M469.7 206.6h0M470.1 193.7h0M470.7 171.7h0M466.3 198.0h0M486.9 168.2h0M479.4 198.1h0M459.8 202.6h0M470.2 198.7h0M468.9 201.4h0M463.1 202.7h0M470.0 195.0h0M474.8 184.5h0M467.0 203.5h0M467.9 196.1h0M470.2 201.5h0M477.3 191.5h0M464.8 205.9h0M463.1 191.8h0M466.3 198.9h0M464.0 199.8h0M469.3 196.7h0M471.1 203.7h0M464.1 185.2h0M479.2 160.3h0M466.5 175.8h0M448.1 193.1h0M474.4 201.6h0M472.2 175.7h0M470.8 192.8h0M465.2 199.7h0M463.8 180.7h0M474.5 200.1h0M467.1 200.3h0M466.1 182.5h0M463.2 205.7h0M464.7 206.7h0M466.9 206.4h0M465.4 182.3h0M466.5 188.4h0M469.5 197.2h0M473.3 204.1h0M461.1 184.1h0M469.8 200.3h0M477.5 182.3h0M464.4 181.8h0M457.2 207.5h0M464.8 199.1h0M463.1 201.3h0M463.9 166.4h0M458.2 186.9h0M462.6 171.7h0M464.6 183.8h0M447.5 173.3h0M473.4 170.4h0M466.5 203.1h0M469.9 185.7h0M464.6 205.7h0M470.9 188.2h0M459.9 187.2h0M464.6 192.1h0M462.8 198.3h0M462.7 195.9h0M468.1 189.6h0M466.7 189.2h0M464.8 201.8h0M460.0 188.0h0M471.6 201.4h0M474.5 195.9h0M468.9 183.2h0M472.3 202.8h0M462.7 197.1h0M454.5 199.9h0M471.1 163.8h0M464.7 194.3h0M466.7 196.2h0M473.3 192.5h0M459.6 190.8h0M466.1 173.2h0M465.9 195.7h0M464.4 203.3h0M479.7 198.4h0M463.5 187.6h0M462.2 179.5h0M463.6 190.8h0M473.4 187.9h0M465.6 179.3h0M475.7 192.4h0M474.1 190.0h0M465.8 196.9h0M464.7 204.4h0M469.9 190.1h0M456.0 200.9h0M463.6 177.4h0M452.3 183.1h0M464.6 205.0h0M469.0 202.6h0M466.3 201.9h0M469.1 204.2h0M464.4 205.7h0M465.9 206.5h0M468.4 202.2h0M465.5 206.3h0M462.0 185.2h0M466.4 195.0h0M462.7 179.3h0M471.7 169.3h0M470.1 191.8h0M465.2 189.2h0M470.3 199.8h0M471.0 192.3h0M465.4 175.9h0M463.2 195.6h0M462.6 188.7h0M466.3 203.1h0M464.7 201.2h0M475.2 206.8h0M464.8 207.0h0M462.1 198.2h0M463.9 184.7h0M469.3 197.8h0M464.2 187.0h0M457.2 196.5h0M460.1 202.9h0M479.5 202.1h0M469.5 194.3h0M474.2 187.4h0M450.0 147.5h0M475.1 205.0h0M468.9 204.5h0M473.0 199.1h0M458.7 204.0h0M466.8 179.6h0M472.3 200.5h0M469.0 186.6h0M468.9 204.2h0M481.5 192.0h0M464.3 195.1h0M471.2 190.4h0M467.9 193.1h0M471.7 205.3h0M473.7 207.1h0M469.9 185.1h0M454.1 203.8h0M466.7 206.9h0M468.9 196.4h0M468.3 198.9h0M444.7 204.3h0M462.6 200.6h0M469.1 197.0h0M470.4 205.7h0M470.8 197.7h0M460.1 203.5h0M469.7 206.1h0M471.2 188.1h0M468.7 204.5h0M465.3 179.1h0M467.5 197.1h0M471.2 200.4h0M456.6 205.0h0M464.9 188.0h0M480.9 207.1h0M472.4 202.7h0M471.9 206.2h0M476.4 184.3h0M479.1 197.3h0M466.4 194.1h0M463.3 206.9h0M466.7 204.1h0M464.0 176.8h0M460.6 206.0h0M468.7 190.3h0M459.5 194.8h0M501.5 158.0h0M469.3 196.1h0M469.5 205.9h0M465.3 194.5h0M460.8 149.2h0M456.1 204.7h0M447.5 194.7h0M464.7 168.6h0M470.9 201.5h0M457.0 178.8h0M466.5 199.2h0M473.9 192.8h0M456.2 183.8h0M463.8 193.4h0M469.9 187.0h0M462.5 194.7h0M466.9 198.5h0M466.4 195.9h0M472.3 158.3h0M443.7 198.0h0M471.0 206.6h0M465.1 204.9h0M463.1 192.9h0M463.7 203.2h0M472.6 177.4h0M469.2 201.8h0M464.8 178.1h0M457.3 164.6h0M466.4 200.6h0M465.5 190.0h0M466.4 196.3h0M463.6 156.5h0M467.8 182.3h0M473.1 163.6h0M465.8 206.3h0M465.6 170.8h0M468.1 206.2h0M468.8 162.1h0M467.5 180.3h0M470.3 201.8h0M466.0 199.8h0M470.9 156.7h0M464.8 172.6h0M465.8 189.1h0M470.9 190.1h0M474.3 197.0h0M500.5 202.7h0M463.9 200.9h0M466.8 206.4h0M473.7 189.0h0M463.2 200.6h0M467.7 193.9h0M479.0 186.8h0M470.6 196.8h0M461.0 159.2h0M465.1 201.0h0M473.4 197.0h0M466.8 185.0h0M479.1 148.7h0M462.7 206.4h0M461.5 200.4h0M449.8 154.8h0M470.9 203.6h0M462.0 169.9h0M437.3 194.3h0M464.9 171.5h0M467.8 206.2h0M462.2 200.0h0M471.3 201.2h0M467.3 189.5h0M481.4 188.5h0M473.0 160.5h0M461.4 205.4h0M465.1 173.1h0M473.7 199.2h0M459.4 180.8h0M475.2 167.2h0M472.4 155.4h0M467.6 188.6h0M471.4 170.9h0M462.4 204.6h0M465.1 199.2h0M467.5 178.6h0M461.6 145.7h0M465.4 194.7h0M465.7 204.7h0M466.9 183.8h0M465.1 198.3h0M474.1 183.4h0M455.4 207.1h0M466.9 183.8h0M462.3 180.8h0M488.9 199.3h0M465.5 186.4h0M472.7 205.1h0M473.0 203.0h0M479.2 201.3h0M490.4 206.8h0M467.2 193.2h0M480.0 153.3h0M477.1 187.9h0M468.9 184.0h0M477.3 178.1h0M461.8 191.9h0M471.5 159.9h0M456.8 196.6h0M470.3 175.2h0M467.9 204.3h0M470.2 170.2h0M468.0 167.3h0M465.1 198.5h0M467.9 203.9h0M461.6 203.4h0M474.4 205.1h0M466.5 194.5h0M479.8 183.9h0M480.0 144.3h0M466.0 206.6h0M461.6 198.6h0M475.9 206.6h0M470.6 204.6h0M472.5 200.6h0M455.3 203.0h0M459.3 177.5h0M472.8 205.8h0M469.2 204.9h0M465.7 195.0h0M466.4 193.5h0M477.0 195.6h0M464.4 198.0h0M478.6 177.0h0M461.0 206.7h0M463.6 189.8h0M462.2 198.9h0M464.5 174.5h0M463.8 207.6h0M470.0 206.4h0M470.6 202.8h0M469.7 204.7h0M461.3 178.6h0M467.7 199.8h0M475.9 177.6h0M464.7 201.9h0M468.2 201.7h0M467.0 189.6h0M472.4 183.2h0M464.3 204.7h0M459.0 206.6h0M457.0 177.3h0M463.3 207.5h0M470.2 198.0h0M466.9 188.4h0M464.9 195.3h0M474.6 161.0h0M467.0 196.1h0M458.8 198.9h0M465.5 196.3h0M463.2 148.9h0M457.0 202.5h0M465.3 195.5h0M466.8 177.3h0M474.2 204.5h0M468.4 199.5h0M459.9 141.2h0M461.6 193.4h0M474.0 203.0h0M467.5 200.2h0M471.3 191.2h0M458.2 203.7h0M472.9 194.8h0M478.3 176.4h0M479.9 173.8h0M466.1 205.8h0M471.9 184.7h0M463.8 198.6h0M467.1 183.8h0M461.5 188.2h0M472.4 188.4h0M453.3 135.4h0M460.0 166.2h0M475.7 202.1h0M473.2 185.7h0M466.3 193.7h0M461.5 199.4h0M469.3 196.1h0M461.9 205.7h0M465.2 203.4h0M465.2 205.4h0M481.4 187.3h0M467.4 207.4h0M464.5 206.8h0M471.2 200.5h0M475.0 203.9h0M479.3 178.6h0M470.8 207.1h0M477.1 179.5h0M463.9 203.7h0M477.2 203.1h0M470.6 198.1h0M467.7 192.1h0M470.1 185.2h0M473.1 194.9h0M461.3 186.5h0M469.9 190.3h0M465.4 207.5h0M465.4 190.6h0M473.1 205.2h0M465.8 193.9h0M469.8 205.1h0M466.7 201.7h0M465.5 205.0h0M464.6 202.1h0M455.1 199.4h0M466.2 205.6h0M465.7 200.7h0M466.7 204.5h0M459.1 200.9h0M465.4 194.4h0M458.0 186.2h0M466.8 188.3h0M467.5 204.5h0M473.8 184.6h0M471.0 186.5h0M468.2 207.2h0M463.0 200.9h0M476.4 189.0h0M459.1 201.4h0M462.1 193.8h0M473.2 161.0h0M472.5 205.9h0M481.9 206.6h0M460.3 192.6h0M467.4 197.2h0M467.5 195.3h0M471.1 194.4h0M462.3 204.7h0M471.5 189.0h0M476.3 207.4h0M465.7 198.3h0M471.3 204.4h0M466.2 177.2h0M473.8 179.1h0M462.6 187.7h0M468.1 205.3h0M466.0 203.8h0M465.9 201.0h0M471.3 178.4h0M459.6 195.7h0M467.7 172.7h0M468.9 196.0h0M486.6 177.0h0M466.0 200.8h0M463.4 194.3h0M469.8 198.7h0M473.0 193.9h0M481.6 198.0h0M463.5 192.8h0M483.4 187.0h0M457.4 206.8h0M468.0 196.7h0M460.4 175.1h0M470.9 189.8h0M469.4 203.2h0M466.6 197.3h0M464.5 195.1h0M464.8 198.1h0M472.8 202.1h0M465.7 207.2h0M466.6 174.3h0M466.5 206.5h0M492.1 194.5h0M465.3 199.4h0M463.0 193.0h0M473.1 194.4h0M469.2 191.8h0M472.3 203.0h0M473.2 195.3h0M470.3 203.2h0M476.0 168.9h0M470.7 145.3h0M464.4 183.3h0M470.8 182.8h0M476.1 184.3h0M466.6 193.7h0M482.9 200.7h0M454.6 205.9h0M465.9 207.4h0M465.0 200.1h0M463.4 205.8h0M464.7 196.4h0M469.5 202.6h0M487.1 205.6h0M473.2 201.3h0M463.9 192.2h0M466.4 204.1h0M469.3 203.2h0M478.2 207.2h0M464.8 204.2h0M471.3 198.4h0M453.1 182.5h0M456.4 182.7h0M464.8 201.7h0M485.9 175.2h0M464.6 201.7h0M462.8 184.8h0M474.8 176.9h0M473.0 205.1h0M460.7 172.4h0M464.8 204.9h0M469.9 199.1h0M469.3 185.1h0M470.2 183.0h0M472.5 198.6h0M462.2 184.6h0M474.8 198.9h0M481.7 199.3h0M464.9 145.2h0M464.2 184.8h0M466.7 202.3h0M482.7 173.9h0M464.7 202.7h0M453.7 203.3h0M472.8 204.2h0M484.4 205.5h0M470.6 190.3h0M465.3 206.7h0M465.4 154.6h0M481.4 159.3h0M461.9 198.7h0M466.9 160.5h0M467.3 196.5h0M467.7 187.6h0M457.8 201.2h0M466.8 193.3h0M463.7 188.6h0M462.8 200.5h0M473.5 207.1h0M472.9 182.9h0M465.8 161.9h0M462.3 176.3h0M458.6 206.1h0M463.6 202.3h0M472.7 181.1h0M464.9 203.1h0M477.1 174.5h0M456.8 195.3h0M471.9 179.2h0M463.1 186.1h0M468.2 193.9h0M480.4 195.2h0M464.5 205.1h0M471.3 195.2h0M476.4 206.7h0M467.4 196.4h0M464.8 194.5h0M465.4 186.5h0M465.1 191.4h0M467.5 207.1h0M465.5 197.1h0M472.1 178.7h0M477.5 173.0h0M456.4 199.9h0M473.1 197.3h0M468.9 196.0h0M459.3 199.3h0M467.6 163.3h0M474.8 160.6h0M465.3 185.9h0M469.3 185.9h0M463.2 201.9h0M470.1 205.2h0M461.0 198.1h0M463.1 203.6h0M463.9 203.7h0M469.3 191.9h0M467.4 198.0h0M473.7 203.9h0M463.6 206.7h0M463.6 204.0h0M476.5 192.6h0M468.0 183.8h0M462.4 196.8h0M462.4 180.9h0M469.4 202.4h0M469.3 185.0h0M462.8 193.4h0M464.0 192.0h0M466.4 207.3h0M471.9 192.7h0M465.7 200.9h0M473.6 206.8h0M473.3 202.5h0M479.2 201.9h0M466.6 204.4h0M469.0 192.1h0M460.7 183.1h0M466.9 182.3h0M469.3 168.6h0M461.0 163.6h0M465.4 205.1h0M467.8 206.2h0M465.1 204.3h0M459.7 182.1h0M466.3 202.4h0M458.0 197.3h0M469.1 198.4h0M464.4 192.0h0M464.9 198.8h0M472.2 202.5h0M463.0 195.2h0M470.5 193.3h0M467.8 193.5h0M468.7 190.7h0M471.2 191.4h0M467.2 184.1h0M462.1 201.4h0M468.6 203.8h0M466.8 191.8h0M466.5 202.3h0M468.9 196.2h0M473.0 187.4h0M472.2 187.6h0M463.6 205.5h0M467.0 204.5h0M478.8 206.6h0M465.2 203.5h0M467.4 200.0h0M451.3 158.4h0M472.0 163.0h0M468.9 204.6h0M463.0 173.7h0M459.8 172.3h0M471.0 206.1h0M463.9 192.6h0M471.1 166.4h0M479.3 182.3h0M467.9 183.1h0M472.4 195.5h0M472.1 164.1h0M465.4 196.2h0M466.0 188.1h0M473.6 193.6h0M459.8 198.6h0M462.5 187.5h0M463.2 188.8h0M464.6 189.0h0M478.6 206.8h0M476.7 205.2h0M466.2 188.4h0M461.0 202.4h0M464.3 204.8h0M470.0 200.9h0M467.5 201.5h0M481.2 164.7h0M463.3 204.0h0M469.5 207.4h0M471.0 180.5h0M469.1 182.0h0M460.1 194.6h0M460.3 191.3h0M470.0 171.7h0M463.6 176.9h0M478.4 207.0h0M472.6 180.6h0M469.6 188.1h0M467.3 194.9h0M462.7 162.3h0M465.0 201.1h0M459.5 194.8h0M465.0 204.4h0M457.9 183.5h0M450.4 155.7h0M467.7 197.5h0M467.3 207.6h0M460.6 151.5h0M480.8 202.6h0M476.6 193.6h0M469.1 201.7h0M476.8 190.0h0M464.0 204.5h0M458.2 197.7h0M465.4 188.3h0M470.6 188.9h0M479.0 200.3h0M473.7 186.1h0M458.2 187.9h0M463.7 206.5h0M470.8 181.9h0M457.7 201.2h0M468.9 176.3h0M469.0 179.9h0M475.5 201.3h0M467.7 191.1h0M467.7 194.1h0M464.0 182.6h0M483.0 206.1h0M463.7 201.9h0M466.9 183.8h0M467.7 190.1h0M462.7 185.1h0M459.8 203.6h0M464.5 199.4h0M467.3 188.3h0M468.5 197.0h0M455.5 203.2h0M463.5 183.6h0M464.8 191.7h0M469.6 192.2h0M465.7 197.6h0M478.2 154.4h0M463.0 188.8h0M461.6 180.8h0M466.6 173.7h0M464.3 189.5h0M469.5 182.6h0M463.3 200.5h0M473.7 204.4h0M469.5 205.2h0M457.3 206.7h0M473.7 170.2h0M475.4 162.2h0M466.7 206.8h0M474.3 167.1h0M460.3 172.2h0M476.3 180.1h0M468.2 199.2h0M465.5 203.7h0M466.2 190.0h0M469.8 191.1h0M464.6 206.6h0M464.4 199.3h0M466.5 194.4h0M474.3 191.0h0M460.7 190.0h0M471.4 184.3h0M463.5 201.7h0M466.1 176.3h0M467.1 197.3h0M467.4 203.3h0M470.3 196.1h0M470.7 193.6h0M460.0 199.8h0M470.8 161.0h0M451.3 165.2h0M461.3 167.4h0M467.3 186.5h0M476.4 192.2h0M465.4 187.9h0M468.8 189.5h0M472.1 201.3h0M464.8 203.7h0M461.5 202.2h0M494.5 201.6h0M474.5 155.1h0M465.6 188.9h0M469.6 192.0h0M462.4 199.5h0M468.9 193.3h0M464.2 198.7h0M475.5 203.6h0M445.2 198.2h0M468.3 182.8h0M477.5 206.0h0M457.5 204.9h0M476.4 195.0h0M464.3 202.6h0M471.8 161.8h0M468.0 198.9h0M462.7 198.7h0M463.7 206.5h0M466.4 202.0h0M468.1 195.5h0M473.5 206.8h0M487.4 173.5h0M466.5 200.5h0M456.5 190.2h0M464.3 192.5h0M462.7 206.1h0M466.8 204.4h0M460.7 189.8h0M464.7 200.8h0M464.1 185.4h0M463.9 197.5h0M472.8 178.7h0M468.2 203.4h0M468.5 173.9h0M468.2 162.2h0M454.7 139.8h0M467.6 204.4h0M471.1 201.2h0M471.0 200.6h0M451.0 206.0h0M462.1 201.6h0M471.8 152.8h0M470.5 157.4h0M466.6 169.4h0M473.1 169.9h0M464.4 184.4h0M462.2 188.1h0M469.6 197.6h0M471.3 194.5h0M463.5 202.4h0M475.0 192.5h0M466.1 207.5h0M471.9 202.0h0M464.2 192.7h0M462.0 187.0h0M470.2 203.3h0M463.5 159.5h0M472.5 205.3h0M469.8 199.4h0M464.2 205.3h0M477.0 188.8h0M469.2 206.2h0M458.9 160.1h0M466.4 202.0h0M463.5 170.0h0M468.7 205.9h0M477.2 187.6h0M472.4 199.3h0M465.4 187.3h0M458.2 200.1h0M473.1 194.2h0M463.7 184.3h0M472.2 163.1h0M464.0 206.1h0M466.3 194.7h0M466.0 189.9h0M472.2 203.1h0M468.4 201.6h0M463.0 204.3h0M466.5 203.0h0M474.3 205.5h0M474.0 203.5h0M465.7 199.9h0M464.1 203.3h0M467.0 206.0h0M477.8 177.6h0M466.3 191.7h0M473.4 194.6h0M465.1 201.1h0M467.5 181.8h0M463.8 197.6h0M469.2 191.3h0M486.9 176.8h0M475.2 181.9h0M468.5 206.9h0M474.8 182.2h0M467.3 181.8h0M460.8 190.5h0M479.0 165.4h0M467.2 186.9h0M472.9 205.9h0M461.4 191.6h0M471.0 197.6h0M466.4 196.1h0M467.9 204.5h0M464.4 201.8h0M466.5 201.0h0M473.6 189.9h0M466.2 195.9h0M466.8 173.1h0M467.0 196.9h0M463.2 204.3h0M461.6 192.0h0M465.6 162.3h0M494.5 202.1h0M466.4 189.6h0M466.1 189.0h0M471.7 205.9h0M463.5 196.7h0M470.4 206.6h0M468.0 207.4h0M468.0 202.5h0M465.4 196.9h0M471.7 155.4h0M458.6 200.9h0M461.8 192.0h0M469.2 199.8h0M458.3 170.1h0M467.7 172.9h0M467.5 201.2h0M459.7 197.6h0M464.5 174.2h0M473.6 199.4h0M470.2 200.7h0M470.3 197.2h0M464.7 201.5h0M472.9 171.7h0M465.5 206.7h0M465.3 174.9h0M475.6 165.5h0M481.5 198.3h0M473.6 204.3h0M463.1 204.8h0M464.3 193.6h0M463.3 191.1h0M467.0 201.4h0M472.0 169.7h0M477.0 200.6h0M472.4 148.1h0M472.4 198.4h0M487.2 197.9h0M453.8 191.3h0M493.6 184.0h0M468.6 204.5h0M469.7 199.8h0M467.5 185.2h0M469.4 174.5h0M465.2 201.3h0M466.3 206.8h0M467.8 203.4h0M481.8 181.6h0M466.3 170.7h0M468.8 199.2h0M463.6 166.1h0M463.7 203.5h0M469.9 166.1h0M466.8 187.5h0M456.9 168.2h0M466.2 148.6h0M466.8 182.9h0M462.5 185.8h0M466.4 201.9h0M462.4 195.7h0M478.0 205.5h0M468.7 191.5h0M465.3 195.8h0M465.9 200.4h0M469.0 195.4h0M455.2 191.0h0M477.8 202.6h0M473.7 203.9h0M466.0 205.2h0M468.6 180.8h0M466.2 194.0h0M468.0 193.7h0M462.9 204.2h0M476.0 182.9h0M466.0 184.4h0M471.8 201.8h0M474.6 204.8h0M466.4 204.1h0M464.5 194.1h0M467.1 190.3h0M464.4 203.2h0M466.4 193.5h0M468.5 181.3h0M483.3 133.6h0M466.8 206.5h0M468.9 205.4h0M461.2 197.6h0M473.1 200.2h0M473.4 197.6h0M458.6 190.1h0M467.8 187.2h0M466.9 196.0h0M456.8 187.1h0M489.1 197.7h0M464.1 195.1h0M477.6 193.6h0M478.6 203.1h0M466.3 202.2h0M472.7 204.4h0M468.3 178.8h0M459.7 194.5h0M463.5 199.5h0M454.3 202.0h0M460.9 194.9h0M468.5 194.0h0M462.4 207.2h0M472.1 193.5h0M457.3 207.1h0M469.6 194.7h0M459.6 184.4h0M465.1 190.4h0M463.7 202.4h0M464.5 195.7h0M464.7 203.2h0M471.7 202.5h0M465.2 196.5h0M473.5 202.9h0M457.6 184.9h0M473.0 180.3h0M475.9 203.4h0M473.4 162.3h0M459.4 161.4h0M456.8 168.1h0M472.2 191.1h0M462.3 178.5h0M468.4 201.6h0M473.2 173.4h0M469.6 194.3h0M467.4 198.4h0M465.6 206.6h0M479.8 188.7h0M460.0 168.9h0M468.1 203.9h0M468.8 178.8h0M473.7 203.2h0M468.4 174.2h0M470.4 135.0h0M471.8 205.0h0M468.4 200.4h0M473.6 167.9h0M472.2 184.4h0M466.7 203.6h0M458.4 169.1h0M468.3 205.4h0M461.0 170.2h0M461.6 197.2h0M473.0 178.8h0M433.7 197.4h0M466.0 178.1h0M474.3 170.8h0M464.1 190.4h0M463.8 201.8h0M470.9 196.7h0M462.5 197.5h0M468.8 196.2h0M465.5 198.0h0M453.1 174.6h0M473.8 194.0h0M465.4 166.0h0M485.4 168.5h0M466.0 182.6h0M471.7 147.3h0M467.6 175.5h0M466.0 192.0h0M465.5 207.2h0M457.3 205.4h0M471.5 202.2h0M471.2 184.6h0M463.2 199.7h0M469.5 178.3h0M466.5 207.4h0M469.5 201.9h0M465.3 192.3h0M467.3 194.3h0M460.8 191.5h0M465.3 205.0h0M471.5 199.6h0M479.2 169.4h0M471.2 167.3h0M471.6 203.7h0M473.2 186.6h0M472.2 193.2h0M477.2 199.1h0M471.7 186.7h0M468.9 202.7h0M469.7 201.6h0M467.2 163.5h0M465.4 198.5h0M462.4 206.4h0M477.4 200.5h0M464.4 181.9h0M463.9 185.3h0M466.3 205.0h0M466.4 203.3h0M467.6 184.8h0M465.9 195.9h0M457.3 189.2h0M471.3 204.1h0M491.9 161.4h0M463.5 146.8h0M466.5 207.6h0M471.7 182.4h0M454.4 182.7h0M463.7 204.6h0M466.3 205.7h0M467.2 198.7h0M460.6 178.7h0M458.9 183.5h0M462.5 178.7h0M454.8 144.9h0M472.6 193.8h0M459.7 198.3h0M457.1 173.5h0M456.4 142.4h0M490.0 179.0h0M468.9 169.1h0M464.3 165.1h0M464.8 184.4h0M457.9 184.8h0M467.4 170.2h0M464.1 170.8h0M489.3 149.9h0M476.6 194.9h0M473.2 200.1h0M461.9 205.9h0M468.7 180.8h0M451.9 181.7h0M476.4 202.4h0M467.3 197.3h0M477.7 157.8h0M473.0 206.5h0M459.5 150.6h0M474.7 197.5h0M470.5 180.3h0M469.8 202.9h0M473.1 174.9h0M468.4 196.9h0M463.7 195.0h0M465.9 192.6h0M460.1 194.6h0M456.0 193.8h0M453.9 185.8h0M463.5 194.5h0M462.1 174.2h0M454.2 173.1h0M462.5 198.0h0M459.5 194.6h0M469.6 198.4h0M474.5 196.7h0M466.7 198.9h0M463.1 185.5h0M472.4 207.3h0M468.5 184.7h0M468.6 184.0h0M468.0 185.8h0M460.2 207.5h0M469.2 204.8h0M455.7 207.1h0M477.9 194.3h0M473.6 204.4h0M481.1 203.7h0M480.7 181.3h0M460.0 197.1h0M462.9 159.7h0M469.1 203.9h0M467.4 189.8h0M471.5 204.4h0M457.1 199.4h0M469.7 197.9h0M457.0 185.6h0M465.7 203.5h0M464.6 181.2h0M465.7 173.2h0M476.7 188.0h0M471.5 200.9h0M464.3 202.1h0M468.1 164.9h0M464.0 206.2h0M467.5 180.3h0M464.8 205.5h0M479.6 197.5h0M450.9 207.3h0M463.6 165.9h0M471.9 198.5h0M468.6 195.1h0M463.6 179.3h0M458.8 202.7h0M477.9 194.7h0M462.8 205.1h0M472.4 204.6h0M476.9 182.8h0M472.2 188.6h0M462.3 184.4h0M467.6 202.6h0M457.4 204.5h0M464.8 203.7h0M464.9 199.0h0M470.1 207.4h0M470.1 205.7h0M455.0 190.3h0M494.5 189.7h0M461.1 170.0h0M473.2 197.4h0M468.1 200.2h0M469.4 202.2h0M470.9 174.4h0M460.9 197.4h0M464.3 201.5h0M469.3 204.2h0M461.7 139.1h0M460.6 195.3h0M465.1 187.1h0M463.8 197.3h0M468.6 197.1h0M459.6 191.8h0M461.5 206.9h0M472.4 199.7h0M466.2 188.0h0M475.3 206.6h0M454.9 189.4h0M472.5 203.4h0M464.5 202.6h0M464.4 173.7h0M468.5 189.6h0M462.9 183.0h0M469.8 206.8h0M460.7 193.4h0M469.6 205.5h0M465.1 199.3h0M457.1 203.1h0M465.9 182.6h0M465.7 191.1h0M468.7 204.3h0M465.5 201.7h0M468.6 206.3h0M454.4 203.3h0M468.1 200.8h0M466.2 200.9h0M471.5 185.5h0M465.9 174.3h0M451.5 198.6h0M474.9 198.7h0M470.8 205.2h0M460.3 184.1h0M470.9 183.7h0M456.7 206.3h0M460.8 195.1h0M465.7 195.3h0M467.2 200.2h0M434.8 126.6h0M465.4 178.8h0M468.5 206.0h0M473.8 172.5h0M466.5 206.3h0M465.7 206.2h0M463.2 196.4h0M462.5 187.1h0M466.6 200.7h0M470.8 206.4h0M463.4 187.5h0M472.9 173.9h0M479.3 206.5h0M464.2 203.2h0M459.7 190.5h0M472.1 204.8h0M469.0 196.6h0M473.3 169.0h0M461.1 190.9h0M478.6 202.5h0M461.2 187.8h0M468.1 200.2h0M470.3 177.9h0M466.6 203.4h0M460.0 180.6h0M467.5 189.0h0M472.8 203.2h0M468.9 179.8h0M468.5 194.1h0M474.2 204.0h0M466.4 200.0h0M471.8 164.4h0M462.7 168.6h0M465.7 203.2h0M459.6 157.7h0M473.3 176.0h0M464.3 160.1h0M457.8 179.5h0M469.4 199.4h0M462.0 187.3h0M462.5 145.1h0M466.3 200.3h0M467.4 198.4h0M470.7 197.2h0M463.9 198.9h0M466.1 199.9h0M468.9 179.7h0M463.4 135.3h0M464.9 191.7h0M478.2 137.6h0M470.6 192.7h0M468.3 204.4h0M475.8 169.7h0M469.1 201.1h0M472.0 199.1h0M465.6 204.8h0M471.7 196.6h0M469.9 201.2h0M456.9 203.0h0M470.9 199.2h0M475.4 180.8h0M465.3 206.4h0M466.7 194.9h0M473.3 181.7h0M455.9 204.8h0M467.4 199.7h0M462.9 190.8h0M465.5 202.5h0M469.1 194.7h0M471.2 200.4h0M459.8 205.3h0M462.0 202.7h0M467.5 206.2h0M472.3 204.4h0M465.1 207.6h0M466.6 193.1h0M470.3 183.2h0M480.5 190.1h0M474.1 150.2h0M468.9 200.3h0M454.4 173.0h0M463.3 205.1h0M469.7 207.5h0M465.4 193.1h0M463.8 202.7h0M467.9 186.0h0M473.2 207.5h0M476.6 206.2h0M467.3 200.7h0M462.5 197.0h0M460.6 140.6h0M470.5 207.2h0M475.5 115.4h0M464.3 206.2h0M465.6 195.1h0M454.0 207.5h0M462.0 191.7h0M468.3 189.3h0M466.8 199.9h0M472.6 202.4h0M466.4 198.4h0M451.1 147.4h0M465.0 177.8h0M463.2 192.3h0M465.5 188.5h0M468.9 200.3h0M457.2 206.9h0M468.6 199.6h0M456.1 198.3h0M462.8 186.9h0M473.2 203.9h0M468.1 204.3h0M460.9 176.7h0M462.2 201.4h0M463.2 204.9h0M464.5 206.3h0M463.0 194.5h0M461.7 191.8h0M460.3 162.3h0M456.0 186.3h0M464.0 166.7h0M470.0 197.0h0M465.3 181.6h0M471.7 205.5h0M469.5 177.8h0M462.4 158.0h0M468.7 205.9h0M461.1 199.1h0M461.8 199.0h0M460.4 200.3h0M473.8 158.2h0M472.0 162.7h0M465.9 188.1h0M470.1 193.5h0M459.0 195.9h0M466.6 202.2h0M490.1 198.6h0M473.5 195.3h0M470.7 203.5h0M463.3 197.5h0M454.5 158.7h0M461.6 195.9h0M452.6 190.4h0M472.8 190.4h0M471.3 180.4h0M471.2 201.6h0M465.6 181.6h0M477.6 172.5h0M472.3 200.4h0M457.9 203.8h0M470.4 206.0h0M484.9 182.2h0M460.4 117.9h0M464.6 197.0h0M456.1 207.3h0M465.9 182.9h0M464.6 189.7h0M464.0 205.8h0M468.1 200.5h0M461.1 199.0h0M474.0 202.3h0M461.1 176.7h0M466.7 194.2h0M465.2 181.4h0M475.4 199.0h0M474.8 200.2h0M477.5 196.4h0M464.3 202.8h0M474.4 175.6h0M461.1 194.6h0M456.4 127.9h0M469.6 183.1h0M471.8 168.3h0M463.0 187.0h0M475.5 205.9h0M480.3 206.0h0M462.3 186.4h0M464.2 197.5h0M471.3 185.5h0M466.2 183.5h0M456.3 195.1h0M473.7 206.4h0M465.0 206.0h0M467.8 205.6h0M469.3 206.4h0M468.4 204.9h0M465.4 175.6h0M460.2 138.0h0M465.3 188.3h0M466.5 182.8h0M469.9 179.4h0M468.6 195.9h0M480.8 206.4h0M472.1 201.1h0M477.8 201.3h0M472.4 194.5h0M461.2 204.9h0M466.2 200.7h0M463.6 207.1h0M472.1 158.3h0M457.1 189.5h0M467.6 200.2h0M469.3 189.0h0M471.5 191.1h0M465.4 190.8h0M471.4 204.2h0M478.9 181.9h0M464.1 202.3h0M474.5 180.6h0M469.9 199.7h0M466.5 198.2h0M466.8 179.3h0M472.6 198.9h0M474.1 176.0h0M467.4 197.9h0M478.9 201.3h0M457.2 184.9h0M466.8 183.1h0M468.3 184.5h0M465.1 197.7h0M475.4 199.3h0M465.3 206.2h0M471.4 167.9h0M470.8 188.4h0M462.1 207.2h0M466.8 197.2h0M461.2 195.0h0M476.3 193.2h0M459.1 197.1h0M468.2 203.2h0M454.3 158.0h0M446.9 194.8h0M464.1 162.9h0M492.0 168.4h0M468.2 191.3h0M471.4 176.5h0M465.0 180.4h0M472.8 193.9h0M462.8 205.2h0M470.8 206.7h0M465.1 195.4h0M463.3 183.2h0M465.7 197.3h0M484.7 189.2h0M466.1 204.5h0M464.3 206.8h0M474.1 135.9h0M460.3 201.7h0M473.0 207.0h0M513.7 185.0h0M467.6 199.6h0M472.0 137.9h0M462.4 202.5h0M467.0 195.7h0M459.4 207.2h0M471.2 206.6h0M461.3 171.4h0M468.4 180.5h0M465.2 199.4h0M456.4 174.7h0M474.1 199.0h0M473.6 203.1h0M468.0 196.8h0M469.1 193.7h0M464.8 207.3h0M460.2 205.2h0M468.8 202.4h0M463.8 200.2h0M472.9 177.0h0M463.2 180.6h0M463.3 200.1h0M463.1 202.4h0M470.8 188.5h0M476.0 197.2h0M469.4 187.5h0M473.9 205.3h0M468.1 194.8h0M463.3 186.1h0M460.0 204.3h0M464.3 192.3h0M464.0 202.7h0M473.5 183.5h0M461.3 198.6h0M469.4 191.0h0M465.3 179.5h0M459.7 200.7h0M470.5 202.7h0M464.0 198.9h0M471.0 194.5h0M465.2 202.5h0M450.0 170.2h0M476.3 147.2h0M471.0 181.5h0M487.0 202.4h0M466.7 197.2h0M467.8 187.5h0M465.2 201.0h0M463.5 189.7h0M481.5 189.6h0M463.5 203.3h0M464.5 207.2h0M470.4 207.4h0M470.2 185.9h0M442.8 198.9h0M453.9 182.1h0M463.6 178.7h0M466.0 182.2h0M473.5 202.3h0M469.4 203.0h0M459.5 193.6h0M469.1 187.7h0M464.9 187.2h0M468.0 188.9h0M462.6 204.1h0M470.0 191.9h0M463.3 182.4h0M469.5 204.7h0M460.7 176.1h0M470.9 206.5h0M458.9 192.0h0M469.0 203.6h0M462.1 196.2h0M473.9 201.5h0M459.6 200.5h0M465.8 198.4h0M470.7 206.4h0M462.9 197.6h0M467.1 197.3h0M472.6 203.3h0M469.4 194.4h0M465.7 190.7h0M467.7 200.2h0M482.3 193.6h0M459.1 178.9h0M462.3 189.7h0M466.3 196.2h0M468.3 204.6h0M466.8 207.1h0M464.1 207.5h0M474.7 166.1h0M458.6 206.0h0M466.4 207.1h0M466.0 192.8h0M466.2 191.1h0M465.8 194.4h0M481.9 168.4h0M462.6 201.1h0M465.7 183.5h0M466.5 180.6h0M466.5 194.4h0M462.5 204.5h0M464.0 162.6h0M465.8 197.5h0M469.4 206.3h0M475.4 205.2h0M458.7 174.8h0M470.5 185.5h0M474.1 150.5h0M471.4 203.4h0M470.3 160.7h0M468.6 199.1h0M466.2 204.6h0M475.7 201.1h0M463.5 204.7h0M462.2 199.1h0M457.9 155.4h0M463.3 177.8h0M470.7 205.6h0M464.3 173.4h0M465.5 189.8h0M464.6 192.6h0M467.9 202.3h0M466.8 207.5h0M464.4 203.2h0M449.9 173.3h0M469.4 195.2h0M466.3 174.4h0M451.6 191.7h0M475.1 199.4h0M472.9 195.7h0M466.1 189.8h0M467.6 192.3h0M465.8 207.6h0M467.2 203.3h0M466.3 171.9h0M471.0 194.9h0M465.4 202.0h0M468.7 207.1h0M456.6 187.4h0M467.3 204.0h0M468.2 202.7h0M462.4 170.4h0M469.1 151.5h0M464.1 163.1h0M467.4 168.2h0M476.0 201.4h0M465.1 152.2h0M468.3 203.0h0M452.9 198.4h0M464.8 206.3h0M463.4 186.8h0M453.0 205.5h0M465.2 206.4h0M465.7 195.5h0M467.5 191.5h0M473.4 196.9h0M466.1 204.2h0M463.1 205.3h0M456.5 199.9h0M465.7 180.2h0M458.6 140.1h0M467.7 204.3h0M472.8 203.6h0M464.4 189.1h0M479.7 186.2h0M463.4 204.9h0M468.2 190.8h0M471.5 175.8h0M469.8 200.3h0M474.9 207.4h0M465.9 199.4h0M473.8 161.9h0M463.7 180.5h0M471.1 188.3h0M471.6 207.3h0M471.3 180.5h0M464.7 187.2h0M458.9 155.6h0M475.6 187.5h0M469.9 204.9h0M462.0 187.0h0M468.6 202.5h0M467.3 207.5h0M467.9 172.7h0M470.5 184.6h0M461.5 190.9h0M475.9 139.3h0M467.6 206.2h0M459.3 207.4h0M464.6 193.8h0M465.1 206.1h0M466.9 181.3h0M465.2 192.0h0M474.8 201.0h0M466.9 186.7h0M465.8 200.7h0M472.1 199.0h0M469.4 207.0h0M489.0 204.2h0M464.0 189.2h0M470.6 198.2h0M468.4 195.3h0M469.3 196.3h0M451.7 197.1h0M458.7 194.4h0M485.3 174.9h0M470.0 183.6h0M465.7 206.8h0M467.2 206.3h0M469.1 200.7h0M457.8 205.9h0M470.3 203.5h0M463.0 199.5h0M464.9 185.2h0M468.2 179.1h0M483.7 206.5h0M468.2 188.5h0M465.1 207.3h0M470.2 147.9h0M470.3 196.7h0M463.9 206.7h0M471.4 156.8h0M467.6 207.6h0M456.6 203.0h0M462.7 186.2h0M469.6 207.2h0M462.7 203.8h0M467.6 185.8h0M469.8 206.2h0M468.1 183.4h0M449.5 205.1h0M472.0 204.7h0M465.5 200.8h0M470.3 196.7h0M466.5 187.7h0M461.7 177.0h0M464.5 193.1h0M451.1 174.7h0M465.4 196.9h0M473.1 198.7h0M464.8 202.4h0M472.3 191.2h0M463.3 193.4h0M466.3 202.4h0M470.2 190.7h0M468.3 168.1h0M477.9 205.5h0M463.5 175.7h0M477.5 158.9h0M456.9 183.3h0M465.5 204.8h0M464.1 202.8h0M464.5 170.6h0M463.7 200.1h0M466.3 205.2h0M470.7 206.5h0M460.0 197.1h0M460.3 205.2h0M471.1 190.1h0M461.7 175.9h0M473.2 185.1h0M480.6 153.3h0M472.8 207.0h0M463.3 207.6h0M465.9 205.7h0M477.3 196.8h0M480.5 193.4h0M469.5 188.5h0M469.7 198.0h0M464.0 172.8h0M465.7 189.3h0M466.1 203.8h0M472.4 168.5h0M478.8 185.7h0M476.5 204.4h0M464.1 203.5h0M457.0 200.4h0M468.2 198.1h0M469.3 207.3h0M459.1 200.6h0M469.6 188.0h0M468.2 179.8h0M464.6 193.3h0M466.9 206.4h0M467.5 177.4h0M462.3 205.2h0M463.4 202.9h0M453.2 177.3h0M463.7 133.8h0M471.1 161.1h0M465.9 196.4h0M460.7 184.1h0M466.6 201.9h0M468.1 197.5h0M470.9 191.2h0M474.2 197.7h0M466.4 202.0h0M444.4 201.8h0M462.6 173.7h0M475.0 184.3h0M454.5 180.2h0M467.6 199.0h0M464.5 206.8h0M465.8 194.7h0M482.6 159.3h0M467.1 191.6h0M470.5 186.6h0M469.9 194.0h0M464.2 207.1h0M471.8 207.0h0M460.8 197.6h0M470.4 202.2h0M473.8 143.9h0M468.1 198.3h0M464.9 199.4h0M463.3 204.6h0M471.8 193.3h0M466.8 192.8h0M474.5 204.9h0M475.1 173.6h0M464.2 206.9h0M483.2 201.6h0M465.4 205.2h0M476.1 205.4h0M466.9 191.8h0M470.1 206.3h0M460.6 202.0h0M468.9 199.6h0M478.5 172.8h0M457.2 195.8h0M467.6 197.8h0M465.8 175.1h0M466.3 188.9h0M470.3 195.1h0M468.2 181.8h0M469.6 183.8h0M465.4 192.0h0M466.0 173.2h0M491.8 187.6h0M455.1 191.9h0M461.5 184.3h0M468.7 181.9h0M467.2 192.8h0M462.4 200.7h0M465.7 188.7h0M473.6 186.1h0M468.9 198.5h0M472.2 167.6h0M465.7 171.6h0M465.0 206.6h0M465.7 197.3h0M475.5 198.8h0M467.5 176.5h0M461.5 137.6h0M467.1 190.3h0M469.9 183.4h0M464.3 206.9h0M464.2 153.5h0M466.7 165.3h0M471.9 125.3h0M464.8 195.3h0M462.3 192.1h0M461.4 187.4h0M468.9 206.9h0M463.7 202.6h0M470.6 179.3h0M453.6 205.5h0M471.1 204.9h0M465.4 163.6h0M467.1 204.6h0M462.6 199.1h0M470.0 203.4h0M465.9 202.1h0M468.7 188.1h0M468.8 205.0h0M463.0 206.5h0M463.3 157.3h0M469.3 200.6h0M465.8 194.7h0M460.5 199.9h0M467.1 206.4h0M465.9 202.1h0M467.5 195.7h0M475.0 201.2h0M464.1 190.6h0M475.4 174.4h0M472.3 173.6h0M465.2 185.2h0M480.6 205.8h0M468.6 193.4h0M468.7 201.3h0M460.8 189.1h0M470.2 204.4h0M466.5 199.8h0M463.6 184.0h0M461.2 157.5h0M465.9 203.3h0M470.7 178.2h0M471.6 203.0h0M497.4 174.3h0M467.6 204.0h0M461.8 201.4h0M456.5 178.4h0M472.1 193.9h0M469.2 200.4h0M467.6 178.5h0M465.6 180.0h0M455.6 178.4h0M454.7 161.2h0M464.7 206.8h0M461.2 181.7h0M471.2 197.4h0M453.9 178.3h0M469.1 185.4h0M462.9 205.6h0M460.5 179.2h0M452.7 162.8h0M462.5 204.6h0M466.9 196.1h0M470.7 193.8h0M468.1 206.5h0M468.1 190.2h0M470.2 203.3h0M466.1 192.1h0M469.7 193.2h0M467.1 202.4h0M459.4 191.9h0M462.4 184.9h0M462.2 205.2h0M465.5 188.4h0M460.3 199.1h0M467.0 199.1h0M466.2 203.7h0M449.5 191.0h0M473.0 200.7h0M465.8 190.5h0M465.9 184.5h0M449.5 163.2h0M465.0 204.1h0M463.8 164.3h0M468.1 191.2h0M467.0 200.0h0M468.0 185.4h0M462.3 195.8h0M473.9 204.4h0M471.4 202.5h0M464.4 189.5h0M472.7 205.9h0M454.1 205.1h0M461.0 204.1h0M467.0 181.8h0M460.9 192.0h0M465.5 207.5h0M471.5 198.6h0M457.5 183.6h0M467.8 193.9h0M466.0 190.5h0M464.1 197.9h0M468.8 187.9h0M461.4 206.7h0M462.4 195.7h0M481.3 195.4h0M472.7 182.7h0M460.0 180.5h0M471.7 192.8h0M465.5 161.5h0M465.3 187.3h0M466.1 204.6h0M466.4 195.8h0M464.2 205.8h0M462.9 192.3h0M478.7 198.4h0M468.1 205.1h0M447.6 190.5h0M461.3 194.7h0M466.5 192.7h0M471.4 196.7h0M476.0 185.6h0M468.1 202.0h0M463.6 181.6h0M479.2 161.4h0M472.8 172.3h0M477.4 176.0h0M469.3 195.6h0M468.1 203.2h0M461.4 193.0h0M469.3 176.9h0M466.2 169.3h0M468.8 203.1h0M466.6 191.7h0M461.5 144.2h0M463.0 201.3h0M463.0 204.2h0M457.3 206.8h0M466.9 205.2h0M465.2 201.1h0M471.2 198.1h0M468.2 191.2h0M466.0 170.3h0M474.2 174.6h0M468.5 203.3h0M466.7 188.2h0M466.9 199.8h0M467.7 198.3h0M458.1 202.1h0M464.9 201.7h0M474.3 191.1h0M467.9 175.2h0M472.5 196.1h0M467.4 184.5h0M462.4 202.6h0M470.2 197.8h0M468.9 198.4h0M461.0 202.4h0M465.4 201.9h0M457.3 195.0h0M466.7 204.2h0M475.2 203.1h0M460.2 203.6h0M484.5 167.2h0M469.2 203.5h0M465.8 197.6h0M472.5 194.7h0M455.2 203.1h0M464.5 205.4h0M466.6 204.2h0M462.1 157.1h0M466.1 205.4h0M480.0 177.6h0M470.7 197.4h0M466.8 206.2h0M468.9 181.3h0M466.2 201.0h0M467.5 188.9h0M461.4 176.6h0M464.8 205.0h0M471.5 203.7h0M470.6 206.1h0M455.6 160.5h0M467.7 180.4h0M463.3 164.0h0M448.5 195.5h0M468.4 204.3h0M472.6 204.2h0M475.3 129.8h0M485.9 188.2h0M480.1 188.2h0M474.8 206.9h0M476.5 186.0h0M465.2 203.1h0M472.3 177.5h0M463.3 180.4h0M471.6 200.4h0M463.2 198.0h0M457.5 197.8h0M500.1 176.6h0M461.9 204.6h0M468.8 204.6h0M470.3 183.6h0M470.0 198.1h0M467.1 188.7h0M505.9 179.4h0M462.0 206.6h0M452.6 197.6h0M472.6 167.6h0M464.1 193.5h0M469.0 184.4h0M472.3 207.2h0M466.5 186.2h0M467.1 195.0h0M462.5 188.7h0M469.0 169.7h0M462.7 205.6h0M463.3 201.6h0M478.1 206.2h0M481.9 205.0h0M472.7 199.0h0M462.6 198.3h0M470.5 201.5h0M468.6 191.5h0M463.0 202.1h0M467.0 173.3h0M465.6 198.5h0M478.4 201.6h0M471.9 173.7h0M463.1 192.5h0M471.7 203.1h0M471.5 187.8h0M465.9 177.0h0M478.7 201.5h0M469.8 202.2h0M469.2 186.1h0M466.4 176.7h0M508.1 193.5h0M462.9 178.3h0M459.9 131.3h0M465.0 204.4h0M470.7 196.6h0M460.8 178.7h0M466.5 186.8h0M464.6 188.2h0M463.1 193.3h0M469.1 206.4h0M462.8 203.9h0M464.7 169.9h0M467.6 201.7h0M460.3 194.1h0M469.5 184.2h0M470.1 161.5h0M467.1 199.6h0M460.8 207.0h0M472.2 149.0h0M463.5 206.0h0M470.9 204.9h0M463.6 188.6h0M467.7 201.9h0M473.0 201.7h0M464.6 201.4h0M492.5 199.6h0M469.6 204.0h0M468.8 205.1h0M470.6 183.4h0M468.1 196.1h0M465.1 206.0h0M461.6 168.2h0M469.0 197.5h0M463.9 203.7h0M469.5 205.8h0M464.2 200.5h0M472.5 196.5h0M475.5 195.6h0M471.7 184.9h0M463.6 189.2h0M466.0 201.3h0M465.0 205.5h0M463.3 206.7h0M469.8 206.3h0M467.9 185.2h0M458.3 183.7h0M477.1 164.9h0M463.0 205.8h0M470.6 197.7h0M466.6 188.8h0M470.1 200.2h0M458.7 204.3h0M465.0 202.1h0M452.3 179.3h0M472.0 197.7h0M463.6 139.4h0M471.3 185.8h0M464.9 197.9h0M463.6 200.0h0M463.0 181.1h0M469.0 201.1h0M472.2 189.7h0M474.1 159.6h0M467.8 207.4h0M465.2 197.8h0M478.0 199.1h0M484.4 176.6h0M468.1 202.9h0M468.8 162.5h0M460.0 176.8h0M466.2 204.5h0M470.0 203.1h0M472.8 193.8h0M442.0 176.2h0M454.4 195.2h0M465.5 185.3h0M465.5 190.7h0M459.4 178.0h0M466.3 206.0h0M466.7 204.3h0M463.4 207.3h0M477.6 189.6h0M466.7 193.3h0M461.8 201.2h0M464.6 206.1h0M459.3 172.4h0M470.0 173.7h0M461.6 156.2h0M470.3 181.6h0M461.7 187.1h0M464.2 193.9h0M470.3 201.2h0M461.2 202.7h0M461.2 205.8h0M477.1 203.7h0M461.4 187.6h0M463.0 207.4h0M472.9 189.4h0M474.9 173.9h0M465.4 205.7h0M466.2 206.1h0M484.0 193.2h0M473.7 179.2h0M463.9 188.0h0M480.6 206.5h0M471.9 168.1h0M473.1 202.1h0M480.6 151.0h0M475.1 200.2h0M473.5 204.0h0M466.5 198.9h0M488.1 129.2h0M457.4 195.4h0M468.3 203.0h0M464.7 172.3h0M469.2 191.3h0M468.5 206.9h0M456.8 126.7h0M465.5 207.2h0M462.8 179.2h0M471.8 179.1h0M466.0 204.9h0M468.7 207.1h0M466.8 202.4h0M463.8 125.8h0M470.5 177.2h0M471.2 207.0h0M467.3 197.6h0M482.5 203.7h0M480.8 204.1h0M468.8 198.1h0M470.9 182.8h0M465.3 187.7h0M473.3 205.1h0M473.3 207.0h0M472.5 180.7h0M465.8 201.1h0M470.7 203.3h0M465.8 178.5h0M467.0 198.2h0M467.6 200.8h0M467.5 191.5h0M473.5 191.1h0M461.8 188.4h0M472.7 202.4h0M471.9 205.7h0M463.9 198.8h0M473.8 166.9h0M465.2 202.4h0M466.0 191.0h0M467.3 206.2h0M463.4 194.3h0M473.4 199.1h0M465.2 198.8h0M464.8 205.7h0M480.0 201.1h0M469.8 197.5h0M468.5 198.6h0M468.3 199.1h0M462.7 201.9h0M466.5 206.3h0M464.5 192.5h0M467.6 195.5h0M458.6 202.6h0M464.4 205.3h0M475.5 204.2h0M461.9 201.7h0M462.0 198.5h0M465.8 173.3h0M466.2 171.6h0M471.7 203.0h0M469.9 158.1h0M466.6 182.1h0M448.5 200.1h0M472.3 192.0h0M464.7 144.9h0M474.5 206.7h0M473.7 205.1h0M475.5 131.1h0M468.3 198.4h0M466.4 206.2h0M467.6 170.5h0M480.3 195.1h0M465.5 190.9h0M463.1 207.5h0M471.0 162.3h0M462.4 161.5h0M458.5 193.6h0M464.6 194.8h0M468.1 191.6h0M466.2 198.9h0M463.6 185.9h0M474.9 202.4h0M469.4 193.4h0M460.9 207.2h0M461.6 164.1h0M466.1 199.9h0M465.3 180.4h0M463.1 199.6h0M460.6 197.1h0M466.2 184.2h0M473.8 191.5h0M467.6 196.5h0M477.8 199.6h0M472.9 205.8h0M473.4 198.2h0M470.9 205.5h0M471.4 198.5h0M471.4 197.9h0M467.0 174.4h0M448.8 201.1h0M456.6 207.5h0M477.6 181.5h0M449.1 204.0h0M469.3 199.1h0M461.6 163.9h0M462.3 183.0h0M468.9 195.3h0M480.8 171.5h0M470.7 165.4h0M468.3 191.0h0M457.9 207.0h0M465.4 184.6h0M475.9 207.1h0M464.5 178.4h0M469.9 192.0h0M462.6 205.3h0M464.7 192.1h0M476.9 205.3h0M466.5 197.9h0M459.6 198.5h0M463.9 204.1h0M452.8 203.3h0M470.1 172.7h0M464.0 197.4h0M460.9 206.5h0M471.8 187.0h0M464.5 175.5h0M452.8 206.3h0M464.5 200.4h0M471.8 203.4h0M479.3 199.9h0M456.8 170.1h0M465.0 205.9h0M472.6 181.8h0M470.4 204.7h0M466.8 195.7h0M466.3 190.6h0M474.9 182.3h0M478.4 205.9h0M459.3 204.6h0M468.2 174.8h0M467.3 207.2h0M466.7 179.7h0M468.4 207.0h0M472.6 199.5h0M465.3 196.2h0M467.0 202.4h0M467.6 204.6h0M472.4 192.5h0M463.2 205.0h0M459.1 205.4h0M469.9 193.0h0M471.5 202.4h0M464.3 199.7h0M471.7 198.3h0M472.4 198.4h0M484.3 176.2h0M460.3 204.9h0M461.1 200.5h0M471.5 168.3h0M465.2 196.9h0M472.4 181.8h0M462.6 194.2h0M462.0 203.1h0M472.0 154.3h0M466.5 202.5h0M462.4 192.2h0M474.1 167.8h0M484.7 168.8h0M461.6 207.1h0M462.4 192.7h0M461.8 185.3h0M466.3 203.0h0M476.6 113.4h0M469.3 206.8h0M464.1 197.4h0M460.4 198.0h0M477.0 204.8h0M458.6 196.9h0M465.3 190.5h0M468.6 175.4h0M466.7 201.6h0M468.2 201.6h0M468.2 168.2h0M469.6 192.1h0M468.1 201.9h0M468.2 179.7h0M472.3 197.1h0M468.9 173.6h0M461.9 164.1h0M462.8 202.1h0M471.3 188.1h0M462.8 200.5h0M459.9 199.7h0M481.9 204.7h0M471.7 195.2h0M470.9 203.6h0M466.9 194.7h0M464.0 201.4h0M465.6 205.4h0M465.6 200.5h0M448.4 176.6h0M456.8 188.7h0M467.8 203.9h0M471.0 189.2h0M478.5 199.2h0M464.2 194.6h0M468.0 200.9h0M465.9 203.6h0M470.0 200.3h0M466.2 205.1h0M465.1 179.4h0M457.5 204.0h0M465.8 179.8h0M465.4 199.3h0M467.4 204.8h0M469.4 201.2h0M460.5 204.5h0M484.2 188.8h0M470.9 172.6h0M466.2 207.0h0M476.8 190.9h0M468.4 173.7h0M462.0 204.7h0M469.2 200.2h0M464.1 169.5h0M457.3 146.3h0M469.3 206.2h0M467.9 206.9h0M468.0 206.0h0M465.1 204.2h0M471.3 157.9h0M464.1 206.1h0M468.2 187.8h0M466.1 191.3h0M459.6 178.9h0M463.9 185.7h0M458.6 148.0h0M468.4 206.7h0M471.7 162.1h0M469.8 207.5h0M471.3 157.9h0M475.1 183.4h0M454.8 165.6h0M463.3 206.7h0M463.4 174.4h0M457.6 202.2h0M464.3 203.2h0M466.4 202.0h0M460.9 179.2h0M465.7 204.2h0M464.7 186.6h0M484.7 205.3h0M464.1 158.7h0M465.1 159.7h0M469.6 168.3h0M464.9 179.3h0M471.2 206.2h0M471.1 185.6h0M460.9 130.0h0M470.6 197.7h0M475.1 196.5h0M471.6 182.5h0M462.6 201.9h0M473.6 192.8h0M466.3 190.0h0M463.4 191.2h0M472.3 185.4h0M450.9 177.0h0M462.3 194.8h0M466.9 205.5h0M461.3 179.6h0M471.4 205.7h0M474.3 164.8h0M467.1 199.4h0M478.1 170.9h0M462.4 199.7h0M470.4 186.5h0M464.6 201.5h0M470.4 204.6h0M464.5 185.7h0M467.7 204.3h0M470.7 182.9h0M463.7 194.1h0M469.5 164.7h0M472.9 193.5h0M464.4 206.6h0M467.0 176.7h0M506.3 195.3h0M468.0 160.4h0M464.2 202.2h0M474.6 182.8h0M468.9 202.9h0M468.3 199.8h0M467.4 207.0h0M468.1 181.1h0M461.6 201.7h0M466.6 199.2h0M471.3 164.3h0M467.3 196.5h0M463.8 207.0h0M469.5 204.6h0M468.7 189.3h0M464.7 199.3h0M474.2 188.9h0M470.3 203.3h0M464.9 202.2h0M471.0 177.7h0M471.1 203.4h0M470.4 206.8h0M467.3 199.8h0M457.7 204.2h0M470.7 190.3h0M471.0 168.2h0M469.1 201.9h0M465.0 202.7h0M460.6 199.6h0M470.4 205.5h0M468.1 176.3h0M482.9 196.8h0M456.5 169.5h0M467.3 204.0h0M467.7 181.8h0M458.2 170.9h0M471.4 204.0h0M468.3 196.0h0M467.0 200.7h0M474.7 204.1h0M470.1 203.0h0M464.0 207.2h0M465.8 204.3h0M499.2 205.8h0M489.3 176.4h0M453.3 162.5h0M455.3 205.4h0M473.2 193.2h0M481.6 204.7h0M465.8 205.2h0M467.1 201.8h0M453.3 193.4h0M470.6 201.0h0M458.7 197.4h0M463.0 201.7h0M464.5 187.7h0M466.8 196.9h0M477.3 199.4h0M466.1 188.1h0M468.4 188.3h0M470.1 164.2h0M466.4 205.7h0M460.8 206.0h0M468.8 184.3h0M468.3 185.7h0M437.0 171.0h0M458.7 201.3h0M467.3 200.1h0M466.8 191.2h0M473.2 203.6h0M473.7 204.0h0M471.6 159.0h0M458.9 158.0h0M472.8 200.7h0M467.1 188.2h0M467.8 205.4h0M477.2 178.0h0M462.3 188.1h0M470.1 171.7h0M470.5 204.9h0M459.6 205.5h0M462.6 199.8h0M465.3 207.3h0M462.0 201.5h0M465.8 181.2h0M474.6 190.1h0M465.8 205.0h0M463.3 188.0h0M466.8 187.7h0M470.3 201.9h0M463.4 204.7h0M468.2 206.3h0M466.5 200.8h0M477.4 170.9h0M468.1 179.5h0M469.9 204.1h0M472.7 188.3h0M462.1 202.9h0M460.8 167.3h0M463.4 191.9h0M470.5 202.6h0M466.5 201.0h0M471.1 203.3h0M468.0 202.8h0M466.9 199.9h0M475.6 207.1h0M471.7 199.8h0M465.1 186.5h0M466.4 200.7h0M467.5 192.6h0M470.3 189.7h0M458.6 202.4h0M467.0 201.0h0M462.1 206.4h0M467.5 202.1h0M478.5 185.2h0M464.3 198.7h0M472.1 198.5h0M467.8 192.3h0M468.8 202.2h0M469.4 205.8h0M462.1 197.4h0M462.6 173.3h0M464.8 197.7h0M477.3 206.5h0M460.8 191.5h0M470.7 121.4h0M465.8 193.0h0M466.6 184.7h0M468.6 197.5h0M470.9 175.5h0M457.5 207.1h0M470.7 204.9h0M466.2 206.6h0M453.4 162.6h0M461.3 127.3h0M471.6 204.3h0M466.7 200.9h0M465.1 193.9h0M467.4 184.7h0M462.7 190.1h0M469.6 177.9h0M472.3 173.5h0M461.4 191.9h0M473.5 194.2h0M469.5 177.2h0M459.8 173.9h0M466.0 202.1h0M467.5 206.1h0M467.0 207.3h0M450.6 179.4h0M474.5 194.5h0M473.1 206.9h0M471.1 174.8h0M473.9 205.8h0M470.3 163.3h0M469.9 194.0h0M461.4 189.0h0M470.1 202.6h0M456.6 207.2h0M474.1 195.7h0M473.8 206.0h0M462.7 205.8h0M477.4 203.4h0M470.0 190.2h0M453.4 150.9h0M466.2 202.9h0M454.5 176.2h0M461.3 195.1h0M461.1 200.4h0M462.6 154.9h0M462.7 198.4h0M471.1 206.4h0M464.4 200.3h0M462.5 206.7h0M453.4 203.6h0M462.0 189.1h0M471.0 193.7h0M468.4 199.0h0M470.1 193.4h0M472.8 205.8h0M466.3 206.3h0M465.2 183.6h0M467.6 201.0h0M464.4 201.2h0M464.3 204.7h0M468.1 191.3h0M469.3 205.2h0M468.0 190.6h0M469.9 203.2h0M466.6 202.4h0M468.2 203.3h0M463.7 198.9h0M459.5 198.3h0M470.6 204.7h0M466.9 193.7h0M471.2 191.7h0M476.8 177.5h0M467.9 169.4h0M469.1 203.0h0M456.7 200.6h0M464.9 177.0h0M468.3 187.0h0M453.6 200.2h0M459.7 188.9h0M472.1 194.0h0M465.7 194.3h0M468.0 193.1h0M449.1 180.9h0M465.6 189.6h0M471.0 203.1h0M464.5 202.9h0M466.1 205.9h0M463.3 201.6h0M466.0 205.8h0M472.1 206.1h0M458.9 206.4h0M458.0 195.8h0M469.2 204.3h0M480.7 200.5h0M469.3 192.5h0M467.0 188.1h0M455.4 194.1h0M466.2 201.0h0M463.8 203.1h0M458.8 186.6h0M462.6 179.5h0M462.3 192.2h0M461.2 191.0h0M465.2 191.1h0M463.2 205.4h0M465.6 205.1h0M470.7 190.0h0M473.5 185.5h0M469.6 206.2h0M462.4 207.5h0M472.8 198.0h0M467.7 171.6h0M472.7 195.3h0M464.6 198.8h0M470.2 165.5h0M462.6 200.5h0M469.2 148.8h0M473.0 203.7h0M463.4 202.5h0M470.0 203.0h0M470.7 182.4h0M466.4 181.5h0M462.4 196.0h0M470.9 159.8h0M476.5 193.2h0M466.2 202.2h0M472.3 205.3h0M469.8 192.3h0M477.4 175.5h0M458.0 173.0h0M457.1 181.4h0M468.2 183.2h0M465.8 207.2h0M469.8 207.4h0M458.4 195.6h0M466.7 205.7h0M465.7 206.6h0M464.2 180.0h0M478.2 181.6h0M461.6 204.1h0M464.6 184.4h0M465.6 187.2h0M465.4 193.7h0M468.8 188.7h0M469.1 184.9h0M456.4 154.7h0M469.5 199.2h0M468.8 199.6h0M461.6 193.8h0M468.0 194.7h0M460.4 190.2h0M470.0 205.8h0M467.6 177.3h0M467.4 173.1h0M464.9 206.7h0M474.8 185.6h0M467.2 188.2h0M470.3 191.4h0M458.3 202.4h0M463.3 202.4h0M468.9 205.6h0M454.7 180.4h0M461.2 204.0h0M473.5 150.3h0M462.0 206.7h0M467.6 203.9h0M459.1 205.5h0M458.1 190.9h0M464.4 184.6h0M471.2 186.2h0M476.7 186.2h0M463.6 202.6h0M457.3 195.1h0M469.7 205.6h0M465.4 187.8h0M456.8 120.1h0M460.7 154.0h0M465.3 204.5h0M472.7 198.3h0M470.1 205.3h0M464.5 179.6h0M457.8 190.3h0M466.6 202.6h0M468.7 196.1h0M465.5 201.2h0M488.1 204.5h0M473.4 180.0h0M460.7 168.3h0M466.4 204.7h0M466.5 193.3h0M456.3 203.1h0M462.3 207.5h0M455.1 170.9h0M463.5 185.4h0M461.7 207.4h0M461.5 190.0h0M470.2 205.9h0M475.1 199.4h0M471.2 199.5h0M471.2 159.4h0M483.1 202.2h0M463.0 202.4h0M463.0 187.1h0M467.7 201.4h0M467.3 205.6h0M467.2 171.0h0M467.6 194.3h0M475.1 205.4h0M464.0 169.4h0M464.2 188.2h0M469.2 202.2h0M466.8 205.7h0M463.2 203.4h0M476.6 146.4h0M467.7 192.7h0M465.2 176.8h0M467.6 191.7h0M458.1 188.5h0M466.5 202.8h0M459.3 196.8h0M461.6 186.4h0M473.8 196.8h0M460.6 189.2h0M463.1 187.7h0M473.4 202.1h0M478.4 175.4h0M460.3 110.6h0M464.4 188.6h0M473.2 194.9h0M459.8 207.2h0M456.7 206.9h0M455.6 176.3h0M463.8 201.3h0M448.2 129.5h0M479.3 200.9h0M465.1 207.5h0M474.8 199.0h0M466.3 201.2h0M465.7 199.9h0M462.3 186.0h0M419.5 193.6h0M467.8 196.5h0M468.6 197.3h0M471.9 200.8h0M467.8 193.8h0M463.3 186.0h0M476.0 201.4h0M459.3 158.1h0M462.3 161.2h0M471.6 195.1h0M462.8 191.1h0M450.7 186.4h0M459.1 186.9h0M465.5 204.3h0M460.8 199.5h0M475.8 183.6h0M471.3 193.4h0M465.5 183.3h0M475.8 192.8h0M467.4 195.2h0M461.8 170.5h0M463.4 190.6h0M457.0 196.0h0M464.6 194.3h0M455.8 199.6h0M456.2 190.0h0M467.6 189.9h0M469.7 193.8h0M476.4 204.2h0M466.7 206.3h0M466.5 197.4h0M476.4 202.9h0M476.3 195.1h0M467.0 201.7h0M466.8 194.3h0M468.7 196.0h0M476.1 201.8h0M462.8 205.8h0M469.5 188.1h0M466.0 207.1h0M463.9 198.7h0M458.5 193.4h0M469.5 207.1h0M463.1 182.4h0M468.2 201.9h0M466.5 204.3h0M477.7 199.7h0M466.5 197.6h0M462.7 206.5h0M464.0 163.3h0M464.7 189.4h0M464.1 207.6h0M464.3 206.9h0M484.8 151.2h0M463.6 194.3h0M468.8 195.8h0M489.9 168.8h0M467.6 171.3h0M469.5 166.0h0M462.2 175.9h0M469.6 184.4h0M461.0 204.3h0M469.8 175.9h0M454.9 201.4h0M472.0 203.6h0M459.0 206.8h0M470.0 180.8h0M474.0 199.5h0M497.2 162.7h0M470.2 168.9h0M470.3 203.7h0M470.6 204.9h0M463.4 207.0h0M474.6 207.0h0M468.0 188.3h0M467.4 196.7h0M465.5 207.4h0M461.0 201.6h0M466.2 182.2h0M466.9 180.1h0M472.9 195.2h0M463.7 191.4h0M470.4 205.1h0M467.6 198.9h0M471.9 197.3h0M463.9 185.0h0M467.0 198.3h0M479.2 196.3h0M467.5 193.9h0M479.9 190.6h0M472.3 197.8h0M476.5 195.1h0M472.1 138.1h0M472.6 177.2h0M485.1 161.6h0M460.4 193.6h0M451.9 206.8h0M466.4 206.4h0M470.4 192.3h0M471.1 207.1h0M465.3 182.2h0M467.2 191.3h0M466.3 205.8h0M473.4 196.0h0M469.7 184.0h0M486.9 199.4h0M499.5 178.4h0M470.1 198.0h0M470.1 190.1h0M471.5 184.6h0M466.4 175.3h0M466.0 197.4h0M465.3 202.4h0M474.8 202.8h0M435.1 181.0h0M467.7 188.5h0M468.4 182.5h0M468.2 201.6h0M464.0 207.5h0M463.4 200.5h0M479.1 201.8h0M473.5 179.2h0M470.1 193.2h0M455.4 191.9h0M423.0 202.7h0M474.7 198.2h0M469.1 195.6h0M474.4 201.5h0M471.9 202.0h0M445.5 174.1h0M474.4 203.8h0M476.9 191.5h0M458.2 206.7h0M466.9 180.2h0M458.9 197.3h0M461.5 169.4h0M473.5 204.0h0M488.3 185.8h0M470.4 150.0h0M461.2 197.1h0M485.1 181.8h0M464.0 194.1h0M464.2 206.9h0M472.0 164.4h0M475.8 171.8h0M461.6 193.8h0M471.9 181.7h0M477.5 205.3h0M463.1 166.2h0M467.9 205.7h0M462.6 154.2h0M465.1 182.8h0M469.8 134.6h0M461.0 170.8h0M465.7 190.5h0M472.4 190.1h0M470.2 174.2h0M474.9 180.5h0M472.6 190.9h0M459.1 151.4h0M466.3 206.3h0M476.6 203.8h0M470.9 152.4h0M463.5 187.7h0M470.3 184.8h0M467.8 201.0h0M469.8 202.8h0M459.8 159.9h0M461.3 200.6h0M470.8 168.4h0M467.2 195.2h0M461.8 172.9h0M470.4 172.0h0M474.1 204.8h0M471.8 202.3h0M465.8 203.0h0M471.7 167.1h0M467.0 196.6h0M469.4 204.9h0M464.6 198.0h0M469.9 194.3h0M461.8 187.6h0M464.9 199.4h0M463.5 165.5h0M470.3 203.0h0M453.9 206.4h0M461.6 203.3h0M468.2 204.0h0M463.4 206.3h0M473.6 207.1h0M471.8 146.8h0M473.0 177.4h0M466.7 193.3h0M471.9 187.9h0M469.2 180.1h0M465.5 201.1h0M463.6 184.1h0M471.7 194.1h0M453.1 201.7h0M464.7 203.4h0M469.8 206.9h0M472.9 163.3h0M473.0 187.1h0M465.9 205.1h0M462.6 177.6h0M472.1 203.7h0M465.2 188.2h0M467.7 205.7h0M471.9 194.3h0M470.0 205.7h0M465.5 201.6h0M467.0 160.8h0M490.5 188.8h0M474.8 186.6h0M469.4 195.9h0M465.9 196.7h0M464.6 185.3h0M460.9 198.3h0M463.8 172.6h0M456.6 205.7h0M462.5 202.0h0M467.8 185.4h0M473.9 176.0h0M463.6 200.9h0M471.9 194.8h0M467.3 203.6h0M467.3 206.3h0M467.3 169.3h0M470.4 182.4h0M470.3 195.0h0M466.7 189.4h0M468.8 207.5h0M463.1 192.1h0M463.5 200.1h0M465.5 142.6h0M469.7 206.1h0M473.3 167.0h0M451.5 201.3h0M461.6 190.1h0M492.1 182.5h0M470.7 203.2h0M473.8 205.5h0M468.9 188.8h0M470.4 188.6h0M477.4 178.5h0M484.4 189.1h0M470.7 195.2h0M461.0 194.7h0M465.9 175.2h0M468.3 175.6h0M477.4 198.8h0M464.2 175.1h0M465.0 205.4h0M461.5 204.6h0M462.9 197.0h0M469.5 178.9h0M475.5 200.6h0M472.5 196.4h0M469.6 193.3h0M465.9 202.0h0M458.6 185.3h0M461.4 198.6h0M446.3 205.3h0M464.8 185.0h0M457.2 135.5h0M458.5 198.7h0M469.5 183.8h0M462.9 163.5h0M460.3 188.5h0M467.4 193.6h0M471.5 187.0h0M472.7 194.5h0M470.0 205.9h0M468.5 190.4h0M463.1 183.5h0M469.2 168.3h0M483.0 204.9h0M472.0 202.4h0M464.9 182.4h0M465.8 190.9h0M461.8 206.8h0M466.1 189.3h0M475.9 174.5h0M460.3 199.7h0M463.5 207.3h0M471.6 192.4h0M467.4 204.3h0M469.6 202.3h0M469.3 199.6h0M469.0 181.7h0M466.3 170.8h0M467.8 201.6h0M463.0 200.7h0M475.3 206.2h0M468.6 178.3h0M445.3 182.3h0M460.5 206.5h0M468.6 190.5h0M471.5 201.5h0M458.9 205.7h0M476.0 197.1h0M460.9 120.1h0M465.7 204.2h0M467.2 206.9h0M466.2 201.3h0M467.0 186.7h0M470.5 193.6h0M458.5 189.3h0M470.1 179.0h0M463.9 196.7h0M464.7 204.9h0M463.9 198.0h0M463.9 203.8h0M465.6 195.3h0M468.8 167.0h0M476.1 173.4h0M459.8 163.0h0M466.5 202.7h0M464.4 192.3h0M472.7 188.6h0M477.5 206.3h0M479.3 197.6h0M468.2 195.7h0M457.4 163.9h0M468.6 204.0h0M468.7 170.8h0M466.3 200.4h0M466.6 189.0h0M465.2 192.1h0M505.7 202.4h0M460.0 204.0h0M465.5 167.8h0M467.5 200.7h0M468.1 197.3h0M467.2 197.4h0M465.6 184.7h0M493.0 202.3h0M471.4 206.0h0M461.8 197.6h0M463.9 159.5h0M467.4 206.6h0M476.2 202.4h0M463.1 177.1h0M457.9 192.2h0M464.4 202.4h0M472.1 199.6h0M468.5 189.1h0M475.4 194.7h0M473.4 206.0h0M477.0 201.1h0M456.2 200.7h0M467.1 193.2h0M471.5 182.5h0M467.3 196.4h0M473.3 178.2h0M470.2 199.0h0M458.6 207.0h0M468.5 199.5h0M477.0 198.1h0M465.9 199.3h0M469.6 193.4h0M468.8 188.6h0M464.5 201.2h0M473.9 193.6h0M464.6 169.7h0M464.5 177.1h0M467.7 192.1h0M484.9 203.2h0M470.0 155.3h0M469.6 200.6h0M465.5 204.9h0M466.2 170.5h0M464.4 203.7h0M465.1 200.6h0M463.2 202.8h0M468.5 190.0h0M467.8 202.2h0M470.5 180.8h0M465.6 196.8h0M470.0 199.7h0M471.1 193.9h0M466.0 196.5h0M472.7 135.9h0M466.9 169.2h0M479.7 192.4h0M468.2 187.4h0M469.0 195.5h0M469.5 200.2h0M460.3 203.3h0M471.6 184.5h0M463.6 203.6h0M465.7 207.0h0M471.1 174.2h0M459.9 204.0h0M466.1 179.8h0M464.4 194.4h0M463.7 207.0h0M462.6 205.4h0M471.9 192.7h0M466.4 176.3h0M462.1 191.7h0M469.2 202.8h0M454.6 167.2h0M466.7 194.4h0M469.9 175.9h0M469.2 200.7h0M466.4 198.3h0M477.8 203.6h0M475.1 184.3h0M465.5 195.3h0M461.1 144.3h0M466.5 201.2h0M467.9 192.2h0M457.0 179.3h0M456.1 188.6h0M474.1 206.1h0M458.0 177.5h0M467.9 197.1h0M470.2 180.0h0M470.1 206.8h0M462.1 170.0h0M478.1 141.4h0M464.1 171.4h0M463.1 207.0h0M469.1 189.9h0M464.4 204.2h0M453.3 170.2h0M471.0 184.8h0M440.8 204.5h0M467.7 193.4h0M478.3 171.8h0M448.2 202.7h0M469.7 203.8h0M470.9 202.1h0M462.5 186.8h0M466.1 205.2h0M460.6 160.8h0M464.2 202.3h0M470.2 199.8h0M463.2 194.8h0M474.7 194.2h0M463.4 200.3h0M471.7 204.3h0M465.2 200.6h0M462.9 206.9h0M468.0 205.1h0M465.7 204.1h0M469.5 206.7h0M465.4 167.7h0M464.0 202.8h0M463.8 197.3h0M462.4 206.7h0M464.4 186.5h0M470.3 201.4h0M470.2 198.7h0M466.7 190.5h0M473.8 203.4h0M468.5 204.4h0M474.6 202.4h0M465.5 200.7h0M473.2 166.5h0M466.3 194.7h0M463.2 201.3h0M466.9 202.8h0M465.8 205.9h0M460.1 112.8h0M462.7 191.6h0M465.6 205.0h0M468.4 195.0h0M472.3 174.3h0M452.1 158.2h0M462.4 200.3h0M461.0 176.0h0M468.6 193.8h0M470.5 193.0h0M472.8 191.1h0M473.7 193.0h0M468.8 198.8h0M467.2 202.5h0M462.4 205.3h0M471.6 195.9h0M466.5 206.6h0M462.8 151.4h0M471.7 168.4h0M462.4 184.3h0M472.1 196.2h0M472.4 207.1h0M480.3 186.8h0M469.8 169.3h0M462.9 179.5h0M464.3 166.1h0M472.0 179.1h0M475.0 182.2h0M485.0 181.8h0M465.2 194.2h0M471.9 152.8h0M462.0 181.1h0M471.7 115.1h0M470.5 201.4h0M472.4 202.7h0M481.0 207.5h0M468.5 204.6h0M453.8 204.4h0M473.0 184.5h0M468.9 204.9h0M466.4 187.5h0M467.0 200.9h0M473.0 193.2h0M465.3 197.2h0M461.9 204.6h0M470.5 176.2h0M472.1 205.9h0M457.2 199.0h0M467.5 170.7h0M471.1 195.3h0M476.1 206.8h0M481.6 171.6h0M456.3 142.3h0M475.9 157.0h0M467.8 203.7h0M489.9 184.9h0M466.9 192.6h0M466.6 196.2h0M472.1 188.9h0M475.5 180.1h0M460.7 196.1h0M463.6 199.8h0M458.7 185.9h0M480.3 204.2h0M470.1 196.9h0M467.3 171.7h0M465.3 200.6h0M454.0 190.4h0M467.2 199.5h0M476.9 203.5h0M461.8 149.3h0M467.3 192.6h0M465.7 192.7h0M467.8 181.6h0M427.5 181.0h0M467.7 187.3h0M466.1 175.2h0M472.1 161.6h0M461.6 185.4h0M461.9 186.2h0M467.2 200.5h0M469.0 199.8h0M471.5 190.6h0M468.7 199.7h0M458.2 184.4h0M460.7 194.3h0M460.6 189.0h0M466.8 163.9h0M478.2 189.2h0M463.1 204.7h0M473.9 201.5h0M464.8 178.9h0M462.4 205.8h0M466.9 201.7h0M468.1 207.0h0M473.4 180.1h0M464.5 198.3h0M460.6 201.0h0M468.4 192.6h0M464.5 203.8h0M470.4 204.8h0M471.5 166.6h0M462.0 186.5h0M481.8 179.0h0M471.4 198.7h0M471.2 176.6h0M472.0 204.4h0M453.5 199.8h0M463.8 178.5h0M465.0 203.0h0M465.7 172.3h0M462.1 204.2h0M462.2 181.6h0M464.0 195.9h0M466.9 187.5h0M471.5 183.8h0M468.4 207.0h0M477.0 201.8h0M464.6 204.5h0M469.4 203.0h0M474.8 165.4h0M465.3 197.8h0M469.9 188.5h0M471.0 190.6h0M472.4 171.6h0M466.4 202.5h0M465.8 187.2h0M463.7 179.1h0M478.0 143.7h0M471.3 202.5h0M469.4 205.3h0M463.9 169.7h0M477.0 184.5h0M465.9 196.6h0M460.2 201.7h0M455.4 195.7h0M475.5 202.5h0M468.5 203.8h0M467.8 193.3h0M475.6 201.6h0M458.6 202.9h0M467.3 171.2h0M467.6 196.7h0M463.2 187.3h0M466.8 183.9h0M463.9 205.9h0M468.2 206.1h0M468.8 173.0h0M465.6 204.6h0M466.5 202.7h0M460.5 191.3h0M467.1 190.8h0M473.4 190.2h0M465.5 205.6h0M468.8 192.9h0M473.5 196.0h0M465.9 199.7h0M461.2 174.1h0M474.5 202.3h0M469.5 191.8h0M463.6 203.7h0M470.9 204.6h0M466.5 166.3h0M468.5 184.3h0M474.5 189.3h0M455.1 205.7h0M456.2 184.9h0M469.2 193.8h0M473.6 199.7h0M465.9 206.8h0M465.6 189.8h0M467.6 207.1h0M468.7 203.4h0M475.3 204.2h0M468.9 194.4h0M470.8 202.3h0M462.1 158.2h0M475.4 200.1h0M471.7 190.7h0M479.6 181.6h0M469.4 205.7h0M448.0 150.8h0M472.6 191.8h0M467.7 196.2h0M464.8 207.2h0M459.8 200.0h0M465.5 175.0h0M467.4 198.3h0M467.1 203.6h0M466.6 201.5h0M457.4 197.5h0M473.1 186.1h0M469.3 192.1h0M463.9 205.4h0M458.6 196.7h0M464.7 184.5h0M474.4 180.3h0M468.0 180.2h0M471.2 181.5h0M467.6 205.3h0M474.0 207.5h0M473.5 203.9h0M459.2 207.0h0M463.1 175.6h0M471.3 207.0h0M460.3 182.7h0M470.3 181.7h0M467.9 188.5h0M464.6 193.1h0M466.8 205.2h0M466.9 204.4h0M474.7 173.5h0M462.9 203.7h0M463.8 199.8h0M462.8 207.2h0M468.2 200.6h0M466.2 192.2h0M462.3 194.8h0M466.3 206.3h0M454.1 142.0h0M468.2 206.8h0M464.5 195.0h0M458.4 169.0h0M469.2 205.8h0M465.4 204.5h0M467.1 186.8h0M459.1 194.3h0M461.9 187.6h0M459.2 188.9h0M465.9 201.3h0M468.7 204.6h0M475.3 178.6h0M469.8 178.9h0M471.0 178.8h0M466.3 204.4h0M460.4 172.2h0M463.1 193.9h0M473.5 174.7h0M473.1 188.8h0M463.9 168.5h0M480.8 181.4h0M474.7 204.0h0M462.9 200.5h0M464.8 200.0h0M464.5 190.2h0M466.7 188.1h0M464.3 191.5h0M470.1 204.4h0M473.3 185.3h0M476.4 182.0h0M456.2 123.9h0M473.6 202.4h0M468.8 173.3h0M467.5 177.2h0M465.3 161.9h0M469.2 199.0h0M462.6 174.8h0M462.8 200.6h0M463.8 198.9h0M475.9 206.4h0M483.3 189.4h0M488.7 196.5h0M467.9 206.3h0M470.3 199.1h0M458.8 202.0h0M455.6 175.0h0M469.6 206.1h0M470.6 193.3h0M462.3 200.5h0M467.5 203.3h0M456.2 188.8h0M461.4 207.4h0M454.4 194.4h0M474.5 203.5h0M447.9 194.5h0M469.2 196.6h0M459.5 197.8h0M464.9 190.9h0M463.7 192.3h0M478.9 158.6h0M469.9 202.8h0M466.1 205.0h0M463.0 206.5h0M476.0 129.6h0M467.3 200.8h0M480.9 145.7h0M469.7 200.8h0M452.8 206.4h0M467.5 196.1h0M464.0 170.8h0M466.0 198.7h0M464.7 204.9h0M464.0 198.7h0M473.1 198.9h0M460.5 195.6h0M461.5 181.6h0M462.7 200.8h0M460.1 118.4h0M449.5 172.1h0M470.7 204.5h0M463.6 184.4h0M471.4 191.1h0M468.7 171.1h0M463.0 174.2h0M469.8 197.9h0M463.0 196.9h0M457.1 192.6h0M466.8 199.0h0M465.8 173.7h0M472.0 197.7h0M477.5 169.3h0M474.3 182.2h0M460.8 190.1h0M463.5 184.4h0M486.1 189.1h0M465.1 194.9h0M456.4 200.4h0M458.1 171.5h0M457.5 199.3h0M467.7 189.2h0M468.8 183.0h0M467.4 172.0h0M475.5 194.8h0M471.6 138.2h0M462.9 179.3h0M443.1 188.9h0M466.0 207.3h0M466.3 193.9h0M466.5 194.6h0M469.9 205.4h0M464.5 197.6h0M466.3 200.1h0M473.9 190.0h0M464.8 171.1h0M466.4 180.9h0M464.9 197.2h0M479.5 166.4h0M486.9 193.8h0M470.1 184.7h0M465.7 201.2h0M475.0 146.7h0M465.6 197.4h0M470.8 192.9h0M460.0 204.9h0M463.9 191.7h0M459.7 174.2h0M470.4 192.1h0M465.0 194.5h0M462.9 164.6h0M455.9 182.2h0M487.0 178.8h0M463.4 181.3h0M469.6 203.8h0M468.6 187.3h0M448.8 201.1h0M461.7 138.4h0M476.2 207.6h0M478.0 205.1h0M466.8 193.3h0M467.7 162.8h0M465.0 194.7h0M476.3 200.8h0M464.3 187.0h0M469.5 187.3h0M466.1 199.2h0M471.6 165.9h0M466.5 196.2h0M467.3 203.7h0M473.8 200.2h0M468.9 203.3h0M468.3 202.9h0M464.3 205.2h0M464.4 192.4h0M465.4 200.8h0M467.4 207.0h0M464.0 201.2h0M467.8 207.6h0M470.4 206.7h0M466.9 190.0h0M468.7 173.5h0M461.8 186.0h0M465.1 170.8h0M461.1 168.4h0M483.9 193.2h0M464.7 206.6h0M460.9 206.4h0M463.3 200.2h0M469.8 207.2h0M468.5 186.5h0M463.5 176.0h0M468.6 206.0h0M461.5 205.5h0M466.3 186.6h0M473.9 202.4h0M474.3 174.5h0M465.0 206.5h0M470.6 186.1h0M466.7 179.6h0M475.5 207.3h0M455.1 156.2h0M469.8 183.1h0M467.0 207.6h0M466.9 194.2h0M459.6 191.4h0M464.5 199.0h0M463.5 153.0h0M463.8 144.3h0M471.2 191.4h0M464.0 205.9h0M468.3 205.7h0M469.4 204.5h0M466.3 205.0h0M464.8 194.0h0M470.8 202.9h0M463.6 200.0h0M467.6 178.2h0M474.9 160.4h0M462.2 201.8h0M478.3 193.6h0M465.6 205.8h0M460.4 207.2h0M433.4 195.4h0M467.4 169.3h0M467.6 188.7h0M469.4 194.3h0M466.7 183.8h0M474.9 192.0h0M473.4 200.8h0M461.6 202.5h0M468.7 201.5h0M464.7 174.0h0M471.4 206.9h0M462.7 194.1h0M477.8 143.1h0M468.5 204.2h0M469.3 187.0h0M466.9 207.5h0M467.4 175.4h0M472.8 205.5h0M495.5 202.6h0M462.5 163.6h0M466.3 201.5h0M481.7 165.3h0M471.1 170.9h0M466.5 187.8h0M457.4 201.8h0M460.8 194.3h0M462.9 205.8h0M471.8 189.3h0M464.1 191.7h0M455.3 205.0h0M470.9 197.0h0M473.3 205.0h0M472.6 204.8h0M461.5 201.6h0M469.1 170.4h0M465.9 184.5h0M470.9 178.2h0M461.7 197.1h0M465.4 181.1h0M463.4 180.3h0M492.2 197.2h0M468.1 194.5h0M469.1 196.8h0M468.1 200.9h0M460.1 204.2h0M481.1 172.4h0M468.5 195.4h0M472.0 183.2h0M471.6 206.7h0M471.2 205.9h0M465.8 189.1h0M467.2 207.4h0M473.0 205.7h0M478.5 204.0h0M472.3 167.8h0M472.1 184.4h0M477.4 199.8h0M467.0 186.4h0M458.2 184.5h0M469.2 123.8h0M464.0 169.2h0M481.4 206.3h0M477.8 185.7h0M468.2 179.9h0M481.9 194.9h0M472.4 200.4h0M467.6 201.5h0M465.1 203.4h0M465.3 191.2h0M469.1 207.3h0M479.4 201.7h0M461.4 178.0h0M477.5 202.0h0M465.7 201.8h0M466.2 200.8h0M457.5 188.9h0M461.5 191.6h0M462.5 196.5h0M480.0 191.8h0M469.1 204.8h0M463.6 164.7h0M466.6 172.0h0M474.5 205.3h0M469.6 206.6h0M478.2 139.6h0M466.7 186.9h0M454.4 201.9h0M468.2 199.7h0M472.2 177.5h0M448.0 201.2h0M472.9 198.6h0M466.4 176.7h0M467.9 202.5h0M468.1 205.6h0M464.4 205.5h0M462.9 202.1h0M471.0 198.5h0M467.5 207.5h0M474.8 178.9h0M465.4 199.0h0M465.6 193.8h0M467.4 178.5h0M462.1 198.7h0M469.2 174.1h0M469.7 199.3h0M459.3 204.5h0M472.5 185.9h0M464.8 203.4h0M473.7 200.1h0M468.0 189.0h0M468.7 183.2h0M468.4 205.6h0M471.5 174.9h0M467.9 200.5h0M464.8 174.2h0M462.1 200.0h0M455.6 196.4h0M464.0 194.4h0M470.1 207.5h0M464.6 172.9h0M464.3 206.0h0M476.3 157.2h0M465.5 147.6h0M453.6 205.4h0M460.9 190.7h0M488.1 195.4h0M453.9 168.2h0M465.2 200.9h0M456.6 161.5h0M469.5 193.5h0M468.3 181.3h0M471.5 206.9h0M470.9 206.6h0M473.8 197.8h0M474.8 193.2h0M465.1 207.5h0M467.1 205.9h0M479.2 197.5h0M451.3 149.0h0M463.3 184.0h0M458.1 201.3h0M468.5 203.9h0M468.7 204.3h0M455.1 206.8h0M468.1 181.1h0M470.3 205.7h0M473.4 192.3h0M460.5 196.0h0M471.9 157.4h0M465.1 194.9h0M465.6 197.6h0M478.8 200.3h0M463.1 194.8h0M466.6 175.1h0M464.0 205.7h0M463.9 177.1h0M472.4 207.1h0M467.7 187.0h0M465.2 203.2h0M465.9 185.1h0M465.0 203.0h0M463.3 193.0h0M464.4 170.2h0M461.7 197.3h0M474.3 164.6h0M474.5 203.1h0M468.7 179.3h0M462.7 205.6h0M465.0 184.3h0M469.9 168.1h0M462.0 201.0h0M463.9 185.6h0M467.3 198.4h0M471.3 206.2h0M470.5 193.4h0M446.7 207.2h0M462.0 200.1h0M466.6 200.4h0M469.6 205.5h0M469.8 205.5h0M473.2 156.6h0M470.5 200.5h0M491.7 167.8h0M471.8 205.9h0M471.6 202.8h0M497.6 137.0h0M474.1 204.0h0M470.1 198.2h0M482.0 199.8h0M465.1 175.8h0M470.5 207.0h0M466.6 197.8h0M482.4 60.9h0M474.6 68.0h0M464.0 96.4h0M460.0 100.0h0M477.1 100.0h0M479.6 108.2h0M448.0 102.5h0M420.2 121.3h0M430.9 118.5h0M441.6 124.2h0M506.6 127.7h0M507.3 140.2h0M427.3 142.7h0M422.7 158.7h0M433.4 151.6h0M402.4 165.1h0M400.0 171.1h0M414.2 164.0h0M418.4 172.9h0M512.7 170.0h0M506.6 161.5h0M516.2 187.1h0M398.9 206.3h0" stroke="#000" stroke-width="1.7" stroke-linecap="round" fill="none"/>
<g stroke="#000" stroke-width="1.8" fill="none"><line x1="74.90" y1="315.16" x2="74.90" y2="513.25"/><line x1="68.80" y1="512.50" x2="371.90" y2="512.50"/><line x1="68.80" y1="422.80" x2="74.90" y2="422.80"/><line x1="68.80" y1="333.10" x2="74.90" y2="333.10"/><line x1="74.90" y1="512.50" x2="74.90" y2="518.40"/><line x1="134.12" y1="512.50" x2="134.12" y2="518.40"/><line x1="193.34" y1="512.50" x2="193.34" y2="518.40"/><line x1="252.56" y1="512.50" x2="252.56" y2="518.40"/><line x1="311.78" y1="512.50" x2="311.78" y2="518.40"/><line x1="371.00" y1="512.50" x2="371.00" y2="518.40"/></g>
<text x="68.10" y="517.90" font-size="14.7" font-weight="bold" fill="#111" text-anchor="end" stroke="#111" stroke-width="0.3">0</text>
<text x="68.10" y="428.20" font-size="14.7" font-weight="bold" fill="#111" text-anchor="end" stroke="#111" stroke-width="0.3">50</text>
<text x="68.10" y="338.50" font-size="14.7" font-weight="bold" fill="#111" text-anchor="end" stroke="#111" stroke-width="0.3">100</text>
<text x="74.90" y="533.40" font-size="15" font-weight="bold" fill="#111" text-anchor="middle" stroke="#111" stroke-width="0.3">0</text>
<text x="134.12" y="533.40" font-size="15" font-weight="bold" fill="#111" text-anchor="middle" stroke="#111" stroke-width="0.3">200</text>
<text x="193.34" y="533.40" font-size="15" font-weight="bold" fill="#111" text-anchor="middle" stroke="#111" stroke-width="0.3">400</text>
<text x="252.56" y="533.40" font-size="15" font-weight="bold" fill="#111" text-anchor="middle" stroke="#111" stroke-width="0.3">600</text>
<text x="311.78" y="533.40" font-size="15" font-weight="bold" fill="#111" text-anchor="middle" stroke="#111" stroke-width="0.3">800</text>
<text x="371.00" y="533.40" font-size="15" font-weight="bold" fill="#111" text-anchor="middle" stroke="#111" stroke-width="0.3">1000</text>
<text x="159.40" y="558.00" font-size="16" font-weight="bold" fill="#111" text-anchor="start" textLength="127.00" lengthAdjust="spacingAndGlyphs" stroke="#111" stroke-width="0.3">Time Elapsed (h)</text>
<text transform="translate(32.7,471.4) rotate(-90)" font-size="16" font-weight="bold" fill="#111" stroke="#111" stroke-width="0.3" textLength="116.3" lengthAdjust="spacingAndGlyphs">Confluency (%)</text>
<path d="M74.9 486.8L75.7 486.6L76.5 486.0L77.3 485.5L78.1 485.6L78.9 485.3L79.7 484.8L80.5 484.7L81.3 484.5L82.1 484.1L82.9 483.8L83.7 483.4L84.5 482.9L85.3 482.5L86.1 482.5L86.9 482.6L87.7 482.4L88.5 482.0L89.3 481.7L90.1 481.7L90.9 481.6L91.7 481.7L92.5 481.9L93.3 481.3L94.1 480.2L94.9 480.0L95.7 480.4L96.5 480.5L97.3 480.5L98.1 480.8L98.9 480.7L99.7 480.0L100.5 479.9L101.3 480.4L102.1 480.1L102.9 479.6L103.7 478.9L104.5 478.5L105.3 478.7L106.1 478.6L106.9 478.1L107.7 478.0L108.5 477.9L109.3 477.7L110.1 477.7L110.9 477.7L111.7 477.4L112.5 477.3L113.3 477.4L114.1 477.4L114.9 476.9L115.7 476.6L116.5 476.5L117.3 476.4L118.1 476.2L118.9 476.0L119.7 476.0L120.5 475.6L121.3 475.1L122.1 475.1L122.9 475.2L123.7 475.0L124.5 474.5L125.3 474.3L126.1 474.4L126.9 474.3L127.7 474.4L128.5 474.1L129.3 473.6L130.1 473.8L130.9 474.0L131.7 473.4L132.5 473.0L133.3 473.1L134.1 473.1L134.9 472.8L135.7 472.2L136.5 471.7L137.3 471.7L138.1 471.8L138.9 471.8L139.7 471.3L140.5 470.5L141.3 470.5L142.1 471.0L142.9 470.8L143.7 470.3L144.5 470.1L145.3 470.2L146.1 470.1L146.9 470.0L147.7 469.7L148.5 469.3L149.3 469.2L150.1 469.0L150.9 468.3L151.7 468.3L152.5 468.3L153.3 468.0L154.1 468.0L154.9 468.0L155.7 468.0L156.5 467.9L157.3 468.0L158.1 468.0L158.9 467.4L159.7 466.7L160.5 466.6L161.3 467.1L162.1 466.7L162.9 466.2L163.7 466.1L164.5 466.0L165.3 465.8L166.1 465.0L166.9 464.0L167.7 463.1L168.5 462.8L169.3 463.1L170.1 463.8L170.9 464.1L171.7 463.5L172.5 463.5L173.3 464.9L174.1 465.7L174.9 464.9L175.7 464.7L176.5 465.0L177.3 465.0L178.1 464.9L178.9 465.2L179.7 465.4L180.5 465.3L181.3 465.0L182.1 464.6L182.9 464.1L183.7 463.8L184.5 463.5L185.3 463.2L186.1 462.7L186.9 462.7L187.7 462.9L188.5 462.6L189.3 462.1L190.1 461.8L190.9 461.4L191.7 461.1L192.5 461.0L193.3 460.6L194.1 460.1L194.9 460.0L195.7 459.5L196.5 459.1L197.3 459.0L198.1 459.4L198.9 459.5L199.7 459.1L200.5 458.6L201.3 458.3L202.1 458.6L202.9 458.9L203.7 458.5L204.5 458.2L205.3 458.4L206.1 458.5L206.9 458.6L207.7 458.6L208.5 458.1L209.3 457.5L210.1 457.4L210.9 457.4L211.7 457.3L212.5 457.2L213.3 456.8L214.1 456.5L214.9 456.7L215.7 456.4L216.5 456.1L217.3 456.6L218.1 456.8L218.9 456.4L219.7 455.9L220.5 456.0L221.3 456.5L222.1 456.1L222.9 455.2L223.7 457.9L224.5 461.3L225.3 460.9L226.1 460.8L226.9 460.9L227.7 461.0L228.5 460.4L229.3 459.4L230.1 459.1L230.9 459.2L231.7 459.3L232.5 459.2L233.3 458.7L234.1 458.4L234.9 458.8L235.7 458.5L236.5 457.5L237.3 457.0L238.1 456.7L238.9 456.3L239.7 456.1L240.5 456.2L241.3 455.6L242.1 455.1L242.9 455.0L243.7 454.5L244.5 454.1L245.3 453.8L246.1 453.4L246.9 453.0L247.7 452.8L248.5 452.6L249.3 452.4L250.1 452.1L250.9 452.0L251.7 451.9L252.5 451.5L253.3 451.1L254.1 450.8L254.9 450.4L255.7 450.3L256.5 450.2L257.3 449.8L258.1 449.7L258.9 449.8L259.7 449.7L260.5 449.0L261.3 448.5L262.1 448.8L262.9 448.6L263.7 448.2L264.5 448.2L265.3 447.8L266.1 447.4L266.9 447.4L267.7 447.3L268.5 446.8L269.3 446.4L270.1 446.5L270.9 445.8L271.7 445.1L272.5 445.1L273.3 444.9L274.1 444.5L274.9 444.1L275.7 443.9L276.5 443.7L277.3 443.4L278.1 443.3L278.9 442.9L279.7 442.6L280.5 442.7L281.3 442.6L282.1 442.2L282.9 441.9L283.7 441.7L284.5 441.1L285.3 440.9L286.1 440.9L286.9 440.7L287.7 440.7L288.5 440.8L289.3 440.6L290.1 440.0L290.9 439.8L291.7 439.6L292.5 439.6L293.3 440.1L294.1 439.6L294.9 439.1L295.7 439.3L296.5 438.8L297.3 438.4L298.1 438.7L298.9 438.8L299.7 438.3L300.5 438.1L301.3 438.0L302.1 437.7L302.9 437.7L303.7 437.6L304.5 437.0L305.3 436.7L306.1 436.8L306.9 437.1L307.7 437.5L308.5 437.6L309.3 437.6L310.1 437.6L310.9 437.4L311.7 437.3L312.5 437.8L313.3 438.1L314.1 437.6L314.9 437.4L315.7 437.5L316.5 437.5L317.3 437.6L318.1 437.8L318.9 438.1L319.7 438.4L320.5 438.4L321.3 438.4L322.1 438.5L322.9 438.6L323.7 438.7L324.5 437.4L325.3 436.2L326.1 435.5L326.9 434.5L327.7 433.5L328.5 432.9L329.3 433.0L330.1 433.4L330.9 433.2L331.7 432.7L332.5 432.5L333.3 432.6L334.1 432.5L334.9 432.2L335.7 432.1L336.5 432.2L337.3 432.3L338.1 432.6L338.9 432.5L339.7 432.2L340.5 431.7L341.3 431.4L342.1 431.5" fill="none" stroke="#fb8016" stroke-width="1.8" stroke-linejoin="round" stroke-linecap="butt"/>
<path d="M74.9 485.8L75.7 485.3L76.5 484.7L77.3 484.4L78.1 484.9L78.9 484.8L79.7 484.2L80.5 483.9L81.3 483.5L82.1 483.1L82.9 483.0L83.7 482.5L84.5 482.0L85.3 481.8L86.1 481.9L86.9 481.8L87.7 481.7L88.5 481.4L89.3 481.2L90.1 481.2L90.9 481.3L91.7 481.3L92.5 481.1L93.3 480.8L94.1 480.6L94.9 480.9L95.7 480.9L96.5 479.9L97.3 479.3L98.1 479.6L98.9 480.0L99.7 480.2L100.5 480.2L101.3 480.0L102.1 479.7L102.9 479.4L103.7 479.3L104.5 479.1L105.3 478.7L106.1 478.6L106.9 478.9L107.7 479.0L108.5 478.3L109.3 477.8L110.1 478.0L110.9 478.2L111.7 478.1L112.5 477.8L113.3 477.4L114.1 477.6L114.9 477.2L115.7 476.4L116.5 476.2L117.3 476.3L118.1 476.0L118.9 476.1L119.7 476.0L120.5 475.4L121.3 474.6L122.1 474.4L122.9 474.4L123.7 474.1L124.5 473.8L125.3 473.7L126.1 473.4L126.9 472.8L127.7 472.1L128.5 472.0L129.3 472.5L130.1 472.7L130.9 472.5L131.7 471.8L132.5 471.3L133.3 471.1L134.1 470.6L134.9 469.9L135.7 469.9L136.5 470.2L137.3 469.9L138.1 469.3L138.9 468.7L139.7 468.4L140.5 468.3L141.3 467.8L142.1 467.3L142.9 466.9L143.7 466.6L144.5 466.6L145.3 466.4L146.1 466.0L146.9 465.8L147.7 465.3L148.5 464.8L149.3 464.4L150.1 464.2L150.9 463.9L151.7 463.5L152.5 463.0L153.3 462.7L154.1 462.2L154.9 461.8L155.7 461.9L156.5 462.0L157.3 461.9L158.1 461.8L158.9 461.7L159.7 460.9L160.5 460.4L161.3 460.2L162.1 459.6L162.9 459.2L163.7 458.7L164.5 458.2L165.3 457.7L166.1 457.5L166.9 456.9L167.7 456.4L168.5 456.3L169.3 455.8L170.1 454.8L170.9 454.0L171.7 453.5L172.5 453.2L173.3 454.5L174.1 456.0L174.9 457.2L175.7 457.0L176.5 456.7L177.3 456.3L178.1 456.3L178.9 456.4L179.7 456.5L180.5 456.2L181.3 455.5L182.1 455.1L182.9 454.9L183.7 454.8L184.5 454.2L185.3 453.5L186.1 452.8L186.9 452.4L187.7 452.2L188.5 451.8L189.3 451.3L190.1 450.8L190.9 450.5L191.7 450.3L192.5 450.2L193.3 449.8L194.1 449.1L194.9 448.5L195.7 448.1L196.5 447.8L197.3 447.6L198.1 447.5L198.9 447.3L199.7 447.3L200.5 447.2L201.3 446.9L202.1 446.3L202.9 445.7L203.7 445.5L204.5 445.2L205.3 444.9L206.1 445.1L206.9 445.0L207.7 444.8L208.5 444.8L209.3 444.6L210.1 444.0L210.9 443.6L211.7 443.6L212.5 443.4L213.3 443.1L214.1 443.1L214.9 442.7L215.7 442.0L216.5 441.8L217.3 441.8L218.1 442.0L218.9 441.8L219.7 441.0L220.5 440.7L221.3 440.7L222.1 440.8L222.9 442.0L223.7 444.5L224.5 445.2L225.3 444.5L226.1 443.7L226.9 443.5L227.7 443.3L228.5 442.5L229.3 441.9L230.1 441.9L230.9 441.7L231.7 440.7L232.5 439.9L233.3 439.5L234.1 438.7L234.9 438.3L235.7 438.2L236.5 437.9L237.3 437.5L238.1 437.4L238.9 436.8L239.7 435.7L240.5 435.2L241.3 435.5L242.1 435.7L242.9 435.2L243.7 434.7L244.5 434.4L245.3 434.2L246.1 433.8L246.9 433.2L247.7 432.7L248.5 432.7L249.3 432.3L250.1 431.7L250.9 431.7L251.7 431.2L252.5 430.1L253.3 429.5L254.1 429.6L254.9 429.5L255.7 428.6L256.5 428.2L257.3 428.3L258.1 428.0L258.9 427.9L259.7 428.4L260.5 428.2L261.3 427.3L262.1 426.6L262.9 426.0L263.7 425.4L264.5 424.2L265.3 422.7L266.1 420.8L266.9 420.4L267.7 420.5L268.5 420.3L269.3 419.9L270.1 419.5L270.9 418.6L271.7 417.8L272.5 417.4L273.3 417.5L274.1 417.4L274.9 417.1L275.7 416.5L276.5 415.8L277.3 415.3L278.1 414.9L278.9 414.7L279.7 415.0L280.5 414.5L281.3 413.5L282.1 413.0L282.9 412.7L283.7 412.4L284.5 412.2L285.3 411.9L286.1 411.6L286.9 411.4L287.7 411.1L288.5 410.6L289.3 410.3L290.1 410.2L290.9 410.2L291.7 410.1L292.5 410.2L293.3 410.2L294.1 409.8L294.9 409.3L295.7 408.9L296.5 408.7L297.3 408.7L298.1 408.2L298.9 407.5L299.7 407.6L300.5 407.1L301.3 406.1L302.1 406.0L302.9 405.8L303.7 405.3L304.5 405.1L305.3 405.1L306.1 405.2L306.9 405.4L307.7 405.3L308.5 404.7L309.3 404.3L310.1 404.0L310.9 403.4L311.7 402.6L312.5 402.1L313.3 402.2L314.1 401.4L314.9 398.3L315.7 394.7L316.5 392.4L317.3 392.0L318.1 392.0L318.9 391.6L319.7 390.8L320.5 390.1L321.3 389.9L322.1 389.9L322.9 389.5L323.7 388.8L324.5 388.5L325.3 388.1L326.1 387.3L326.9 386.6L327.7 386.0L328.5 385.8L329.3 386.2L330.1 386.2L330.9 385.3L331.7 384.9L332.5 384.7L333.3 384.2L334.1 383.9L334.9 383.7L335.7 383.5L336.5 383.2L337.3 382.9L338.1 382.7L338.9 382.0L339.7 381.3L340.5 381.4L341.3 381.5L342.1 381.2" fill="none" stroke="#63bf26" stroke-width="1.8" stroke-linejoin="round" stroke-linecap="butt"/>
<path d="M74.9 483.0L75.7 482.1L76.5 481.8L77.3 481.6L78.1 481.1L78.9 480.6L79.7 480.1L80.5 479.9L81.3 480.1L82.1 480.3L82.9 479.6L83.7 478.7L84.5 478.3L85.3 477.8L86.1 477.3L86.9 477.1L87.7 477.0L88.5 476.6L89.3 476.3L90.1 475.8L90.9 475.5L91.7 475.4L92.5 474.8L93.3 474.1L94.1 473.7L94.9 473.8L95.7 473.7L96.5 473.0L97.3 472.6L98.1 472.3L98.9 471.8L99.7 471.6L100.5 471.6L101.3 471.5L102.1 471.3L102.9 470.8L103.7 470.4L104.5 470.5L105.3 470.3L106.1 470.0L106.9 470.3L107.7 470.4L108.5 469.9L109.3 469.6L110.1 469.7L110.9 469.9L111.7 470.0L112.5 469.8L113.3 469.6L114.1 469.7L114.9 470.2L115.7 470.4L116.5 470.3L117.3 470.0L118.1 469.4L118.9 468.9L119.7 468.4L120.5 467.9L121.3 468.0L122.1 467.7L122.9 467.0L123.7 466.7L124.5 466.5L125.3 466.1L126.1 465.4L126.9 465.1L127.7 465.4L128.5 464.9L129.3 464.0L130.1 463.7L130.9 463.7L131.7 463.4L132.5 463.2L133.3 462.6L134.1 462.1L134.9 461.9L135.7 461.8L136.5 461.3L137.3 460.5L138.1 460.2L138.9 460.4L139.7 460.2L140.5 459.8L141.3 459.5L142.1 458.8L142.9 458.1L143.7 457.6L144.5 457.5L145.3 457.3L146.1 456.6L146.9 456.2L147.7 456.1L148.5 456.0L149.3 455.6L150.1 454.8L150.9 454.4L151.7 454.6L152.5 454.7L153.3 454.4L154.1 453.8L154.9 453.4L155.7 453.0L156.5 452.8L157.3 452.5L158.1 452.0L158.9 451.7L159.7 451.5L160.5 451.3L161.3 451.1L162.1 451.1L162.9 450.6L163.7 449.6L164.5 448.4L165.3 447.8L166.1 447.5L166.9 446.8L167.7 446.1L168.5 446.0L169.3 445.6L170.1 444.4L170.9 443.6L171.7 444.1L172.5 445.2L173.3 446.4L174.1 447.4L174.9 446.9L175.7 446.3L176.5 446.1L177.3 445.9L178.1 445.5L178.9 444.9L179.7 444.0L180.5 443.5L181.3 443.3L182.1 443.3L182.9 442.9L183.7 442.1L184.5 441.7L185.3 441.3L186.1 440.7L186.9 440.3L187.7 440.5L188.5 440.4L189.3 439.5L190.1 438.6L190.9 438.0L191.7 437.7L192.5 437.8L193.3 437.6L194.1 437.1L194.9 436.6L195.7 436.3L196.5 435.7L197.3 435.1L198.1 434.9L198.9 434.8L199.7 434.3L200.5 434.0L201.3 433.6L202.1 433.6L202.9 433.4L203.7 433.0L204.5 432.7L205.3 432.6L206.1 432.5L206.9 432.0L207.7 431.2L208.5 431.0L209.3 430.8L210.1 430.5L210.9 430.5L211.7 430.5L212.5 430.2L213.3 429.9L214.1 429.7L214.9 429.2L215.7 428.9L216.5 428.7L217.3 428.6L218.1 428.8L218.9 428.7L219.7 428.4L220.5 427.7L221.3 427.2L222.1 427.1L222.9 428.0L223.7 430.3L224.5 431.3L225.3 431.0L226.1 430.6L226.9 430.0L227.7 429.4L228.5 428.7L229.3 427.9L230.1 427.4L230.9 427.0L231.7 426.9L232.5 426.6L233.3 426.1L234.1 425.7L234.9 425.4L235.7 424.6L236.5 423.9L237.3 423.0L238.1 422.4L238.9 422.0L239.7 421.4L240.5 421.1L241.3 420.9L242.1 420.4L242.9 419.6L243.7 418.9L244.5 418.4L245.3 417.9L246.1 417.5L246.9 417.2L247.7 416.8L248.5 416.3L249.3 415.8L250.1 415.3L250.9 414.7L251.7 414.4L252.5 414.3L253.3 414.4L254.1 413.9L254.9 413.0L255.7 412.6L256.5 412.3L257.3 411.8L258.1 411.5L258.9 410.8L259.7 410.1L260.5 409.9L261.3 409.7L262.1 409.2L262.9 408.7L263.7 408.6L264.5 407.8L265.3 406.3L266.1 405.3L266.9 404.4L267.7 404.4L268.5 404.4L269.3 403.9L270.1 403.1L270.9 402.8L271.7 403.1L272.5 403.1L273.3 402.6L274.1 402.1L274.9 401.9L275.7 401.8L276.5 401.6L277.3 401.1L278.1 400.6L278.9 400.4L279.7 399.9L280.5 399.5L281.3 399.5L282.1 399.1L282.9 398.5L283.7 397.9L284.5 397.7L285.3 397.8L286.1 397.7L286.9 397.5L287.7 397.2L288.5 396.7L289.3 396.2L290.1 396.0L290.9 395.6L291.7 395.1L292.5 395.0L293.3 394.7L294.1 394.1L294.9 393.6L295.7 393.6L296.5 393.4L297.3 392.6L298.1 392.0L298.9 391.8L299.7 391.4L300.5 390.7L301.3 390.6L302.1 390.5L302.9 390.0L303.7 389.9L304.5 389.4L305.3 388.7L306.1 388.2L306.9 387.6L307.7 387.6L308.5 387.6L309.3 387.2L310.1 387.0L310.9 386.6L311.7 386.2L312.5 385.4L313.3 384.6L314.1 384.3L314.9 383.7L315.7 382.7L316.5 381.9L317.3 381.6L318.1 381.0L318.9 380.4L319.7 380.3L320.5 380.3L321.3 379.9L322.1 379.8L322.9 379.6L323.7 378.8L324.5 377.9L325.3 377.5L326.1 377.5L326.9 377.5L327.7 377.1L328.5 376.6L329.3 376.1L330.1 375.8L330.9 375.3L331.7 374.8L332.5 374.2L333.3 373.8L334.1 373.6L334.9 373.3L335.7 373.1L336.5 373.1L337.3 373.2L338.1 373.2L338.9 372.6L339.7 371.8L340.5 371.6L341.3 371.2L342.1 370.7" fill="none" stroke="#8531ab" stroke-width="1.8" stroke-linejoin="round" stroke-linecap="butt"/>
<path d="M74.9 489.4L75.7 489.5L76.5 489.7L77.3 489.1L78.1 488.3L78.9 488.1L79.7 488.0L80.5 487.7L81.3 487.3L82.1 487.4L82.9 487.6L83.7 487.5L84.5 487.2L85.3 486.5L86.1 486.4L86.9 486.4L87.7 486.0L88.5 485.9L89.3 485.7L90.1 485.2L90.9 485.0L91.7 485.0L92.5 485.1L93.3 485.2L94.1 484.9L94.9 484.3L95.7 484.1L96.5 484.1L97.3 483.9L98.1 483.4L98.9 483.4L99.7 483.4L100.5 483.2L101.3 483.4L102.1 483.4L102.9 483.4L103.7 483.0L104.5 482.3L105.3 482.0L106.1 482.2L106.9 482.3L107.7 482.1L108.5 481.5L109.3 481.1L110.1 481.0L110.9 480.9L111.7 480.8L112.5 481.0L113.3 481.1L114.1 480.4L114.9 479.1L115.7 478.2L116.5 477.0L117.3 476.3L118.1 476.2L118.9 475.9L119.7 475.4L120.5 475.3L121.3 474.9L122.1 474.5L122.9 474.4L123.7 474.1L124.5 473.8L125.3 473.2L126.1 472.7L126.9 472.2L127.7 471.9L128.5 471.7L129.3 471.0L130.1 470.7L130.9 470.9L131.7 470.2L132.5 469.7L133.3 469.7L134.1 469.4L134.9 468.9L135.7 468.2L136.5 467.6L137.3 466.9L138.1 466.4L138.9 466.4L139.7 466.5L140.5 466.7L141.3 466.5L142.1 465.7L142.9 465.2L143.7 464.7L144.5 464.1L145.3 463.4L146.1 463.0L146.9 462.7L147.7 462.5L148.5 462.3L149.3 462.2L150.1 462.2L150.9 461.8L151.7 461.4L152.5 461.2L153.3 460.7L154.1 460.1L154.9 459.7L155.7 459.5L156.5 459.4L157.3 459.1L158.1 458.6L158.9 458.1L159.7 457.6L160.5 457.1L161.3 456.7L162.1 456.5L162.9 456.1L163.7 455.5L164.5 455.1L165.3 454.4L166.1 454.0L166.9 453.7L167.7 453.0L168.5 452.3L169.3 451.7L170.1 451.3L170.9 451.2L171.7 450.7L172.5 450.3L173.3 450.5L174.1 450.0L174.9 449.0L175.7 448.5L176.5 448.3L177.3 447.8L178.1 446.9L178.9 446.4L179.7 446.1L180.5 445.6L181.3 445.2L182.1 444.6L182.9 443.7L183.7 442.9L184.5 442.4L185.3 442.6L186.1 442.7L186.9 442.1L187.7 442.0L188.5 441.7L189.3 441.0L190.1 440.5L190.9 440.0L191.7 439.4L192.5 439.1L193.3 438.9L194.1 438.7L194.9 438.3L195.7 437.7L196.5 437.3L197.3 436.8L198.1 436.5L198.9 436.3L199.7 435.9L200.5 435.5L201.3 435.1L202.1 434.6L202.9 434.1L203.7 434.0L204.5 433.9L205.3 433.7L206.1 433.5L206.9 432.5L207.7 431.4L208.5 431.6L209.3 431.9L210.1 431.4L210.9 430.6L211.7 430.5L212.5 430.8L213.3 430.7L214.1 430.3L214.9 430.0L215.7 429.9L216.5 429.4L217.3 428.7L218.1 428.7L218.9 428.5L219.7 428.2L220.5 428.1L221.3 427.3L222.1 426.8L222.9 427.2L223.7 427.1L224.5 426.3L225.3 425.8L226.1 425.3L226.9 424.8L227.7 424.5L228.5 424.2L229.3 423.6L230.1 423.1L230.9 422.9L231.7 423.1L232.5 422.9L233.3 422.2L234.1 421.4L234.9 421.0L235.7 421.1L236.5 420.7L237.3 420.0L238.1 419.5L238.9 418.9L239.7 418.7L240.5 418.5L241.3 417.8L242.1 417.4L242.9 417.6L243.7 417.5L244.5 417.1L245.3 416.7L246.1 416.4L246.9 416.2L247.7 415.7L248.5 415.1L249.3 414.8L250.1 414.6L250.9 414.6L251.7 414.3L252.5 413.4L253.3 412.5L254.1 411.8L254.9 411.4L255.7 411.2L256.5 410.9L257.3 410.4L258.1 410.1L258.9 409.6L259.7 408.7L260.5 408.4L261.3 408.6L262.1 408.2L262.9 407.6L263.7 407.2L264.5 405.5L265.3 403.3L266.1 401.4L266.9 401.2L267.7 401.1L268.5 400.9L269.3 400.4L270.1 399.8L270.9 399.5L271.7 399.2L272.5 398.6L273.3 398.0L274.1 397.8L274.9 397.7L275.7 397.6L276.5 397.3L277.3 396.8L278.1 396.4L278.9 395.9L279.7 395.7L280.5 395.6L281.3 395.6L282.1 395.1L282.9 394.5L283.7 394.3L284.5 394.0L285.3 393.5L286.1 393.1L286.9 393.1L287.7 393.4L288.5 393.0L289.3 392.3L290.1 391.6L290.9 391.1L291.7 391.1L292.5 391.0L293.3 390.7L294.1 390.2L294.9 390.2L295.7 390.1L296.5 389.4L297.3 389.0L298.1 388.6L298.9 388.4L299.7 388.5L300.5 388.2L301.3 387.5L302.1 387.2L302.9 386.9L303.7 386.3L304.5 385.8L305.3 385.5L306.1 385.3L306.9 385.4L307.7 385.6L308.5 385.6L309.3 385.3L310.1 384.6L310.9 383.9L311.7 383.4L312.5 382.9L313.3 382.5L314.1 382.2L314.9 380.5L315.7 378.6L316.5 377.9L317.3 378.0L318.1 377.8L318.9 377.1L319.7 376.7L320.5 376.2L321.3 375.7L322.1 375.5L322.9 375.1L323.7 374.6L324.5 374.4L325.3 373.9L326.1 373.5L326.9 373.1L327.7 372.7L328.5 372.6L329.3 372.4L330.1 372.0L330.9 371.9L331.7 372.0L332.5 371.4L333.3 371.1L334.1 370.9L334.9 370.5L335.7 370.2L336.5 369.9L337.3 369.8L338.1 369.3L338.9 369.0L339.7 369.3L340.5 369.1L341.3 368.7L342.1 368.6" fill="none" stroke="#f0141e" stroke-width="1.8" stroke-linejoin="round" stroke-linecap="butt"/>
<path d="M74.9 485.8L75.4 485.4L75.9 485.0L76.4 484.6L76.9 484.1L77.4 483.7L77.9 483.2L78.4 482.7L78.9 482.2L79.4 481.7L79.9 481.1L80.4 480.6L80.9 480.0L81.4 479.4L81.9 478.8L82.4 478.2L82.9 477.5L83.4 476.9L83.9 476.2L84.4 475.5L84.9 474.8L85.4 474.1L85.9 473.3L86.4 472.6L86.9 471.8L87.4 471.0L87.9 470.2L88.4 469.3L88.9 468.4L89.4 467.5L89.9 466.5L90.4 465.5L90.9 464.4L91.4 463.2L91.9 462.0L92.4 460.8L92.9 459.6L93.4 458.3L93.9 457.1L94.4 455.8L94.9 454.5L95.4 453.2L95.9 451.8L96.4 450.5L96.9 449.1L97.4 447.7L97.9 446.3L98.4 444.9L98.9 443.5L99.4 442.2L99.9 440.8L100.4 439.4L100.9 438.1L101.4 436.7L101.9 435.4L102.4 434.0L102.9 432.6L103.4 431.3L103.9 430.0L104.4 428.6L104.9 427.3L105.4 426.1L105.9 424.9L106.4 423.6L106.9 422.4L107.4 421.1L107.9 419.7L108.4 418.2L108.9 416.7L109.4 415.0L109.9 413.3L110.4 411.6L110.9 410.0L111.4 408.3L111.9 406.7L112.4 405.2L112.9 403.7L113.4 402.2L113.9 400.6L114.4 399.2L114.9 397.8L115.4 396.5L115.9 395.3L116.4 394.3L116.9 393.5L117.4 392.7L117.9 392.0L118.4 391.4L118.9 390.8L119.4 390.2L119.9 389.5L120.4 388.7L120.9 387.8L121.4 386.8L121.9 385.7L122.4 384.6L122.9 383.4L123.4 382.2L123.9 380.9L124.4 379.5L124.9 378.1L125.4 376.7L125.9 375.3L126.4 373.9L126.9 372.6L127.4 371.2L127.9 369.9L128.4 368.6L128.9 367.2L129.4 365.9L129.9 364.6L130.4 363.2L130.9 361.9L131.4 360.6L131.9 359.3L132.4 358.0L132.9 356.8L133.4 355.5L133.9 354.3L134.4 353.2L134.9 352.1L135.4 350.9L135.9 349.9L136.4 348.8L136.9 347.8L137.4 346.8L137.9 346.0L138.4 345.2L138.9 344.4L139.4 343.6L139.9 343.0L140.4 342.4L140.9 341.9L141.4 341.5L141.9 341.0L142.4 340.7L142.9 340.4L143.4 340.1L143.9 339.8L144.4 339.6L144.9 339.4L145.4 339.2L145.9 339.0L146.4 338.9L146.9 338.8L147.4 338.6L147.9 338.5L148.4 338.4L148.9 338.3L149.4 338.2L149.9 338.1L150.4 338.0L150.9 337.9L151.4 337.9L151.9 337.8L152.4 337.7L152.9 337.6L153.4 337.5L153.9 337.5L154.4 337.4L154.9 337.3L155.4 337.3L155.9 337.2L156.4 337.1L156.9 337.0L157.4 337.0L157.9 336.9L158.4 336.8L158.9 336.7L159.4 336.7L159.9 336.6L160.4 336.5L160.9 336.4L161.4 336.4L161.9 336.3L162.4 336.2L162.9 336.2L163.4 336.1L163.9 336.0L164.4 336.0L164.9 335.9L165.4 335.8L165.9 335.8L166.4 335.7L166.9 335.6L167.4 335.6L167.9 335.5L168.4 335.4L168.9 335.4L169.4 335.3L169.9 335.3L170.4 335.2L170.9 335.1L171.4 335.1L171.9 335.0L172.4 335.0L172.9 334.9L173.4 334.8L173.9 334.8L174.4 334.7L174.9 334.7L175.4 334.6L175.9 334.5L176.4 334.5L176.9 334.4L177.4 334.4L177.9 334.3L178.4 334.3L178.9 334.2L179.4 334.2L179.9 334.1L180.4 334.1L180.9 334.0L181.4 334.0L181.9 334.0L182.4 333.9L182.9 333.9L183.4 333.8L183.9 333.8L184.4 333.8L184.9 333.7L185.4 333.7L185.9 333.6L186.4 333.6L186.9 333.6L187.4 333.5L187.9 333.5L188.4 333.5L188.9 333.4L189.4 333.4L189.9 333.4L190.4 333.3L190.9 333.3L191.4 333.3L191.9 333.3L192.4 333.3L192.9 333.2L193.4 333.2L193.9 333.2L194.4 333.2L194.9 333.2L195.4 333.2L195.9 333.2L196.4 333.2L196.9 333.2L197.4 333.2L197.9 333.2L198.4 333.2L198.9 333.2L199.4 333.2L199.9 333.2L200.4 333.2L200.9 333.2L201.4 333.2L201.9 333.2L202.4 333.2L202.9 333.2L203.4 333.2L203.9 333.2L204.4 333.2L204.9 333.1L205.4 333.1L205.9 333.1L206.4 333.1L206.9 333.1L207.4 333.1L207.9 333.1L208.4 333.1L208.9 333.1L209.4 333.1L209.9 333.1L210.4 333.1L210.9 333.1L211.4 333.1L211.9 333.1L212.4 333.1L212.9 333.1L213.4 333.1L213.9 333.1L214.4 333.1L214.9 333.1L215.4 333.1L215.9 333.1L216.4 333.1L216.9 333.1L217.4 333.1L217.9 333.1L218.4 333.1L218.9 333.1L219.4 333.1L219.9 333.1L220.4 333.1L220.9 333.1L221.4 333.1L221.9 333.1L222.4 333.1L222.9 333.1L223.4 333.1L223.9 333.1L224.4 333.1L224.9 333.1L225.4 333.1L225.9 333.1L226.4 333.1L226.9 333.1L227.4 333.1L227.9 333.1L228.4 333.1L228.9 333.1L229.4 333.1L229.9 333.1L230.4 333.1L230.9 333.1L231.4 333.1L231.9 333.1L232.4 333.1L232.9 333.1L233.4 333.1L233.9 333.1L234.4 333.1L234.9 333.1L235.4 333.1L235.9 333.1L236.4 333.1L236.9 333.1L237.4 333.1L237.9 333.1L238.4 333.1L238.9 333.1L239.4 333.1L239.9 333.1L240.4 333.1L240.9 333.1L241.4 333.1L241.9 333.1L242.4 333.1L242.9 333.1L243.4 333.1L243.9 333.1L244.4 333.1L244.9 333.1L245.4 333.1L245.9 333.1L246.4 333.1L246.9 333.1L247.4 333.1L247.9 333.1L248.4 333.1L248.9 333.1L249.4 333.1L249.9 333.1L250.4 333.1L250.9 333.1L251.4 333.1L251.9 333.1L252.4 333.1L252.9 333.1L253.4 333.1L253.9 333.1L254.4 333.1L254.9 333.1L255.4 333.1L255.9 333.1L256.4 333.1L256.9 333.1L257.4 333.1L257.9 333.1L258.4 333.1L258.9 333.1L259.4 333.1L259.9 333.1L260.4 333.1L260.9 333.1L261.4 333.1L261.9 333.1L262.4 333.1L262.9 333.1L263.4 333.1L263.9 333.1L264.4 333.1L264.9 333.1L265.4 333.1L265.9 333.1L266.4 333.1L266.9 333.1L267.4 333.1L267.9 333.1L268.4 333.1L268.9 333.1L269.4 333.1L269.9 333.1L270.4 333.1L270.9 333.1L271.4 333.1L271.9 333.1L272.4 333.1L272.9 333.1L273.4 333.1L273.9 333.1L274.4 333.1L274.9 333.1L275.4 333.1L275.9 333.1L276.4 333.1L276.9 333.1L277.4 333.1L277.9 333.1L278.4 333.1L278.9 333.1L279.4 333.1L279.9 333.1L280.4 333.1L280.9 333.1L281.4 333.1L281.9 333.1L282.4 333.1L282.9 333.1L283.4 333.1L283.9 333.1L284.4 333.1L284.9 333.1L285.4 333.1L285.9 333.1L286.4 333.1L286.9 333.1L287.4 333.1L287.9 333.1L288.4 333.1L288.9 333.1L289.4 333.1L289.9 333.1L290.4 333.1L290.9 333.1L291.4 333.1L291.9 333.1L292.4 333.1L292.9 333.1L293.4 333.1L293.9 333.1L294.4 333.1L294.9 333.1L295.4 333.1L295.9 333.1L296.4 333.1L296.9 333.1L297.4 333.1L297.9 333.1L298.4 333.1L298.9 333.1L299.4 333.1L299.9 333.1L300.4 333.1L300.9 333.1L301.4 333.1L301.9 333.1L302.4 333.1L302.9 333.1L303.4 333.1L303.9 333.1L304.4 333.1L304.9 333.1L305.4 333.1L305.9 333.1L306.4 333.1L306.9 333.1L307.4 333.1L307.9 333.1L308.4 333.1L308.9 333.1L309.4 333.1L309.9 333.1L310.4 333.1L310.9 333.1L311.4 333.1L311.9 333.1L312.4 333.1L312.9 333.1L313.4 333.1L313.9 333.1L314.4 333.1L314.9 333.1L315.4 333.1L315.9 333.1L316.4 333.1L316.9 333.1L317.4 333.1L317.9 333.1L318.4 333.1L318.9 333.1L319.4 333.1L319.9 333.1L320.4 333.1L320.9 333.1L321.4 333.1L321.9 333.1L322.4 333.1L322.9 333.1L323.4 333.1L323.9 333.1L324.4 333.1L324.9 333.1L325.4 333.1L325.9 333.1L326.4 333.1L326.9 333.1L327.4 333.1L327.9 333.1L328.4 333.1L328.9 333.1L329.4 333.1L329.9 333.1L330.4 333.1L330.9 333.1L331.4 333.1L331.9 333.1L332.4 333.1L332.9 333.1L333.4 333.1L333.9 333.1L334.4 333.1L334.9 333.1L335.4 333.1L335.9 333.1L336.4 333.1L336.9 333.1L337.4 333.1L337.9 333.1L338.4 333.1L338.9 333.1L339.4 333.1L339.9 333.1L340.4 333.1L340.9 333.1L341.4 333.1L341.9 333.1L342.4 333.1" fill="none" stroke="#2445b4" stroke-width="1.8" stroke-linejoin="round" stroke-linecap="butt"/>
<line x1="393.5" y1="352.2" x2="416.2" y2="352.2" stroke="#2445b4" stroke-width="1.9"/>
<text x="427.70" y="357.70" font-size="13.1" font-weight="normal" fill="#111" text-anchor="start" stroke="#111" stroke-width="0.3">DMSO</text>
<line x1="393.5" y1="379.8" x2="416.2" y2="379.8" stroke="#f0141e" stroke-width="1.9"/>
<text x="427.70" y="385.30" font-size="13.1" font-weight="normal" fill="#111" text-anchor="start" stroke="#111" stroke-width="0.3">PI3K<tspan font-style="italic">i</tspan></text>
<line x1="393.5" y1="407.3" x2="416.2" y2="407.3" stroke="#63bf26" stroke-width="1.9"/>
<text x="427.70" y="412.80" font-size="13.1" font-weight="normal" fill="#111" text-anchor="start" stroke="#111" stroke-width="0.3">PI3K<tspan font-style="italic">i</tspan> + 3 µM SGK3<tspan font-style="italic">i</tspan></text>
<line x1="393.5" y1="434.9" x2="416.2" y2="434.9" stroke="#fb8016" stroke-width="1.9"/>
<text x="427.70" y="440.40" font-size="13.1" font-weight="normal" fill="#111" text-anchor="start" stroke="#111" stroke-width="0.3">PI3K<tspan font-style="italic">i</tspan> + 0.3 µM SGK3-PROTAC1</text>
<line x1="393.5" y1="462.5" x2="416.2" y2="462.5" stroke="#8531ab" stroke-width="1.9"/>
<text x="427.70" y="468.00" font-size="13.1" font-weight="normal" fill="#111" text-anchor="start" textLength="206.60" lengthAdjust="spacingAndGlyphs" stroke="#111" stroke-width="0.3">PI3K<tspan font-style="italic">i</tspan> + 0.3 µM cisSGK3-PROTAC1</text>
</svg>
</body>
</html>
